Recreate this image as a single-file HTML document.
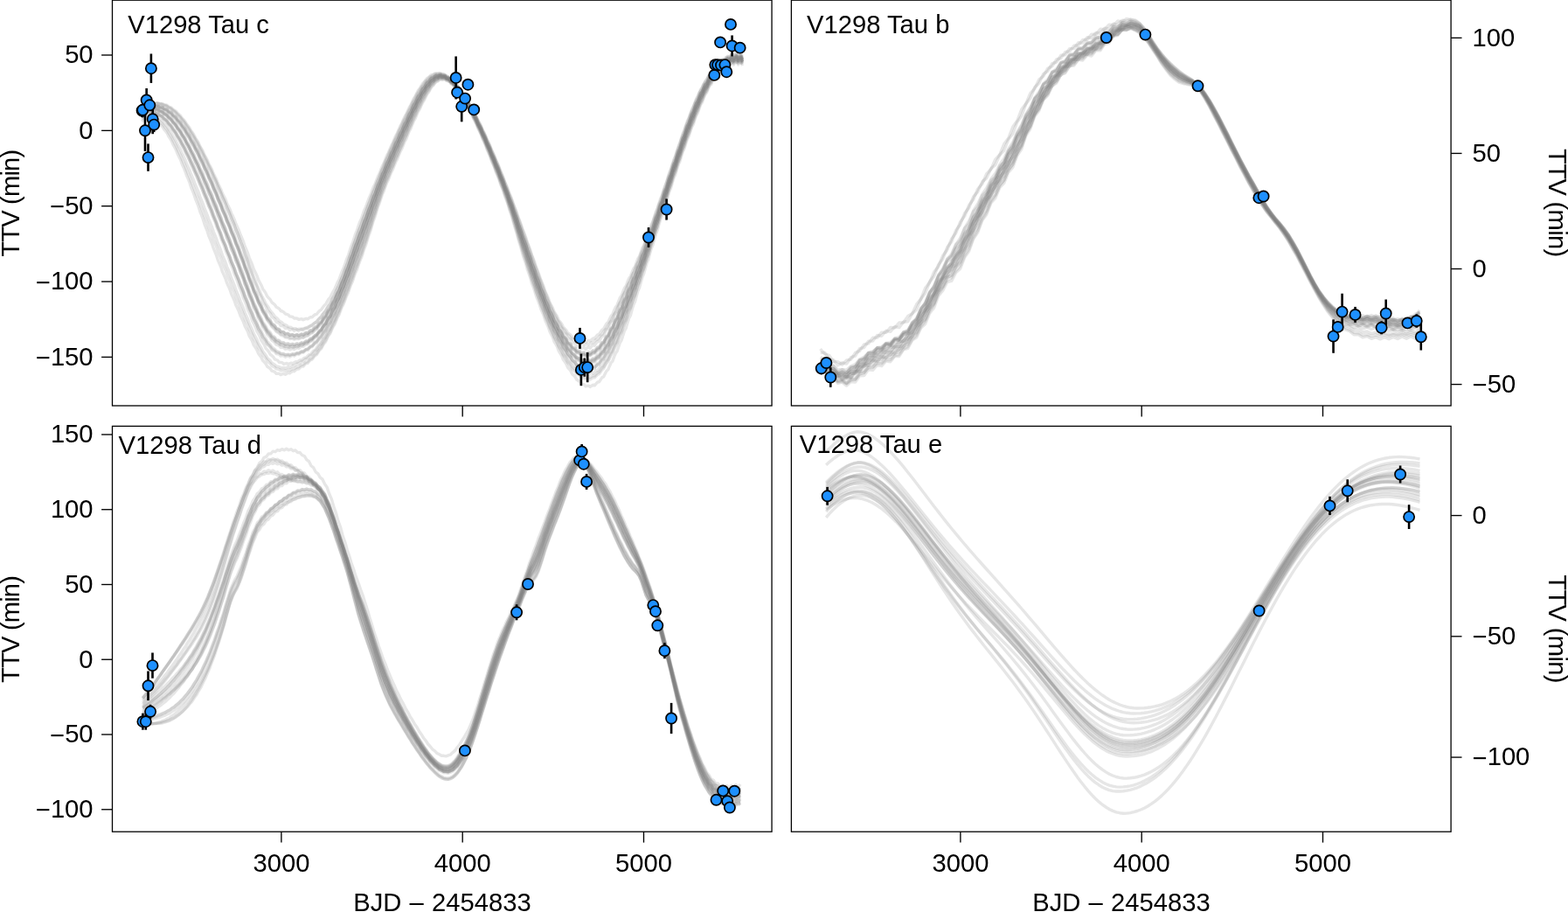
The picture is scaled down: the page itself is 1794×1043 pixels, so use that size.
<!DOCTYPE html>
<html lang="en"><head><meta charset="utf-8"><title>V1298 Tau transit timing variations</title>
<style>html,body{margin:0;padding:0;background:#fff;}body{width:1794px;height:1043px;overflow:hidden;}svg{display:block;}text{font-family:"Liberation Sans", sans-serif;font-size:29.2px;fill:#000;}.cv path{fill:none;stroke:#808080;stroke-opacity:0.2;stroke-width:3.4;stroke-linejoin:round;stroke-linecap:butt;}.eb line{stroke:#000;stroke-width:2.6;}.pt circle{fill:#1e90ff;stroke:#000;stroke-width:1.7;}</style></head><body>
<svg xmlns="http://www.w3.org/2000/svg" width="1794" height="1043" viewBox="0 0 1794 1043">
<rect x="0" y="0" width="1794" height="1043" fill="#fff"/>
<clipPath id="clip-c"><rect x="128.5" y="0.2" width="754.55" height="463.8"/></clipPath>
<g class="cv" clip-path="url(#clip-c)">
<path d="M162.2,139.0l1.7-1.8l1.7-1.1l1.7,0l1.7-.9l1.7-.3l1.8,.9l1.7-.1l1.7,.5l1.7,1.6l1.7,.7l1.7,1.2l1.7,2.3l1.7,1.3l1.7,1.8l1.7,3l1.8,2l1.7,2.3l1.7,3.6l1.7,2.4l1.7,2.9l1.7,4.1l1.7,2.9l1.7,3.3l1.7,4.4l1.7,3.4l1.8,3.6l1.7,4.9l1.7,3.6l1.7,4l1.7,5.1l1.7,3.8l1.7,4.2l1.7,5.4l1.7,4l1.7,4.4l1.8,5.5l1.7,4.1l1.7,4.5l1.7,5.5l1.7,4.2l1.7,4.5l1.7,5.6l1.7,4.2l1.7,4.4l1.7,5.5l1.8,4.1l1.7,4.3l1.7,5.4l1.7,4l1.7,4.2l1.7,5.3l1.7,3.8l1.7,4.1l1.7,5.3l1.7,3.7l1.8,4l1.7,5.2l1.7,3.6l1.7,3.9l1.7,5.2l1.7,3.5l1.7,3.8l1.7,5.1l1.7,3.4l1.7,3.8l1.8,5l1.7,3.4l1.7,3.6l1.7,4.9l1.7,3.1l1.7,3.5l1.7,4.7l1.7,2.9l1.7,3.1l1.7,4.5l1.8,2.6l1.7,2.8l1.7,4l1.7,2.2l1.7,2.4l1.7,3.6l1.7,1.8l1.7,1.8l1.7,3.2l1.7,1.1l1.8,1.3l1.7,2.6l1.7,.5l1.7,.6l1.7,2l1.7-.2l1.7,.1l1.7,1.4l1.7-.8l1.7-.4l1.8,.9l1.7-1.1l1.7-.9l1.7,.6l1.7-1.4l1.7-1.2l1.7,.4l1.7-1.6l1.7-1.3l1.7,.2l1.8-1.7l1.7-1.4l1.7,.1l1.7-1.9l1.7-1.5l1.7-.2l1.7-2.1l1.7-1.8l1.7-.4l1.7-2.4l1.8-2.2l1.7-.8l1.7-2.8l1.7-2.6l1.7-1.3l1.7-3.2l1.7-3.1l1.7-1.7l1.7-3.7l1.7-3.5l1.8-2.1l1.7-4.1l1.7-3.8l1.7-2.5l1.7-4.3l1.7-4.2l1.7-2.8l1.7-4.6l1.7-4.4l1.7-3.1l1.8-4.8l1.7-4.6l1.7-3.3l1.7-5l1.7-4.8l1.7-3.5l1.7-5.1l1.7-4.9l1.7-3.5l1.7-5.3l1.8-5l1.7-3.7l1.7-5.4l1.7-5.2l1.7-4l1.7-5.7l1.7-5.5l1.7-4.3l1.7-6l1.7-5.7l1.8-4.5l1.7-5.9l1.7-5.5l1.7-4.1l1.7-5.5l1.7-5l1.7-3.6l1.7-5l1.7-4.6l1.7-3.3l1.8-4.6l1.7-4.3l1.7-3.1l1.7-4.5l1.7-4.1l1.7-3l1.7-4.5l1.7-4.1l1.7-3.1l1.7-4.5l1.8-4.2l1.7-3l1.7-4.5l1.7-4.2l1.7-3l1.7-4.4l1.7-4.1l1.7-2.8l1.7-4.3l1.7-3.9l1.8-2.7l1.7-4l1.7-3.7l1.7-2.4l1.7-3.8l1.7-3.3l1.7-2.1l1.7-3.3l1.7-2.8l1.7-1.4l1.8-2.5l1.7-1.9l1.7-.5l1.7-1.5l1.7-.8l1.7,.6l1.7-.5l1.7,.1l1.7,1.5l1.7,.4l1.8,.8l1.7,2.3l1.7,1l1.7,1.5l1.7,2.8l1.7,1.6l1.7,2l1.7,3.3l1.7,2l1.7,2.4l1.8,3.7l1.7,2.5l1.7,2.8l1.7,4.1l1.7,2.7l1.7,3.2l1.7,4.3l1.7,3.1l1.7,3.4l1.7,4.7l1.7,3.2l1.8,3.7l1.7,4.8l1.7,3.5l1.7,3.8l1.7,5l1.7,3.7l1.7,3.9l1.7,5.2l1.7,3.8l1.7,4.1l1.8,5.3l1.7,3.9l1.7,4.3l1.7,5.4l1.7,4l1.7,4.3l1.7,5.6l1.7,4.3l1.7,4.8l1.7,6.1l1.8,5l1.7,5.3l1.7,6.6l1.7,5.3l1.7,5.6l1.7,6.7l1.7,5.3l1.7,5.5l1.7,6.6l1.7,5l1.8,5.2l1.7,6.4l1.7,4.7l1.7,5l1.7,6.1l1.7,4.5l1.7,4.7l1.7,5.8l1.7,4.2l1.7,4.4l1.8,5.6l1.7,3.9l1.7,4.1l1.7,5.4l1.7,3.6l1.7,3.8l1.7,5.1l1.7,3.3l1.7,3.4l1.7,5l1.8,2.9l1.7,3.1l1.7,4.7l1.7,2.6l1.7,2.8l1.7,4.4l1.7,2.2l1.7,2.5l1.7,4.1l1.7,1.9l1.8,2.2l1.7,3.7l1.7,1.4l1.7,1.7l1.7,3.3l1.7,.9l1.7,1.1l1.7,2.8l1.7,.2l1.7,.4l1.8,2.2l1.7-.5l1.7-.3l1.7,1.4l1.7-1.3l1.7-1l1.7,.6l1.7-2l1.7-1.8l1.7-.1l1.8-2.8l1.7-2.5l1.7-.7l1.7-3.5l1.7-3.2l1.7-1.4l1.7-4.1l1.7-3.8l1.7-1.8l1.7-4.7l1.8-4.3l1.7-2.4l1.7-5.1l1.7-4.8l1.7-2.7l1.7-5.6l1.7-5.2l1.7-3l1.7-6l1.7-5.4l1.8-3.3l1.7-6.2l1.7-5.8l1.7-3.5l1.7-6.4l1.7-5.9l1.7-3.7l1.7-6.5l1.7-5.9l1.7-3.8l1.8-6.6l1.7-6l1.7-3.8l1.7-6.6l1.7-6l1.7-3.9l1.7-6.5l1.7-6l1.7-3.9l1.7-6.5l1.8-5.9l1.7-3.9l1.7-6.4l1.7-5.9l1.7-3.8l1.7-6.3l1.7-5.8l1.7-3.7l1.7-6.2l1.7-5.7l1.8-3.6l1.7-6.1l1.7-5.5l1.7-3.5l1.7-5.9l1.7-5.3l1.7-3.4l1.7-5.8l1.7-5.1l1.7-3.3l1.8-5.5l1.7-5l1.7-3.1l1.7-5.4l1.7-4.8l1.7-2.9l1.7-5.1l1.7-4.6l1.7-2.5l1.7-4.9l1.8-4.2l1.7-2l1.7-4.5l1.7-3.8l1.7-1.2l1.7-4l1.7-3.2l1.7-.5l1.7-3.5l1.7-2.7l1.8,.2l1.7-3.1l1.7-2.2l1.7,.9l1.7-2.7l1.7-1.8l1.7,1.6l1.7-2.3l1.7-1.4l1.7,2.3l1.8-2.1l1.7-1l1.7,3l1.7-1.8l1.7-.8l1.7,3.7"/>
<path d="M162.2,136.4l1.7-1.5l1.7-1l1.7-.2l1.7-.7l1.7-.3l1.8,.6l1.7,0l1.7,.5l1.7,1.3l1.7,.7l1.7,1.1l1.7,1.9l1.7,1.4l1.7,1.7l1.7,2.6l1.8,2l1.7,2.2l1.7,3.2l1.7,2.4l1.7,2.8l1.7,3.6l1.7,3l1.7,3.2l1.7,4l1.7,3.4l1.8,3.5l1.7,4.4l1.7,3.6l1.7,3.9l1.7,4.6l1.7,3.9l1.7,4.1l1.7,4.8l1.7,4l1.7,4.2l1.8,5l1.7,4.1l1.7,4.3l1.7,5l1.7,4.1l1.7,4.4l1.7,5l1.7,4.1l1.7,4.4l1.7,5l1.8,4.1l1.7,4.3l1.7,5l1.7,4.1l1.7,4.2l1.7,5l1.7,4.1l1.7,4.2l1.7,4.9l1.7,4l1.8,4.2l1.7,5l1.7,3.9l1.7,4.2l1.7,4.9l1.7,3.9l1.7,4l1.7,4.9l1.7,3.9l1.7,4l1.8,4.8l1.7,3.7l1.7,4l1.7,4.7l1.7,3.5l1.7,3.8l1.7,4.4l1.7,3.4l1.7,3.4l1.7,4.2l1.8,2.9l1.7,3.1l1.7,3.8l1.7,2.6l1.7,2.6l1.7,3.4l1.7,2l1.7,2.2l1.7,2.8l1.7,1.6l1.8,1.5l1.7,2.4l1.7,.9l1.7,.9l1.7,1.8l1.7,.3l1.7,.3l1.7,1.2l1.7-.2l1.7-.1l1.8,.8l1.7-.6l1.7-.5l1.7,.4l1.7-1l1.7-.8l1.7,.2l1.7-1.2l1.7-1l1.7,0l1.8-1.4l1.7-1.1l1.7-.2l1.7-1.5l1.7-1.4l1.7-.5l1.7-1.8l1.7-1.6l1.7-.8l1.7-2.2l1.8-2l1.7-1.2l1.7-2.6l1.7-2.5l1.7-1.7l1.7-3.1l1.7-3l1.7-2.1l1.7-3.5l1.7-3.4l1.8-2.6l1.7-3.9l1.7-3.7l1.7-3l1.7-4.1l1.7-4.1l1.7-3.3l1.7-4.4l1.7-4.4l1.7-3.5l1.8-4.7l1.7-4.5l1.7-3.8l1.7-4.8l1.7-4.7l1.7-3.9l1.7-5l1.7-4.8l1.7-3.9l1.7-5.1l1.8-4.8l1.7-4.1l1.7-5.2l1.7-5.1l1.7-4.3l1.7-5.5l1.7-5.3l1.7-4.7l1.7-5.7l1.7-5.5l1.8-4.8l1.7-5.6l1.7-5.4l1.7-4.4l1.7-5.2l1.7-4.9l1.7-4l1.7-4.8l1.7-4.4l1.7-3.7l1.8-4.5l1.7-4.2l1.7-3.4l1.7-4.3l1.7-4.1l1.7-3.3l1.7-4.3l1.7-4l1.7-3.4l1.7-4.2l1.8-4.1l1.7-3.3l1.7-4.2l1.7-4l1.7-3.3l1.7-4.1l1.7-3.9l1.7-3.1l1.7-3.9l1.7-3.7l1.8-2.9l1.7-3.7l1.7-3.5l1.7-2.6l1.7-3.4l1.7-3.1l1.7-2.2l1.7-3l1.7-2.5l1.7-1.6l1.8-2.2l1.7-1.7l1.7-.7l1.7-1.2l1.7-.7l1.7,.4l1.7-.2l1.7,.2l1.7,1.2l1.7,.6l1.8,1l1.7,1.9l1.7,1.2l1.7,1.6l1.7,2.5l1.7,1.7l1.7,2.1l1.7,3l1.7,2.2l1.7,2.5l1.8,3.4l1.7,2.5l1.7,2.9l1.7,3.8l1.7,2.9l1.7,3.2l1.7,4l1.7,3.2l1.7,3.5l1.7,4.3l1.7,3.5l1.8,3.7l1.7,4.5l1.7,3.6l1.7,3.9l1.7,4.6l1.7,3.8l1.7,4.1l1.7,4.8l1.7,4l1.7,4.1l1.8,5l1.7,4.1l1.7,4.3l1.7,5l1.7,4.2l1.7,4.4l1.7,5.3l1.7,4.4l1.7,4.8l1.7,5.7l1.8,5l1.7,5.3l1.7,6.2l1.7,5.3l1.7,5.5l1.7,6.3l1.7,5.3l1.7,5.4l1.7,6.1l1.7,5.1l1.8,5.2l1.7,5.9l1.7,4.9l1.7,4.9l1.7,5.7l1.7,4.7l1.7,4.7l1.7,5.5l1.7,4.4l1.7,4.5l1.8,5.3l1.7,4.1l1.7,4.2l1.7,5.1l1.7,3.8l1.7,3.9l1.7,4.8l1.7,3.4l1.7,3.6l1.7,4.5l1.8,3.1l1.7,3.3l1.7,4.2l1.7,2.7l1.7,2.9l1.7,3.9l1.7,2.4l1.7,2.5l1.7,3.5l1.7,2l1.8,2.1l1.7,3.1l1.7,1.6l1.7,1.6l1.7,2.6l1.7,.9l1.7,1.1l1.7,2l1.7,.4l1.7,.4l1.8,1.4l1.7-.4l1.7-.3l1.7,.8l1.7-1.1l1.7-1.1l1.7,.1l1.7-1.9l1.7-1.7l1.7-.6l1.8-2.5l1.7-2.4l1.7-1.3l1.7-3.2l1.7-3l1.7-1.8l1.7-3.7l1.7-3.6l1.7-2.4l1.7-4.2l1.8-4.1l1.7-2.8l1.7-4.7l1.7-4.5l1.7-3.1l1.7-5.1l1.7-4.8l1.7-3.4l1.7-5.4l1.7-5.1l1.8-3.7l1.7-5.6l1.7-5.3l1.7-3.9l1.7-5.7l1.7-5.5l1.7-4.1l1.7-5.9l1.7-5.6l1.7-4.2l1.8-6l1.7-5.6l1.7-4.3l1.7-6.1l1.7-5.7l1.7-4.3l1.7-6l1.7-5.7l1.7-4.3l1.7-6l1.8-5.7l1.7-4.3l1.7-6l1.7-5.6l1.7-4.2l1.7-5.9l1.7-5.5l1.7-4.2l1.7-5.8l1.7-5.4l1.8-4.1l1.7-5.6l1.7-5.3l1.7-4l1.7-5.5l1.7-5.1l1.7-3.9l1.7-5.3l1.7-5l1.7-3.6l1.8-5.2l1.7-4.8l1.7-3.5l1.7-5l1.7-4.5l1.7-3.4l1.7-4.7l1.7-4.3l1.7-3l1.7-4.4l1.8-4l1.7-2.4l1.7-4l1.7-3.5l1.7-1.8l1.7-3.5l1.7-3l1.7-1.1l1.7-3l1.7-2.5l1.8-.5l1.7-2.5l1.7-1.9l1.7,.1l1.7-2.1l1.7-1.5l1.7,.7l1.7-1.7l1.7-1.1l1.7,1.4l1.8-1.4l1.7-.7l1.7,2l1.7-1.1l1.7-.4l1.7,2.6"/>
<path d="M162.2,134.7l1.7-1.4l1.7-1.1l1.7-.1l1.7-.7l1.7-.4l1.8,.7l1.7-.1l1.7,.3l1.7,1.3l1.7,.5l1.7,.9l1.7,1.9l1.7,1.1l1.7,1.5l1.7,2.4l1.8,1.6l1.7,2l1.7,3l1.7,2.1l1.7,2.5l1.7,3.4l1.7,2.6l1.7,2.9l1.7,3.8l1.7,2.9l1.8,3.3l1.7,4.2l1.7,3.3l1.7,3.6l1.7,4.5l1.7,3.5l1.7,3.8l1.7,4.8l1.7,3.7l1.7,4.1l1.8,4.9l1.7,3.9l1.7,4.1l1.7,5.1l1.7,4l1.7,4.2l1.7,5.1l1.7,4l1.7,4.2l1.7,5.1l1.8,4.1l1.7,4.2l1.7,5.1l1.7,4l1.7,4.3l1.7,5.1l1.7,4l1.7,4.2l1.7,5.1l1.7,4l1.8,4.2l1.7,5.1l1.7,3.9l1.7,4.2l1.7,5.1l1.7,3.9l1.7,4.1l1.7,5.2l1.7,3.9l1.7,4.1l1.8,5.1l1.7,3.9l1.7,4.1l1.7,5l1.7,3.8l1.7,3.9l1.7,4.9l1.7,3.5l1.7,3.6l1.7,4.6l1.8,3.2l1.7,3.2l1.7,4.3l1.7,2.7l1.7,2.8l1.7,3.7l1.7,2.2l1.7,2.2l1.7,3.2l1.7,1.6l1.8,1.6l1.7,2.6l1.7,.9l1.7,1l1.7,1.9l1.7,.2l1.7,.4l1.7,1.3l1.7-.3l1.7-.2l1.8,.8l1.7-.8l1.7-.6l1.7,.5l1.7-1.1l1.7-.9l1.7,.2l1.7-1.4l1.7-1.1l1.7,.1l1.8-1.5l1.7-1.3l1.7-.1l1.7-1.6l1.7-1.5l1.7-.3l1.7-1.9l1.7-1.7l1.7-.7l1.7-2.2l1.8-2.1l1.7-1l1.7-2.6l1.7-2.5l1.7-1.5l1.7-3.1l1.7-3l1.7-1.9l1.7-3.5l1.7-3.4l1.8-2.4l1.7-3.8l1.7-3.8l1.7-2.7l1.7-4.3l1.7-4l1.7-3.1l1.7-4.5l1.7-4.4l1.7-3.4l1.8-4.8l1.7-4.6l1.7-3.6l1.7-5l1.7-4.7l1.7-3.8l1.7-5.1l1.7-4.8l1.7-3.9l1.7-5.1l1.8-4.9l1.7-3.9l1.7-5.3l1.7-5.1l1.7-4.1l1.7-5.5l1.7-5.3l1.7-4.4l1.7-5.8l1.7-5.4l1.8-4.5l1.7-5.7l1.7-5.3l1.7-4.2l1.7-5.2l1.7-4.9l1.7-3.8l1.7-4.8l1.7-4.5l1.7-3.4l1.8-4.6l1.7-4.2l1.7-3.3l1.7-4.4l1.7-4.1l1.7-3.2l1.7-4.3l1.7-4.2l1.7-3.2l1.7-4.4l1.8-4.1l1.7-3.2l1.7-4.4l1.7-4l1.7-3.2l1.7-4.2l1.7-4l1.7-3l1.7-4.1l1.7-3.8l1.8-2.8l1.7-3.8l1.7-3.4l1.7-2.5l1.7-3.4l1.7-3.1l1.7-2l1.7-2.9l1.7-2.5l1.7-1.3l1.8-2.2l1.7-1.6l1.7-.4l1.7-1.2l1.7-.6l1.7,.5l1.7-.2l1.7,.2l1.7,1.4l1.7,.5l1.8,.9l1.7,2.1l1.7,1.2l1.7,1.5l1.7,2.6l1.7,1.7l1.7,2l1.7,3l1.7,2.1l1.7,2.5l1.8,3.5l1.7,2.4l1.7,2.8l1.7,3.9l1.7,2.8l1.7,3.1l1.7,4.2l1.7,3l1.7,3.5l1.7,4.3l1.7,3.4l1.8,3.6l1.7,4.6l1.7,3.5l1.7,3.8l1.7,4.7l1.7,3.7l1.7,4l1.7,4.9l1.7,3.9l1.7,4.1l1.8,5l1.7,4l1.7,4.2l1.7,5.2l1.7,4.1l1.7,4.3l1.7,5.4l1.7,4.3l1.7,4.8l1.7,5.8l1.8,4.8l1.7,5.2l1.7,6.3l1.7,5.2l1.7,5.4l1.7,6.4l1.7,5.2l1.7,5.4l1.7,6.2l1.7,5l1.8,5.2l1.7,6.1l1.7,4.8l1.7,4.9l1.7,5.9l1.7,4.6l1.7,4.7l1.7,5.7l1.7,4.3l1.7,4.4l1.8,5.5l1.7,4l1.7,4.2l1.7,5.2l1.7,3.7l1.7,3.8l1.7,4.9l1.7,3.4l1.7,3.5l1.7,4.6l1.8,3l1.7,3.1l1.7,4.3l1.7,2.6l1.7,2.8l1.7,4l1.7,2.3l1.7,2.4l1.7,3.6l1.7,1.9l1.8,2l1.7,3.3l1.7,1.3l1.7,1.6l1.7,2.8l1.7,.8l1.7,1l1.7,2.2l1.7,.2l1.7,.3l1.8,1.7l1.7-.5l1.7-.4l1.7,.9l1.7-1.2l1.7-1.1l1.7,.3l1.7-2l1.7-1.8l1.7-.4l1.8-2.6l1.7-2.5l1.7-1l1.7-3.3l1.7-3.1l1.7-1.6l1.7-3.9l1.7-3.6l1.7-2.2l1.7-4.4l1.8-4.1l1.7-2.6l1.7-4.8l1.7-4.6l1.7-2.9l1.7-5.1l1.7-4.9l1.7-3.1l1.7-5.4l1.7-5.1l1.8-3.4l1.7-5.6l1.7-5.3l1.7-3.6l1.7-5.8l1.7-5.5l1.7-3.7l1.7-6l1.7-5.6l1.7-3.9l1.8-6l1.7-5.7l1.7-4l1.7-6.1l1.7-5.7l1.7-4.1l1.7-6.1l1.7-5.8l1.7-4.1l1.7-6.1l1.8-5.8l1.7-4l1.7-6.2l1.7-5.7l1.7-4l1.7-6.1l1.7-5.6l1.7-4l1.7-5.9l1.7-5.6l1.8-3.9l1.7-5.8l1.7-5.4l1.7-3.8l1.7-5.7l1.7-5.3l1.7-3.6l1.7-5.6l1.7-5l1.7-3.6l1.8-5.3l1.7-4.9l1.7-3.3l1.7-5.1l1.7-4.7l1.7-3.1l1.7-4.8l1.7-4.4l1.7-2.7l1.7-4.6l1.8-4l1.7-2.2l1.7-4.1l1.7-3.5l1.7-1.6l1.7-3.6l1.7-3l1.7-.8l1.7-3.2l1.7-2.5l1.8-.2l1.7-2.7l1.7-2.1l1.7,.4l1.7-2.3l1.7-1.6l1.7,1.1l1.7-2l1.7-1.2l1.7,1.7l1.8-1.6l1.7-.9l1.7,2.4l1.7-1.4l1.7-.6l1.7,3"/>
<path d="M162.2,131.4l1.7-1.3l1.7,0l1.7-1l1.7-.7l1.7,.6l1.8-.5l1.7-.1l1.7,1.2l1.7,0l1.7,.5l1.7,1.7l1.7,.5l1.7,1l1.7,2.2l1.7,1l1.8,1.5l1.7,2.6l1.7,1.5l1.7,1.8l1.7,3.1l1.7,1.9l1.7,2.2l1.7,3.5l1.7,2.2l1.7,2.6l1.8,3.9l1.7,2.5l1.7,3l1.7,4.2l1.7,2.8l1.7,3.3l1.7,4.4l1.7,3.2l1.7,3.5l1.7,4.7l1.8,3.3l1.7,3.7l1.7,4.9l1.7,3.6l1.7,3.8l1.7,5.1l1.7,3.6l1.7,4l1.7,5.1l1.7,3.8l1.8,4.1l1.7,5.3l1.7,3.9l1.7,4.2l1.7,5.4l1.7,3.9l1.7,4.3l1.7,5.4l1.7,4l1.7,4.2l1.8,5.5l1.7,4l1.7,4.2l1.7,5.5l1.7,3.9l1.7,4.3l1.7,5.5l1.7,3.9l1.7,4.2l1.7,5.6l1.8,3.9l1.7,4.2l1.7,5.6l1.7,3.8l1.7,4.2l1.7,5.4l1.7,3.7l1.7,3.9l1.7,5.2l1.7,3.3l1.8,3.6l1.7,4.9l1.7,2.9l1.7,3.1l1.7,4.5l1.7,2.4l1.7,2.6l1.7,4l1.7,1.8l1.7,2l1.8,3.4l1.7,1.2l1.7,1.5l1.7,2.7l1.7,.6l1.7,.8l1.7,2.1l1.7,0l1.7,.2l1.7,1.7l1.8-.5l1.7-.3l1.7,1.2l1.7-.9l1.7-.7l1.7,.9l1.7-1.3l1.7-1l1.7,.6l1.7-1.5l1.8-1.1l1.7,.4l1.7-1.7l1.7-1.3l1.7,.1l1.7-2l1.7-1.6l1.7-.2l1.7-2.3l1.7-2.1l1.8-.6l1.7-2.7l1.7-2.5l1.7-1.1l1.7-3.1l1.7-3l1.7-1.6l1.7-3.6l1.7-3.4l1.7-2l1.8-4l1.7-3.8l1.7-2.4l1.7-4.4l1.7-4.1l1.7-2.8l1.7-4.8l1.7-4.4l1.7-3.1l1.7-5l1.8-4.8l1.7-3.3l1.7-5.2l1.7-4.9l1.7-3.6l1.7-5.3l1.7-5l1.7-3.6l1.7-5.3l1.7-5l1.8-3.7l1.7-5.3l1.7-5.1l1.7-3.8l1.7-5.5l1.7-5.2l1.7-4l1.7-5.8l1.7-5.4l1.7-4.2l1.8-5.7l1.7-5.4l1.7-4l1.7-5.5l1.7-5l1.7-3.7l1.7-5l1.7-4.7l1.7-3.3l1.7-4.8l1.8-4.4l1.7-3.1l1.7-4.6l1.7-4.2l1.7-3.1l1.7-4.5l1.7-4.2l1.7-3l1.7-4.5l1.7-4.2l1.8-3l1.7-4.4l1.7-4.2l1.7-2.9l1.7-4.4l1.7-4.1l1.7-2.8l1.7-4.2l1.7-3.8l1.7-2.6l1.8-4l1.7-3.5l1.7-2.2l1.7-3.6l1.7-3.1l1.7-1.8l1.7-3.1l1.7-2.6l1.7-1.2l1.7-2.4l1.8-1.9l1.7-.4l1.7-1.5l1.7-1l1.7,.6l1.7-.7l1.7,0l1.7,1.4l1.7,.1l1.7,.7l1.8,2.1l1.7,.8l1.7,1.3l1.7,2.7l1.7,1.3l1.7,1.8l1.7,3.1l1.7,1.8l1.7,2.3l1.7,3.5l1.8,2.2l1.7,2.6l1.7,3.9l1.7,2.6l1.7,2.9l1.7,4.2l1.7,2.9l1.7,3.2l1.7,4.5l1.7,3l1.7,3.5l1.8,4.7l1.7,3.2l1.7,3.7l1.7,4.8l1.7,3.5l1.7,3.7l1.7,5.1l1.7,3.5l1.7,4l1.7,5.1l1.8,3.8l1.7,4l1.7,5.3l1.7,3.9l1.7,4.2l1.7,5.4l1.7,4l1.7,4.4l1.7,5.8l1.7,4.5l1.8,4.9l1.7,6.2l1.7,4.8l1.7,5.2l1.7,6.5l1.7,5l1.7,5.2l1.7,6.4l1.7,4.9l1.7,5.1l1.8,6.3l1.7,4.6l1.7,4.9l1.7,6.1l1.7,4.5l1.7,4.7l1.7,5.9l1.7,4.2l1.7,4.4l1.7,5.8l1.8,3.9l1.7,4.2l1.7,5.5l1.7,3.6l1.7,3.9l1.7,5.2l1.7,3.2l1.7,3.5l1.7,4.9l1.7,2.9l1.8,3.1l1.7,4.6l1.7,2.5l1.7,2.8l1.7,4.3l1.7,2.1l1.7,2.3l1.7,4.1l1.7,1.7l1.7,2l1.8,3.6l1.7,1.3l1.7,1.5l1.7,3.3l1.7,.8l1.7,1l1.7,2.8l1.7,.2l1.7,.5l1.7,2.3l1.8-.5l1.7-.1l1.7,1.6l1.7-1.1l1.7-.9l1.7,1l1.7-1.8l1.7-1.6l1.7,.3l1.7-2.6l1.8-2.2l1.7-.4l1.7-3.3l1.7-2.9l1.7-1l1.7-3.9l1.7-3.6l1.7-1.5l1.7-4.5l1.7-4.1l1.8-2.1l1.7-5l1.7-4.6l1.7-2.4l1.7-5.4l1.7-4.9l1.7-2.7l1.7-5.7l1.7-5.2l1.7-2.9l1.8-5.9l1.7-5.4l1.7-3l1.7-6.1l1.7-5.5l1.7-3.3l1.7-6.2l1.7-5.6l1.7-3.4l1.7-6.3l1.8-5.7l1.7-3.5l1.7-6.4l1.7-5.8l1.7-3.5l1.7-6.4l1.7-5.8l1.7-3.6l1.7-6.4l1.7-5.8l1.8-3.7l1.7-6.3l1.7-5.8l1.7-3.6l1.7-6.3l1.7-5.7l1.7-3.6l1.7-6.2l1.7-5.7l1.7-3.5l1.8-6.1l1.7-5.6l1.7-3.4l1.7-6l1.7-5.4l1.7-3.3l1.7-5.8l1.7-5.3l1.7-3.2l1.7-5.6l1.8-5.1l1.7-3l1.7-5.4l1.7-4.8l1.7-2.8l1.7-5.1l1.7-4.6l1.7-2.5l1.7-4.8l1.7-4.2l1.8-1.9l1.7-4.5l1.7-3.8l1.7-1.3l1.7-4l1.7-3.3l1.7-.5l1.7-3.6l1.7-2.8l1.7,.1l1.8-3.2l1.7-2.3l1.7,.8l1.7-2.8l1.7-1.9l1.7,1.4l1.7-2.5l1.7-1.5l1.7,2.2l1.7-2.2l1.8-1.2l1.7,2.9l1.7-2l1.7-.8l1.7,3.6l1.7-1.8"/>
<path d="M162.2,131.3l1.7-1.5l1.7-1l1.7,.2l1.7-.9l1.7-.5l1.8,.8l1.7-.4l1.7,.1l1.7,1.3l1.7,.2l1.7,.6l1.7,1.9l1.7,.7l1.7,1.1l1.7,2.3l1.8,1.2l1.7,1.6l1.7,2.9l1.7,1.6l1.7,2l1.7,3.3l1.7,2.1l1.7,2.5l1.7,3.7l1.7,2.4l1.8,2.9l1.7,4.1l1.7,2.8l1.7,3.1l1.7,4.4l1.7,3.1l1.7,3.4l1.7,4.6l1.7,3.3l1.7,3.5l1.8,4.9l1.7,3.4l1.7,3.7l1.7,4.9l1.7,3.5l1.7,3.8l1.7,5l1.7,3.5l1.7,3.8l1.7,5.1l1.8,3.5l1.7,3.9l1.7,5.1l1.7,3.6l1.7,3.9l1.7,5.1l1.7,3.6l1.7,4l1.7,5.2l1.7,3.6l1.8,3.9l1.7,5.2l1.7,3.6l1.7,4l1.7,5.3l1.7,3.6l1.7,4l1.7,5.4l1.7,3.7l1.7,4l1.8,5.5l1.7,3.7l1.7,4.1l1.7,5.6l1.7,3.7l1.7,4l1.7,5.4l1.7,3.5l1.7,3.7l1.7,5.2l1.8,3.1l1.7,3.4l1.7,4.8l1.7,2.6l1.7,2.9l1.7,4.3l1.7,2.1l1.7,2.3l1.7,3.7l1.7,1.5l1.8,1.6l1.7,3.1l1.7,.8l1.7,1l1.7,2.5l1.7,.2l1.7,.4l1.7,1.9l1.7-.4l1.7,0l1.8,1.5l1.7-.8l1.7-.5l1.7,1.2l1.7-1.1l1.7-.8l1.7,.9l1.7-1.3l1.7-1l1.7,.7l1.8-1.5l1.7-1.1l1.7,.4l1.7-1.6l1.7-1.4l1.7,.2l1.7-1.9l1.7-1.7l1.7-.1l1.7-2.3l1.8-2l1.7-.5l1.7-2.7l1.7-2.4l1.7-1l1.7-3.2l1.7-2.8l1.7-1.5l1.7-3.6l1.7-3.3l1.8-1.9l1.7-4l1.7-3.7l1.7-2.4l1.7-4.4l1.7-4.1l1.7-2.7l1.7-4.7l1.7-4.5l1.7-3.1l1.8-5.1l1.7-4.7l1.7-3.4l1.7-5.3l1.7-4.9l1.7-3.6l1.7-5.4l1.7-5l1.7-3.6l1.7-5.4l1.8-5l1.7-3.7l1.7-5.5l1.7-5.1l1.7-3.9l1.7-5.6l1.7-5.3l1.7-4l1.7-5.8l1.7-5.4l1.8-4.1l1.7-5.7l1.7-5.2l1.7-3.8l1.7-5.3l1.7-4.9l1.7-3.4l1.7-5l1.7-4.5l1.7-3.2l1.8-4.7l1.7-4.3l1.7-3l1.7-4.6l1.7-4.1l1.7-3l1.7-4.4l1.7-4.2l1.7-2.9l1.7-4.4l1.8-4.2l1.7-2.8l1.7-4.4l1.7-4.1l1.7-2.8l1.7-4.3l1.7-3.9l1.7-2.6l1.7-4.1l1.7-3.8l1.8-2.3l1.7-3.8l1.7-3.4l1.7-2l1.7-3.4l1.7-2.9l1.7-1.5l1.7-2.8l1.7-2.3l1.7-.8l1.8-2.1l1.7-1.5l1.7,0l1.7-1.2l1.7-.6l1.7,1l1.7-.4l1.7,.2l1.7,1.7l1.7,.4l1.8,.9l1.7,2.3l1.7,.9l1.7,1.5l1.7,2.8l1.7,1.5l1.7,1.9l1.7,3.3l1.7,1.9l1.7,2.3l1.8,3.7l1.7,2.3l1.7,2.7l1.7,4l1.7,2.6l1.7,3l1.7,4.3l1.7,2.9l1.7,3.3l1.7,4.6l1.7,3.1l1.8,3.5l1.7,4.7l1.7,3.3l1.7,3.7l1.7,4.9l1.7,3.5l1.7,3.8l1.7,5.1l1.7,3.7l1.7,3.9l1.8,5.3l1.7,3.7l1.7,4.1l1.7,5.4l1.7,3.9l1.7,4.2l1.7,5.5l1.7,4.1l1.7,4.5l1.7,6l1.8,4.5l1.7,5l1.7,6.3l1.7,4.8l1.7,5.1l1.7,6.4l1.7,4.9l1.7,5.1l1.7,6.3l1.7,4.7l1.8,4.9l1.7,6.2l1.7,4.5l1.7,4.7l1.7,6l1.7,4.3l1.7,4.5l1.7,5.9l1.7,4l1.7,4.4l1.8,5.7l1.7,3.7l1.7,4.1l1.7,5.4l1.7,3.5l1.7,3.7l1.7,5.2l1.7,3l1.7,3.4l1.7,4.8l1.8,2.7l1.7,3l1.7,4.5l1.7,2.3l1.7,2.6l1.7,4.2l1.7,1.9l1.7,2.2l1.7,3.9l1.7,1.4l1.8,1.8l1.7,3.5l1.7,1l1.7,1.3l1.7,3l1.7,.5l1.7,.7l1.7,2.6l1.7-.2l1.7,.1l1.8,2l1.7-.8l1.7-.6l1.7,1.4l1.7-1.6l1.7-1.2l1.7,.6l1.7-2.2l1.7-1.9l1.7,0l1.8-2.9l1.7-2.6l1.7-.6l1.7-3.6l1.7-3.2l1.7-1.2l1.7-4.1l1.7-3.8l1.7-1.7l1.7-4.7l1.8-4.3l1.7-2l1.7-5.2l1.7-4.6l1.7-2.4l1.7-5.4l1.7-4.9l1.7-2.5l1.7-5.6l1.7-5.1l1.8-2.6l1.7-5.8l1.7-5.3l1.7-2.8l1.7-6l1.7-5.4l1.7-3l1.7-6.1l1.7-5.5l1.7-3.2l1.8-6.2l1.7-5.7l1.7-3.3l1.7-6.3l1.7-5.7l1.7-3.5l1.7-6.3l1.7-5.8l1.7-3.5l1.7-6.3l1.8-5.8l1.7-3.5l1.7-6.4l1.7-5.7l1.7-3.6l1.7-6.3l1.7-5.7l1.7-3.5l1.7-6.2l1.7-5.6l1.8-3.5l1.7-6.1l1.7-5.5l1.7-3.4l1.7-5.9l1.7-5.4l1.7-3.3l1.7-5.8l1.7-5.2l1.7-3.1l1.8-5.5l1.7-5l1.7-2.9l1.7-5.3l1.7-4.8l1.7-2.6l1.7-5l1.7-4.5l1.7-2.2l1.7-4.7l1.8-4.1l1.7-1.6l1.7-4.3l1.7-3.6l1.7-.9l1.7-3.9l1.7-3.1l1.7-.3l1.7-3.4l1.7-2.7l1.8,.4l1.7-3.1l1.7-2.2l1.7,1.1l1.7-2.7l1.7-1.9l1.7,1.8l1.7-2.4l1.7-1.5l1.7,2.5l1.8-2.2l1.7-1.1l1.7,3.3l1.7-2l1.7-.9l1.7,4"/>
<path d="M162.2,131.1l1.7-1.3l1.7-1l1.7,0l1.7-.8l1.7-.3l1.8,.5l1.7-.2l1.7,.1l1.7,1.1l1.7,.3l1.7,.7l1.7,1.5l1.7,.8l1.7,1.2l1.7,2l1.8,1.3l1.7,1.6l1.7,2.5l1.7,1.7l1.7,2l1.7,2.9l1.7,2.1l1.7,2.4l1.7,3.3l1.7,2.5l1.8,2.7l1.7,3.7l1.7,2.8l1.7,3.1l1.7,4l1.7,3l1.7,3.4l1.7,4.2l1.7,3.3l1.7,3.6l1.8,4.5l1.7,3.5l1.7,3.8l1.7,4.6l1.7,3.7l1.7,3.9l1.7,4.8l1.7,3.8l1.7,4l1.7,4.9l1.8,3.9l1.7,4.1l1.7,5l1.7,4l1.7,4.1l1.7,5.1l1.7,4l1.7,4.2l1.7,5.2l1.7,4l1.8,4.2l1.7,5.2l1.7,4l1.7,4.2l1.7,5.2l1.7,4l1.7,4.2l1.7,5.2l1.7,4l1.7,4.2l1.8,5.2l1.7,4l1.7,4.2l1.7,5.2l1.7,3.9l1.7,4.1l1.7,5l1.7,3.6l1.7,3.8l1.7,4.7l1.8,3.2l1.7,3.4l1.7,4.3l1.7,2.7l1.7,2.9l1.7,3.8l1.7,2.2l1.7,2.2l1.7,3.2l1.7,1.6l1.8,1.7l1.7,2.6l1.7,.9l1.7,1l1.7,2.1l1.7,.3l1.7,.5l1.7,1.5l1.7-.1l1.7,0l1.8,1.1l1.7-.5l1.7-.3l1.7,.8l1.7-.8l1.7-.6l1.7,.6l1.7-1l1.7-.8l1.7,.4l1.8-1.2l1.7-.9l1.7,.2l1.7-1.4l1.7-1.1l1.7-.1l1.7-1.7l1.7-1.5l1.7-.4l1.7-2l1.8-1.9l1.7-.8l1.7-2.4l1.7-2.3l1.7-1.3l1.7-2.9l1.7-2.8l1.7-1.8l1.7-3.4l1.7-3.2l1.8-2.3l1.7-3.8l1.7-3.6l1.7-2.7l1.7-4.2l1.7-4.1l1.7-3.1l1.7-4.6l1.7-4.4l1.7-3.5l1.8-4.9l1.7-4.8l1.7-3.7l1.7-5.1l1.7-5l1.7-3.9l1.7-5.2l1.7-5l1.7-3.9l1.7-5.3l1.8-4.9l1.7-4l1.7-5.3l1.7-5l1.7-4.1l1.7-5.4l1.7-5.2l1.7-4.2l1.7-5.5l1.7-5.3l1.8-4.3l1.7-5.4l1.7-5l1.7-4l1.7-5.1l1.7-4.7l1.7-3.6l1.7-4.7l1.7-4.4l1.7-3.4l1.8-4.4l1.7-4.2l1.7-3.2l1.7-4.3l1.7-4.1l1.7-3.1l1.7-4.2l1.7-4.1l1.7-3.1l1.7-4.2l1.8-4l1.7-3.1l1.7-4.3l1.7-3.9l1.7-3.1l1.7-4.1l1.7-3.8l1.7-2.9l1.7-4l1.7-3.6l1.8-2.6l1.7-3.7l1.7-3.3l1.7-2.2l1.7-3.3l1.7-2.8l1.7-1.8l1.7-2.6l1.7-2.2l1.7-1.1l1.8-1.9l1.7-1.5l1.7-.2l1.7-1l1.7-.5l1.7,.7l1.7-.2l1.7,.3l1.7,1.4l1.7,.6l1.8,.9l1.7,2.1l1.7,1.1l1.7,1.6l1.7,2.6l1.7,1.6l1.7,2l1.7,3l1.7,2.1l1.7,2.4l1.8,3.4l1.7,2.4l1.7,2.8l1.7,3.8l1.7,2.8l1.7,3l1.7,4.1l1.7,3.1l1.7,3.3l1.7,4.3l1.7,3.3l1.8,3.6l1.7,4.5l1.7,3.5l1.7,3.7l1.7,4.7l1.7,3.7l1.7,3.9l1.7,4.8l1.7,3.8l1.7,4.1l1.8,4.9l1.7,4l1.7,4.1l1.7,5.1l1.7,4.1l1.7,4.2l1.7,5.3l1.7,4.2l1.7,4.6l1.7,5.7l1.8,4.7l1.7,5l1.7,5.9l1.7,5l1.7,5.2l1.7,6.1l1.7,4.9l1.7,5.1l1.7,6l1.7,4.8l1.8,5l1.7,5.9l1.7,4.6l1.7,4.8l1.7,5.7l1.7,4.4l1.7,4.7l1.7,5.5l1.7,4.3l1.7,4.4l1.8,5.4l1.7,4l1.7,4.1l1.7,5.2l1.7,3.7l1.7,3.8l1.7,4.9l1.7,3.3l1.7,3.5l1.7,4.5l1.8,3l1.7,3.1l1.7,4.2l1.7,2.5l1.7,2.8l1.7,3.9l1.7,2.1l1.7,2.4l1.7,3.5l1.7,1.7l1.8,2l1.7,3.1l1.7,1.3l1.7,1.4l1.7,2.7l1.7,.7l1.7,.9l1.7,2.2l1.7,.1l1.7,.3l1.8,1.5l1.7-.6l1.7-.4l1.7,.9l1.7-1.3l1.7-1.1l1.7,.2l1.7-2l1.7-1.8l1.7-.4l1.8-2.7l1.7-2.5l1.7-1.1l1.7-3.3l1.7-3.1l1.7-1.6l1.7-3.9l1.7-3.7l1.7-2.1l1.7-4.5l1.8-4.1l1.7-2.6l1.7-4.8l1.7-4.5l1.7-2.8l1.7-5.1l1.7-4.7l1.7-3l1.7-5.3l1.7-4.8l1.8-3.2l1.7-5.4l1.7-5l1.7-3.3l1.7-5.6l1.7-5.2l1.7-3.4l1.7-5.8l1.7-5.3l1.7-3.7l1.8-5.8l1.7-5.5l1.7-3.7l1.7-6l1.7-5.5l1.7-3.9l1.7-6l1.7-5.6l1.7-4l1.7-6l1.8-5.6l1.7-4l1.7-6l1.7-5.7l1.7-3.9l1.7-6l1.7-5.6l1.7-4l1.7-5.9l1.7-5.5l1.8-3.9l1.7-5.8l1.7-5.4l1.7-3.8l1.7-5.7l1.7-5.3l1.7-3.7l1.7-5.5l1.7-5.1l1.7-3.5l1.8-5.3l1.7-4.9l1.7-3.3l1.7-5.1l1.7-4.6l1.7-3l1.7-4.8l1.7-4.3l1.7-2.6l1.7-4.4l1.8-3.9l1.7-2l1.7-4l1.7-3.4l1.7-1.5l1.7-3.5l1.7-2.9l1.7-.8l1.7-3.1l1.7-2.4l1.8-.2l1.7-2.6l1.7-2l1.7,.4l1.7-2.3l1.7-1.5l1.7,1l1.7-1.9l1.7-1.2l1.7,1.7l1.8-1.6l1.7-.9l1.7,2.4l1.7-1.4l1.7-.5l1.7,3.1"/>
<path d="M162.2,130.8l1.7-1.3l1.7-.9l1.7-.1l1.7-.7l1.7-.4l1.8,.5l1.7-.2l1.7,.2l1.7,1l1.7,.3l1.7,.7l1.7,1.5l1.7,.8l1.7,1.1l1.7,2l1.8,1.2l1.7,1.6l1.7,2.4l1.7,1.7l1.7,2l1.7,2.8l1.7,2l1.7,2.4l1.7,3.2l1.7,2.4l1.8,2.7l1.7,3.6l1.7,2.8l1.7,3l1.7,3.9l1.7,3l1.7,3.4l1.7,4.1l1.7,3.3l1.7,3.6l1.8,4.5l1.7,3.5l1.7,3.8l1.7,4.6l1.7,3.8l1.7,3.9l1.7,4.8l1.7,3.9l1.7,4.1l1.7,4.9l1.8,4l1.7,4.2l1.7,5.1l1.7,4l1.7,4.3l1.7,5l1.7,4.1l1.7,4.3l1.7,5.1l1.7,4l1.8,4.2l1.7,5.1l1.7,3.9l1.7,4.2l1.7,5l1.7,3.9l1.7,4.1l1.7,5.1l1.7,3.8l1.7,4.1l1.8,5.1l1.7,3.8l1.7,4.1l1.7,5l1.7,3.8l1.7,4l1.7,4.8l1.7,3.6l1.7,3.7l1.7,4.6l1.8,3.3l1.7,3.3l1.7,4.2l1.7,2.9l1.7,2.9l1.7,3.8l1.7,2.3l1.7,2.4l1.7,3.3l1.7,1.7l1.8,1.9l1.7,2.7l1.7,1.1l1.7,1.3l1.7,2.1l1.7,.6l1.7,.7l1.7,1.6l1.7,.1l1.7,.3l1.8,1.2l1.7-.3l1.7-.2l1.7,.9l1.7-.7l1.7-.5l1.7,.5l1.7-.9l1.7-.8l1.7,.3l1.8-1.2l1.7-.9l1.7,0l1.7-1.4l1.7-1.3l1.7-.2l1.7-1.8l1.7-1.5l1.7-.7l1.7-2.1l1.8-2l1.7-1l1.7-2.5l1.7-2.4l1.7-1.5l1.7-3l1.7-2.9l1.7-1.9l1.7-3.4l1.7-3.3l1.8-2.4l1.7-3.8l1.7-3.6l1.7-2.8l1.7-4.2l1.7-4l1.7-3.2l1.7-4.5l1.7-4.4l1.7-3.5l1.8-4.8l1.7-4.6l1.7-3.8l1.7-5l1.7-4.8l1.7-3.8l1.7-5.1l1.7-4.8l1.7-3.9l1.7-5.1l1.8-4.8l1.7-3.9l1.7-5.1l1.7-4.9l1.7-4.1l1.7-5.3l1.7-5.1l1.7-4.2l1.7-5.5l1.7-5.2l1.8-4.3l1.7-5.3l1.7-5.1l1.7-4.1l1.7-5l1.7-4.8l1.7-3.7l1.7-4.7l1.7-4.5l1.7-3.5l1.8-4.5l1.7-4.2l1.7-3.3l1.7-4.4l1.7-4l1.7-3.3l1.7-4.3l1.7-4l1.7-3.2l1.7-4.3l1.8-4l1.7-3.2l1.7-4.2l1.7-3.9l1.7-3.1l1.7-4l1.7-3.8l1.7-2.9l1.7-3.9l1.7-3.6l1.8-2.6l1.7-3.5l1.7-3.2l1.7-2.3l1.7-3.1l1.7-2.7l1.7-1.8l1.7-2.6l1.7-2.1l1.7-1.1l1.8-1.8l1.7-1.4l1.7-.2l1.7-1l1.7-.5l1.7,.7l1.7-.2l1.7,.3l1.7,1.4l1.7,.6l1.8,1l1.7,2l1.7,1.2l1.7,1.5l1.7,2.5l1.7,1.7l1.7,2l1.7,2.9l1.7,2.1l1.7,2.4l1.8,3.4l1.7,2.4l1.7,2.8l1.7,3.7l1.7,2.8l1.7,3.1l1.7,4l1.7,3l1.7,3.4l1.7,4.2l1.7,3.3l1.8,3.6l1.7,4.4l1.7,3.5l1.7,3.8l1.7,4.6l1.7,3.6l1.7,3.9l1.7,4.8l1.7,3.8l1.7,4.1l1.8,4.9l1.7,4l1.7,4.1l1.7,5.1l1.7,4l1.7,4.4l1.7,5.2l1.7,4.2l1.7,4.7l1.7,5.5l1.8,4.7l1.7,5l1.7,5.9l1.7,5l1.7,5.2l1.7,6l1.7,5l1.7,5.1l1.7,5.9l1.7,4.9l1.8,5l1.7,5.7l1.7,4.7l1.7,4.8l1.7,5.6l1.7,4.5l1.7,4.7l1.7,5.5l1.7,4.3l1.7,4.4l1.8,5.4l1.7,4l1.7,4.2l1.7,5.1l1.7,3.8l1.7,3.9l1.7,4.8l1.7,3.4l1.7,3.5l1.7,4.5l1.8,3l1.7,3.2l1.7,4.2l1.7,2.6l1.7,2.8l1.7,3.8l1.7,2.3l1.7,2.4l1.7,3.4l1.7,1.8l1.8,2l1.7,3.1l1.7,1.3l1.7,1.5l1.7,2.5l1.7,.8l1.7,.9l1.7,2l1.7,.1l1.7,.3l1.8,1.3l1.7-.5l1.7-.5l1.7,.7l1.7-1.3l1.7-1.2l1.7,0l1.7-1.9l1.7-1.9l1.7-.7l1.8-2.6l1.7-2.6l1.7-1.2l1.7-3.3l1.7-3.1l1.7-1.8l1.7-3.8l1.7-3.6l1.7-2.3l1.7-4.3l1.8-4.1l1.7-2.6l1.7-4.7l1.7-4.4l1.7-2.9l1.7-4.9l1.7-4.6l1.7-3l1.7-5.1l1.7-4.7l1.8-3.2l1.7-5.3l1.7-4.9l1.7-3.3l1.7-5.5l1.7-5.1l1.7-3.5l1.7-5.6l1.7-5.3l1.7-3.8l1.8-5.7l1.7-5.5l1.7-3.9l1.7-5.9l1.7-5.5l1.7-4l1.7-6l1.7-5.6l1.7-4.1l1.7-6l1.8-5.6l1.7-4.1l1.7-6l1.7-5.7l1.7-4.1l1.7-6l1.7-5.5l1.7-4.1l1.7-5.9l1.7-5.5l1.8-4l1.7-5.8l1.7-5.4l1.7-3.9l1.7-5.6l1.7-5.2l1.7-3.8l1.7-5.5l1.7-5l1.7-3.5l1.8-5.2l1.7-4.8l1.7-3.4l1.7-4.9l1.7-4.5l1.7-3l1.7-4.7l1.7-4.1l1.7-2.7l1.7-4.2l1.8-3.8l1.7-2.1l1.7-3.9l1.7-3.3l1.7-1.5l1.7-3.5l1.7-2.8l1.7-.9l1.7-3l1.7-2.4l1.8-.3l1.7-2.5l1.7-2l1.7,.3l1.7-2.2l1.7-1.5l1.7,.9l1.7-1.9l1.7-1.2l1.7,1.6l1.8-1.6l1.7-.8l1.7,2.2l1.7-1.3l1.7-.5l1.7,2.8"/>
<path d="M162.2,128.6l1.7-1.4l1.7-1l1.7,.1l1.7-.9l1.7-.5l1.8,.6l1.7-.5l1.7,0l1.7,1l1.7,0l1.7,.3l1.7,1.4l1.7,.5l1.7,.7l1.7,1.9l1.8,.8l1.7,1.2l1.7,2.3l1.7,1.2l1.7,1.6l1.7,2.7l1.7,1.7l1.7,2l1.7,3.1l1.7,2l1.8,2.4l1.7,3.6l1.7,2.4l1.7,2.7l1.7,3.9l1.7,2.8l1.7,3.1l1.7,4.2l1.7,3l1.7,3.3l1.8,4.5l1.7,3.2l1.7,3.5l1.7,4.7l1.7,3.4l1.7,3.7l1.7,4.8l1.7,3.5l1.7,3.8l1.7,4.9l1.8,3.6l1.7,3.9l1.7,5l1.7,3.7l1.7,4l1.7,5l1.7,3.8l1.7,4l1.7,5.1l1.7,3.8l1.8,4l1.7,5.1l1.7,3.8l1.7,4l1.7,5.2l1.7,3.8l1.7,4l1.7,5.4l1.7,3.8l1.7,4.1l1.8,5.5l1.7,3.9l1.7,4.3l1.7,5.5l1.7,3.9l1.7,4.3l1.7,5.4l1.7,3.7l1.7,4l1.7,5.2l1.8,3.4l1.7,3.6l1.7,4.8l1.7,3l1.7,3.1l1.7,4.3l1.7,2.4l1.7,2.6l1.7,3.7l1.7,1.8l1.8,1.9l1.7,3.1l1.7,1.1l1.7,1.3l1.7,2.5l1.7,.5l1.7,.7l1.7,2l1.7,0l1.7,.2l1.8,1.6l1.7-.4l1.7-.2l1.7,1.3l1.7-.8l1.7-.6l1.7,1l1.7-1.1l1.7-.8l1.7,.7l1.8-1.3l1.7-1l1.7,.4l1.7-1.5l1.7-1.3l1.7,.1l1.7-1.9l1.7-1.6l1.7-.3l1.7-2.2l1.8-2l1.7-.7l1.7-2.7l1.7-2.4l1.7-1.2l1.7-3.1l1.7-2.8l1.7-1.7l1.7-3.5l1.7-3.3l1.8-2.1l1.7-4l1.7-3.7l1.7-2.5l1.7-4.4l1.7-4.1l1.7-3l1.7-4.7l1.7-4.5l1.7-3.4l1.8-5.1l1.7-4.8l1.7-3.6l1.7-5.3l1.7-5l1.7-3.7l1.7-5.4l1.7-5l1.7-3.7l1.7-5.2l1.8-4.9l1.7-3.7l1.7-5.3l1.7-4.9l1.7-3.7l1.7-5.3l1.7-5.1l1.7-3.8l1.7-5.4l1.7-5.1l1.8-3.9l1.7-5.3l1.7-4.9l1.7-3.7l1.7-5l1.7-4.6l1.7-3.4l1.7-4.8l1.7-4.4l1.7-3.1l1.8-4.6l1.7-4.2l1.7-3l1.7-4.4l1.7-4.1l1.7-3l1.7-4.4l1.7-4l1.7-3l1.7-4.3l1.8-4l1.7-3l1.7-4.2l1.7-4l1.7-2.8l1.7-4.2l1.7-3.9l1.7-2.6l1.7-4l1.7-3.6l1.8-2.4l1.7-3.6l1.7-3.2l1.7-1.9l1.7-3.2l1.7-2.7l1.7-1.4l1.7-2.6l1.7-2.1l1.7-.7l1.8-1.8l1.7-1.3l1.7,0l1.7-1l1.7-.4l1.7,.9l1.7-.2l1.7,.3l1.7,1.6l1.7,.4l1.8,1l1.7,2.2l1.7,1l1.7,1.5l1.7,2.8l1.7,1.5l1.7,1.9l1.7,3.2l1.7,1.9l1.7,2.3l1.8,3.6l1.7,2.3l1.7,2.7l1.7,3.9l1.7,2.6l1.7,3l1.7,4.1l1.7,2.9l1.7,3.3l1.7,4.4l1.7,3.1l1.8,3.4l1.7,4.6l1.7,3.3l1.7,3.6l1.7,4.8l1.7,3.4l1.7,3.8l1.7,4.9l1.7,3.6l1.7,3.9l1.8,5.1l1.7,3.7l1.7,4l1.7,5.2l1.7,3.8l1.7,4.2l1.7,5.3l1.7,4.1l1.7,4.4l1.7,5.7l1.8,4.4l1.7,4.8l1.7,6l1.7,4.7l1.7,4.9l1.7,6.2l1.7,4.7l1.7,5l1.7,6.1l1.7,4.6l1.8,4.9l1.7,6l1.7,4.6l1.7,4.7l1.7,6l1.7,4.3l1.7,4.7l1.7,5.8l1.7,4.2l1.7,4.4l1.8,5.7l1.7,3.9l1.7,4.2l1.7,5.4l1.7,3.6l1.7,3.8l1.7,5.1l1.7,3.2l1.7,3.4l1.7,4.7l1.8,2.8l1.7,3l1.7,4.4l1.7,2.3l1.7,2.6l1.7,4l1.7,1.9l1.7,2.1l1.7,3.7l1.7,1.4l1.8,1.7l1.7,3.2l1.7,.9l1.7,1.2l1.7,2.8l1.7,.3l1.7,.7l1.7,2.2l1.7-.2l1.7,0l1.8,1.7l1.7-.9l1.7-.6l1.7,1.1l1.7-1.5l1.7-1.3l1.7,.4l1.7-2.2l1.7-1.9l1.7-.1l1.8-2.9l1.7-2.5l1.7-.8l1.7-3.4l1.7-3.1l1.7-1.3l1.7-4l1.7-3.6l1.7-1.8l1.7-4.5l1.8-4.2l1.7-2.2l1.7-4.9l1.7-4.5l1.7-2.4l1.7-5.2l1.7-4.7l1.7-2.5l1.7-5.4l1.7-4.8l1.8-2.7l1.7-5.5l1.7-5.1l1.7-2.9l1.7-5.6l1.7-5.2l1.7-3.1l1.7-5.9l1.7-5.3l1.7-3.3l1.8-6l1.7-5.5l1.7-3.5l1.7-6.1l1.7-5.6l1.7-3.5l1.7-6.2l1.7-5.7l1.7-3.6l1.7-6.2l1.8-5.7l1.7-3.7l1.7-6.2l1.7-5.7l1.7-3.7l1.7-6.2l1.7-5.6l1.7-3.7l1.7-6.1l1.7-5.5l1.8-3.6l1.7-6l1.7-5.5l1.7-3.5l1.7-5.9l1.7-5.3l1.7-3.3l1.7-5.7l1.7-5.1l1.7-3.2l1.8-5.4l1.7-4.9l1.7-2.9l1.7-5.2l1.7-4.5l1.7-2.7l1.7-4.8l1.7-4.2l1.7-2.3l1.7-4.4l1.8-3.9l1.7-1.6l1.7-4.1l1.7-3.4l1.7-1l1.7-3.7l1.7-2.9l1.7-.4l1.7-3.3l1.7-2.5l1.8,.2l1.7-2.9l1.7-2.1l1.7,.9l1.7-2.6l1.7-1.7l1.7,1.5l1.7-2.2l1.7-1.4l1.7,2.2l1.8-2l1.7-1l1.7,2.9l1.7-1.8l1.7-.7l1.7,3.6"/>
<path d="M162.2,128.1l1.7-1.6l1.7-1l1.7,.4l1.7-1.1l1.7-.6l1.8,.9l1.7-.7l1.7-.1l1.7,1.3l1.7-.2l1.7,.2l1.7,1.8l1.7,.2l1.7,.7l1.7,2.2l1.8,.6l1.7,1.1l1.7,2.7l1.7,1l1.7,1.5l1.7,3.1l1.7,1.4l1.7,1.9l1.7,3.6l1.7,1.8l1.8,2.3l1.7,3.9l1.7,2.2l1.7,2.7l1.7,4.3l1.7,2.5l1.7,3l1.7,4.6l1.7,2.8l1.7,3.2l1.8,4.9l1.7,2.9l1.7,3.5l1.7,5l1.7,3.1l1.7,3.6l1.7,5.2l1.7,3.2l1.7,3.7l1.7,5.3l1.8,3.3l1.7,3.8l1.7,5.4l1.7,3.4l1.7,3.9l1.7,5.5l1.7,3.4l1.7,3.9l1.7,5.6l1.7,3.4l1.8,3.9l1.7,5.6l1.7,3.4l1.7,3.8l1.7,5.7l1.7,3.4l1.7,3.9l1.7,5.8l1.7,3.4l1.7,4l1.8,5.8l1.7,3.6l1.7,4l1.7,6l1.7,3.5l1.7,4l1.7,5.8l1.7,3.3l1.7,3.7l1.7,5.6l1.8,3l1.7,3.3l1.7,5.2l1.7,2.5l1.7,2.8l1.7,4.7l1.7,1.9l1.7,2.2l1.7,4.2l1.7,1.2l1.8,1.6l1.7,3.6l1.7,.6l1.7,1l1.7,3l1.7,0l1.7,.5l1.7,2.5l1.7-.4l1.7-.1l1.8,2.2l1.7-.8l1.7-.4l1.7,1.9l1.7-1.1l1.7-.7l1.7,1.6l1.7-1.4l1.7-.8l1.7,1.3l1.8-1.6l1.7-1.1l1.7,1.1l1.7-1.8l1.7-1.3l1.7,.7l1.7-2.1l1.7-1.7l1.7,.4l1.7-2.4l1.8-2.1l1.7,0l1.7-2.9l1.7-2.5l1.7-.5l1.7-3.3l1.7-3l1.7-1l1.7-3.7l1.7-3.4l1.8-1.5l1.7-4.2l1.7-3.8l1.7-1.9l1.7-4.7l1.7-4.2l1.7-2.4l1.7-5l1.7-4.7l1.7-2.7l1.8-5.4l1.7-5l1.7-3.1l1.7-5.6l1.7-5.1l1.7-3.2l1.7-5.7l1.7-5.2l1.7-3.2l1.7-5.6l1.8-5.1l1.7-3.2l1.7-5.6l1.7-5.2l1.7-3.3l1.7-5.6l1.7-5.3l1.7-3.4l1.7-5.8l1.7-5.3l1.8-3.4l1.7-5.7l1.7-5.1l1.7-3.3l1.7-5.3l1.7-4.9l1.7-2.9l1.7-5.1l1.7-4.6l1.7-2.8l1.8-4.8l1.7-4.4l1.7-2.7l1.7-4.7l1.7-4.2l1.7-2.6l1.7-4.7l1.7-4.2l1.7-2.6l1.7-4.6l1.8-4.2l1.7-2.5l1.7-4.6l1.7-4.1l1.7-2.4l1.7-4.5l1.7-4l1.7-2.2l1.7-4.3l1.7-3.7l1.8-2l1.7-3.9l1.7-3.3l1.7-1.6l1.7-3.4l1.7-2.8l1.7-1l1.7-2.8l1.7-2.2l1.7-.2l1.8-2.1l1.7-1.4l1.7,.5l1.7-1.2l1.7-.6l1.7,1.4l1.7-.5l1.7,.1l1.7,2.1l1.7,.2l1.8,.8l1.7,2.6l1.7,.8l1.7,1.3l1.7,3.2l1.7,1.2l1.7,1.8l1.7,3.6l1.7,1.6l1.7,2.2l1.8,4l1.7,2l1.7,2.6l1.7,4.3l1.7,2.3l1.7,2.9l1.7,4.6l1.7,2.6l1.7,3.1l1.7,4.9l1.7,2.8l1.8,3.3l1.7,5.1l1.7,3l1.7,3.5l1.7,5.2l1.7,3.2l1.7,3.6l1.7,5.4l1.7,3.3l1.7,3.8l1.8,5.5l1.7,3.5l1.7,3.9l1.7,5.6l1.7,3.6l1.7,4.1l1.7,5.8l1.7,3.7l1.7,4.4l1.7,6.1l1.8,4.1l1.7,4.7l1.7,6.4l1.7,4.4l1.7,4.9l1.7,6.5l1.7,4.4l1.7,4.9l1.7,6.4l1.7,4.4l1.8,4.7l1.7,6.4l1.7,4.2l1.7,4.5l1.7,6.3l1.7,4l1.7,4.4l1.7,6.3l1.7,3.8l1.7,4.2l1.8,6.1l1.7,3.5l1.7,4l1.7,5.8l1.7,3.2l1.7,3.6l1.7,5.6l1.7,2.7l1.7,3.2l1.7,5.3l1.8,2.3l1.7,2.7l1.7,4.9l1.7,1.9l1.7,2.4l1.7,4.5l1.7,1.5l1.7,1.9l1.7,4.2l1.7,1l1.8,1.4l1.7,3.8l1.7,.5l1.7,.9l1.7,3.4l1.7-.1l1.7,.4l1.7,2.9l1.7-.7l1.7-.2l1.8,2.4l1.7-1.4l1.7-.8l1.7,1.8l1.7-2l1.7-1.6l1.7,1.2l1.7-2.6l1.7-2.2l1.7,.6l1.8-3.3l1.7-2.8l1.7,0l1.7-3.9l1.7-3.4l1.7-.4l1.7-4.5l1.7-3.9l1.7-1l1.7-5l1.8-4.4l1.7-1.3l1.7-5.4l1.7-4.8l1.7-1.5l1.7-5.7l1.7-4.9l1.7-1.7l1.7-5.8l1.7-5.1l1.8-1.7l1.7-6.1l1.7-5.2l1.7-2l1.7-6.1l1.7-5.4l1.7-2.2l1.7-6.3l1.7-5.6l1.7-2.4l1.8-6.5l1.7-5.8l1.7-2.6l1.7-6.5l1.7-5.9l1.7-2.7l1.7-6.7l1.7-5.9l1.7-2.8l1.7-6.7l1.8-6l1.7-2.9l1.7-6.7l1.7-5.9l1.7-2.9l1.7-6.7l1.7-5.9l1.7-2.9l1.7-6.6l1.7-5.8l1.8-2.9l1.7-6.5l1.7-5.7l1.7-2.8l1.7-6.4l1.7-5.6l1.7-2.7l1.7-6.1l1.7-5.4l1.7-2.5l1.8-5.9l1.7-5.2l1.7-2.3l1.7-5.6l1.7-4.8l1.7-2l1.7-5.3l1.7-4.5l1.7-1.5l1.7-5l1.8-4.1l1.7-.9l1.7-4.6l1.7-3.7l1.7-.2l1.7-4.2l1.7-3.3l1.7,.6l1.7-3.9l1.7-2.9l1.8,1.3l1.7-3.6l1.7-2.5l1.7,1.9l1.7-3.2l1.7-2.2l1.7,2.8l1.7-3.1l1.7-1.8l1.7,3.6l1.8-3l1.7-1.5l1.7,4.4l1.7-2.8l1.7-1.2l1.7,5.2"/>
<path d="M162.2,127.2l1.7-1.1l1.7,0l1.7-1l1.7-.7l1.7,.5l1.8-.6l1.7-.2l1.7,.9l1.7-.2l1.7,.2l1.7,1.4l1.7,.2l1.7,.7l1.7,1.8l1.7,.6l1.8,1.1l1.7,2.2l1.7,1.1l1.7,1.5l1.7,2.7l1.7,1.4l1.7,1.9l1.7,3.1l1.7,1.9l1.7,2.3l1.8,3.5l1.7,2.2l1.7,2.6l1.7,3.9l1.7,2.5l1.7,3l1.7,4.1l1.7,2.8l1.7,3.2l1.7,4.4l1.8,3l1.7,3.4l1.7,4.5l1.7,3.2l1.7,3.5l1.7,4.7l1.7,3.3l1.7,3.6l1.7,4.8l1.7,3.4l1.8,3.7l1.7,4.9l1.7,3.5l1.7,3.8l1.7,5l1.7,3.5l1.7,3.9l1.7,5.1l1.7,3.5l1.7,3.9l1.8,5.2l1.7,3.6l1.7,3.9l1.7,5.2l1.7,3.6l1.7,4l1.7,5.3l1.7,3.7l1.7,4.1l1.7,5.4l1.8,3.9l1.7,4.1l1.7,5.7l1.7,3.9l1.7,4.2l1.7,5.7l1.7,3.8l1.7,4l1.7,5.5l1.7,3.5l1.8,3.7l1.7,5.1l1.7,3.1l1.7,3.3l1.7,4.6l1.7,2.5l1.7,2.8l1.7,4l1.7,1.9l1.7,2.1l1.8,3.5l1.7,1.3l1.7,1.4l1.7,2.9l1.7,.6l1.7,.9l1.7,2.4l1.7,.1l1.7,.3l1.7,1.9l1.8-.3l1.7,0l1.7,1.5l1.7-.7l1.7-.3l1.7,1.2l1.7-1l1.7-.7l1.7,1l1.7-1.2l1.8-.9l1.7,.7l1.7-1.5l1.7-1.1l1.7,.4l1.7-1.8l1.7-1.5l1.7,.1l1.7-2.2l1.7-1.8l1.8-.4l1.7-2.5l1.7-2.2l1.7-.9l1.7-2.9l1.7-2.8l1.7-1.3l1.7-3.4l1.7-3.2l1.7-1.8l1.8-3.8l1.7-3.6l1.7-2.3l1.7-4.2l1.7-4.1l1.7-2.6l1.7-4.7l1.7-4.5l1.7-3.1l1.7-5.1l1.8-4.8l1.7-3.4l1.7-5.4l1.7-5l1.7-3.6l1.7-5.4l1.7-5.1l1.7-3.7l1.7-5.3l1.7-5l1.8-3.6l1.7-5.4l1.7-5l1.7-3.6l1.7-5.3l1.7-5.1l1.7-3.7l1.7-5.4l1.7-5.1l1.7-3.8l1.8-5.4l1.7-5l1.7-3.6l1.7-5.2l1.7-4.8l1.7-3.3l1.7-4.9l1.7-4.5l1.7-3.1l1.7-4.7l1.8-4.3l1.7-3l1.7-4.5l1.7-4.1l1.7-2.9l1.7-4.4l1.7-4.1l1.7-2.9l1.7-4.4l1.7-4l1.8-2.9l1.7-4.3l1.7-4.1l1.7-2.7l1.7-4.3l1.7-3.9l1.7-2.7l1.7-4.1l1.7-3.7l1.7-2.4l1.8-3.8l1.7-3.4l1.7-2l1.7-3.4l1.7-2.9l1.7-1.5l1.7-2.8l1.7-2.3l1.7-.8l1.7-2.1l1.8-1.6l1.7,0l1.7-1.3l1.7-.8l1.7,.8l1.7-.5l1.7,0l1.7,1.6l1.7,.1l1.7,.8l1.8,2.1l1.7,.8l1.7,1.3l1.7,2.6l1.7,1.3l1.7,1.8l1.7,3.1l1.7,1.7l1.7,2.2l1.7,3.5l1.8,2.1l1.7,2.6l1.7,3.8l1.7,2.5l1.7,2.9l1.7,4.1l1.7,2.8l1.7,3.1l1.7,4.5l1.7,3l1.7,3.3l1.8,4.7l1.7,3.2l1.7,3.5l1.7,4.8l1.7,3.4l1.7,3.7l1.7,5l1.7,3.5l1.7,3.8l1.7,5.2l1.8,3.6l1.7,4l1.7,5.2l1.7,3.8l1.7,4.1l1.7,5.4l1.7,3.9l1.7,4.3l1.7,5.6l1.7,4.3l1.8,4.6l1.7,6l1.7,4.5l1.7,4.9l1.7,6.2l1.7,4.6l1.7,4.9l1.7,6.2l1.7,4.5l1.7,4.9l1.8,6l1.7,4.4l1.7,4.7l1.7,6l1.7,4.2l1.7,4.6l1.7,5.8l1.7,4.1l1.7,4.4l1.7,5.7l1.8,3.9l1.7,4.1l1.7,5.6l1.7,3.5l1.7,3.9l1.7,5.2l1.7,3.2l1.7,3.4l1.7,4.9l1.7,2.8l1.8,3l1.7,4.6l1.7,2.3l1.7,2.6l1.7,4.2l1.7,1.9l1.7,2.2l1.7,3.9l1.7,1.4l1.7,1.8l1.8,3.5l1.7,1l1.7,1.3l1.7,3.1l1.7,.4l1.7,.8l1.7,2.6l1.7-.1l1.7,.2l1.7,2.1l1.8-.7l1.7-.3l1.7,1.4l1.7-1.3l1.7-1l1.7,.9l1.7-2l1.7-1.7l1.7,.3l1.7-2.6l1.8-2.3l1.7-.3l1.7-3.3l1.7-2.9l1.7-.9l1.7-3.8l1.7-3.5l1.7-1.4l1.7-4.4l1.7-4l1.8-1.8l1.7-4.9l1.7-4.4l1.7-2.2l1.7-5.2l1.7-4.7l1.7-2.3l1.7-5.4l1.7-4.8l1.7-2.4l1.8-5.6l1.7-5l1.7-2.6l1.7-5.8l1.7-5.1l1.7-2.9l1.7-5.9l1.7-5.3l1.7-3.1l1.7-6.1l1.8-5.5l1.7-3.2l1.7-6.2l1.7-5.6l1.7-3.4l1.7-6.2l1.7-5.7l1.7-3.5l1.7-6.3l1.7-5.8l1.8-3.5l1.7-6.3l1.7-5.8l1.7-3.5l1.7-6.3l1.7-5.8l1.7-3.5l1.7-6.2l1.7-5.7l1.7-3.5l1.8-6.2l1.7-5.5l1.7-3.4l1.7-6.1l1.7-5.4l1.7-3.3l1.7-5.9l1.7-5.2l1.7-3.1l1.7-5.6l1.8-5.1l1.7-2.9l1.7-5.3l1.7-4.7l1.7-2.6l1.7-5l1.7-4.4l1.7-2.3l1.7-4.6l1.7-4l1.8-1.7l1.7-4.2l1.7-3.6l1.7-1l1.7-3.9l1.7-3.2l1.7-.3l1.7-3.6l1.7-2.7l1.7,.3l1.8-3.1l1.7-2.4l1.7,.9l1.7-2.8l1.7-1.9l1.7,1.6l1.7-2.5l1.7-1.6l1.7,2.3l1.7-2.3l1.8-1.2l1.7,3l1.7-2.1l1.7-.9l1.7,3.7l1.7-1.8"/>
<path d="M162.2,128.0l1.7-1.4l1.7-1l1.7,.3l1.7-1l1.7-.5l1.8,.8l1.7-.6l1.7-.2l1.7,1.3l1.7-.2l1.7,.3l1.7,1.7l1.7,.2l1.7,.6l1.7,2.1l1.8,.6l1.7,1.1l1.7,2.5l1.7,.9l1.7,1.5l1.7,2.8l1.7,1.4l1.7,1.8l1.7,3.2l1.7,1.7l1.8,2.2l1.7,3.6l1.7,2l1.7,2.5l1.7,4l1.7,2.3l1.7,2.8l1.7,4.2l1.7,2.6l1.7,3.1l1.8,4.5l1.7,2.9l1.7,3.2l1.7,4.8l1.7,3l1.7,3.5l1.7,5l1.7,3.2l1.7,3.6l1.7,5.1l1.8,3.4l1.7,3.8l1.7,5.4l1.7,3.5l1.7,3.9l1.7,5.5l1.7,3.6l1.7,4l1.7,5.6l1.7,3.6l1.8,4.1l1.7,5.6l1.7,3.7l1.7,4.1l1.7,5.7l1.7,3.6l1.7,4.1l1.7,5.8l1.7,3.8l1.7,4.1l1.8,5.9l1.7,3.8l1.7,4.2l1.7,5.9l1.7,3.8l1.7,4.1l1.7,5.8l1.7,3.5l1.7,3.8l1.7,5.5l1.8,3l1.7,3.4l1.7,5.1l1.7,2.6l1.7,2.8l1.7,4.6l1.7,2l1.7,2.2l1.7,3.9l1.7,1.3l1.8,1.6l1.7,3.4l1.7,.7l1.7,1l1.7,2.8l1.7,.1l1.7,.5l1.7,2.3l1.7-.3l1.7,0l1.8,2.1l1.7-.7l1.7-.3l1.7,1.7l1.7-.9l1.7-.6l1.7,1.5l1.7-1.2l1.7-.8l1.7,1.3l1.8-1.4l1.7-1l1.7,1l1.7-1.6l1.7-1.2l1.7,.7l1.7-2l1.7-1.5l1.7,.3l1.7-2.3l1.8-1.9l1.7-.2l1.7-2.7l1.7-2.4l1.7-.6l1.7-3.1l1.7-2.9l1.7-1.1l1.7-3.7l1.7-3.3l1.8-1.6l1.7-4.1l1.7-3.8l1.7-2.1l1.7-4.5l1.7-4.2l1.7-2.6l1.7-5l1.7-4.6l1.7-3l1.8-5.4l1.7-5l1.7-3.3l1.7-5.6l1.7-5.2l1.7-3.5l1.7-5.7l1.7-5.2l1.7-3.5l1.7-5.6l1.8-5.2l1.7-3.5l1.7-5.6l1.7-5.1l1.7-3.6l1.7-5.6l1.7-5.2l1.7-3.6l1.7-5.7l1.7-5.2l1.8-3.6l1.7-5.6l1.7-5l1.7-3.4l1.7-5.2l1.7-4.8l1.7-3l1.7-5l1.7-4.5l1.7-2.8l1.8-4.8l1.7-4.3l1.7-2.7l1.7-4.6l1.7-4.1l1.7-2.6l1.7-4.5l1.7-4.1l1.7-2.6l1.7-4.5l1.8-4l1.7-2.6l1.7-4.3l1.7-4l1.7-2.5l1.7-4.3l1.7-3.8l1.7-2.3l1.7-4.1l1.7-3.6l1.8-2l1.7-3.8l1.7-3.2l1.7-1.6l1.7-3.3l1.7-2.8l1.7-1l1.7-2.7l1.7-2.1l1.7-.4l1.8-2l1.7-1.4l1.7,.4l1.7-1.2l1.7-.5l1.7,1.2l1.7-.4l1.7,.2l1.7,1.9l1.7,.3l1.8,.8l1.7,2.6l1.7,.8l1.7,1.3l1.7,3.1l1.7,1.3l1.7,1.8l1.7,3.4l1.7,1.7l1.7,2.2l1.8,3.9l1.7,2l1.7,2.6l1.7,4.2l1.7,2.4l1.7,2.8l1.7,4.5l1.7,2.7l1.7,3.1l1.7,4.7l1.7,2.9l1.8,3.3l1.7,4.9l1.7,3.1l1.7,3.5l1.7,5l1.7,3.3l1.7,3.7l1.7,5.2l1.7,3.4l1.7,3.8l1.8,5.4l1.7,3.5l1.7,4l1.7,5.5l1.7,3.6l1.7,4.1l1.7,5.7l1.7,3.8l1.7,4.4l1.7,6l1.8,4.2l1.7,4.7l1.7,6.3l1.7,4.5l1.7,4.8l1.7,6.5l1.7,4.5l1.7,4.8l1.7,6.4l1.7,4.4l1.8,4.8l1.7,6.2l1.7,4.3l1.7,4.6l1.7,6.2l1.7,4.1l1.7,4.4l1.7,6.1l1.7,3.9l1.7,4.2l1.8,5.9l1.7,3.6l1.7,4l1.7,5.7l1.7,3.3l1.7,3.5l1.7,5.4l1.7,2.9l1.7,3.1l1.7,5.1l1.8,2.4l1.7,2.7l1.7,4.7l1.7,2l1.7,2.3l1.7,4.3l1.7,1.5l1.7,1.9l1.7,4l1.7,1.1l1.8,1.4l1.7,3.7l1.7,.5l1.7,1l1.7,3.2l1.7,0l1.7,.5l1.7,2.7l1.7-.5l1.7-.2l1.8,2.2l1.7-1.1l1.7-.7l1.7,1.6l1.7-1.7l1.7-1.4l1.7,1l1.7-2.4l1.7-2l1.7,.5l1.8-3.1l1.7-2.6l1.7-.1l1.7-3.7l1.7-3.2l1.7-.6l1.7-4.3l1.7-3.8l1.7-1.1l1.7-4.8l1.8-4.3l1.7-1.6l1.7-5.2l1.7-4.7l1.7-1.8l1.7-5.5l1.7-4.9l1.7-1.9l1.7-5.8l1.7-5l1.8-2.1l1.7-5.9l1.7-5.2l1.7-2.3l1.7-6l1.7-5.4l1.7-2.5l1.7-6.2l1.7-5.6l1.7-2.7l1.8-6.4l1.7-5.6l1.7-2.9l1.7-6.5l1.7-5.8l1.7-3l1.7-6.5l1.7-5.8l1.7-3.1l1.7-6.6l1.8-5.8l1.7-3.2l1.7-6.5l1.7-5.9l1.7-3.1l1.7-6.6l1.7-5.8l1.7-3.1l1.7-6.4l1.7-5.8l1.8-3l1.7-6.4l1.7-5.6l1.7-3l1.7-6.2l1.7-5.4l1.7-2.9l1.7-6l1.7-5.2l1.7-2.7l1.8-5.7l1.7-5l1.7-2.5l1.7-5.4l1.7-4.7l1.7-2.2l1.7-5.1l1.7-4.3l1.7-1.7l1.7-4.8l1.8-4l1.7-1.1l1.7-4.4l1.7-3.6l1.7-.4l1.7-4l1.7-3.2l1.7,.3l1.7-3.7l1.7-2.8l1.8,1l1.7-3.4l1.7-2.4l1.7,1.6l1.7-3l1.7-2l1.7,2.3l1.7-2.8l1.7-1.7l1.7,3.1l1.8-2.6l1.7-1.4l1.7,3.9l1.7-2.4l1.7-1.2l1.7,4.8"/>
<path d="M162.2,127.3l1.7-1.4l1.7-.9l1.7,.1l1.7-.9l1.7-.6l1.8,.6l1.7-.5l1.7-.1l1.7,1l1.7-.1l1.7,.2l1.7,1.5l1.7,.3l1.7,.6l1.7,1.9l1.8,.7l1.7,1.1l1.7,2.4l1.7,1.1l1.7,1.5l1.7,2.7l1.7,1.6l1.7,1.9l1.7,3.2l1.7,1.9l1.8,2.4l1.7,3.6l1.7,2.3l1.7,2.7l1.7,3.9l1.7,2.6l1.7,3l1.7,4.3l1.7,2.8l1.7,3.3l1.8,4.4l1.7,3.1l1.7,3.4l1.7,4.6l1.7,3.2l1.7,3.6l1.7,4.7l1.7,3.3l1.7,3.6l1.7,4.9l1.8,3.4l1.7,3.7l1.7,5l1.7,3.5l1.7,3.8l1.7,5.1l1.7,3.5l1.7,3.9l1.7,5.1l1.7,3.6l1.8,3.9l1.7,5.2l1.7,3.6l1.7,4l1.7,5.2l1.7,3.7l1.7,4l1.7,5.4l1.7,3.7l1.7,4.2l1.8,5.5l1.7,3.9l1.7,4.2l1.7,5.7l1.7,3.9l1.7,4.2l1.7,5.6l1.7,3.7l1.7,4l1.7,5.3l1.8,3.3l1.7,3.6l1.7,4.9l1.7,2.8l1.7,3.1l1.7,4.4l1.7,2.3l1.7,2.4l1.7,3.8l1.7,1.6l1.8,1.8l1.7,3.2l1.7,.9l1.7,1.2l1.7,2.7l1.7,.3l1.7,.7l1.7,2.1l1.7,0l1.7,.2l1.8,1.8l1.7-.5l1.7-.1l1.7,1.5l1.7-.7l1.7-.5l1.7,1.3l1.7-1l1.7-.7l1.7,1l1.8-1.2l1.7-.8l1.7,.7l1.7-1.4l1.7-1.2l1.7,.5l1.7-1.8l1.7-1.5l1.7,.1l1.7-2.2l1.8-1.8l1.7-.4l1.7-2.5l1.7-2.3l1.7-.9l1.7-3l1.7-2.8l1.7-1.4l1.7-3.5l1.7-3.3l1.8-1.8l1.7-4l1.7-3.7l1.7-2.4l1.7-4.4l1.7-4.1l1.7-2.8l1.7-4.9l1.7-4.6l1.7-3.3l1.8-5.2l1.7-5l1.7-3.6l1.7-5.4l1.7-5.2l1.7-3.7l1.7-5.6l1.7-5.2l1.7-3.7l1.7-5.5l1.8-5.1l1.7-3.7l1.7-5.4l1.7-5.1l1.7-3.8l1.7-5.4l1.7-5.1l1.7-3.8l1.7-5.5l1.7-5.1l1.8-3.8l1.7-5.3l1.7-4.9l1.7-3.6l1.7-5l1.7-4.7l1.7-3.2l1.7-4.8l1.7-4.4l1.7-3l1.8-4.6l1.7-4.2l1.7-2.9l1.7-4.4l1.7-4.1l1.7-2.8l1.7-4.3l1.7-4.1l1.7-2.7l1.7-4.4l1.8-4l1.7-2.7l1.7-4.3l1.7-3.9l1.7-2.6l1.7-4.2l1.7-3.8l1.7-2.5l1.7-4l1.7-3.6l1.8-2.2l1.7-3.6l1.7-3.2l1.7-1.8l1.7-3.2l1.7-2.6l1.7-1.3l1.7-2.5l1.7-2.1l1.7-.5l1.8-1.9l1.7-1.2l1.7,.2l1.7-1l1.7-.5l1.7,1.1l1.7-.3l1.7,.3l1.7,1.7l1.7,.4l1.8,.9l1.7,2.3l1.7,1l1.7,1.4l1.7,2.9l1.7,1.4l1.7,1.9l1.7,3.3l1.7,1.8l1.7,2.3l1.8,3.6l1.7,2.2l1.7,2.7l1.7,4l1.7,2.5l1.7,2.9l1.7,4.3l1.7,2.8l1.7,3.2l1.7,4.5l1.7,3l1.8,3.4l1.7,4.7l1.7,3.2l1.7,3.6l1.7,4.8l1.7,3.4l1.7,3.7l1.7,5l1.7,3.5l1.7,3.9l1.8,5.1l1.7,3.6l1.7,4l1.7,5.3l1.7,3.7l1.7,4.1l1.7,5.5l1.7,3.9l1.7,4.4l1.7,5.7l1.8,4.3l1.7,4.7l1.7,6l1.7,4.5l1.7,4.9l1.7,6.1l1.7,4.6l1.7,4.9l1.7,6.1l1.7,4.5l1.8,4.8l1.7,6.1l1.7,4.4l1.7,4.7l1.7,6l1.7,4.3l1.7,4.6l1.7,5.9l1.7,4.1l1.7,4.4l1.8,5.8l1.7,3.9l1.7,4.1l1.7,5.6l1.7,3.5l1.7,3.8l1.7,5.2l1.7,3.1l1.7,3.3l1.7,4.9l1.8,2.7l1.7,2.9l1.7,4.5l1.7,2.2l1.7,2.5l1.7,4.1l1.7,1.7l1.7,2l1.7,3.7l1.7,1.3l1.8,1.5l1.7,3.3l1.7,.7l1.7,1l1.7,2.9l1.7,.1l1.7,.4l1.7,2.3l1.7-.4l1.7-.2l1.8,1.7l1.7-1l1.7-.8l1.7,1.1l1.7-1.7l1.7-1.4l1.7,.5l1.7-2.4l1.7-2l1.7,0l1.8-3l1.7-2.6l1.7-.6l1.7-3.5l1.7-3.2l1.7-1l1.7-4.1l1.7-3.7l1.7-1.5l1.7-4.5l1.8-4.2l1.7-1.8l1.7-5l1.7-4.4l1.7-2.1l1.7-5.2l1.7-4.6l1.7-2.2l1.7-5.3l1.7-4.7l1.8-2.4l1.7-5.5l1.7-4.9l1.7-2.5l1.7-5.7l1.7-5.1l1.7-2.8l1.7-5.8l1.7-5.3l1.7-3l1.8-6.1l1.7-5.5l1.7-3.2l1.7-6.1l1.7-5.7l1.7-3.3l1.7-6.2l1.7-5.7l1.7-3.5l1.7-6.3l1.8-5.7l1.7-3.5l1.7-6.3l1.7-5.8l1.7-3.5l1.7-6.3l1.7-5.7l1.7-3.5l1.7-6.2l1.7-5.7l1.8-3.4l1.7-6.2l1.7-5.5l1.7-3.4l1.7-6l1.7-5.4l1.7-3.2l1.7-5.8l1.7-5.2l1.7-3l1.8-5.6l1.7-4.9l1.7-2.8l1.7-5.3l1.7-4.6l1.7-2.5l1.7-4.9l1.7-4.3l1.7-2l1.7-4.6l1.8-3.9l1.7-1.4l1.7-4.2l1.7-3.4l1.7-.8l1.7-3.8l1.7-3l1.7-.1l1.7-3.4l1.7-2.6l1.8,.5l1.7-3.1l1.7-2.2l1.7,1.2l1.7-2.7l1.7-1.9l1.7,1.9l1.7-2.5l1.7-1.5l1.7,2.6l1.8-2.2l1.7-1.2l1.7,3.3l1.7-2l1.7-.8l1.7,4"/>
<path d="M162.2,125.1l1.7-1l1.7-.8l1.7-.1l1.7-.7l1.7-.4l1.8,.2l1.7-.3l1.7-.1l1.7,.6l1.7,0l1.7,.3l1.7,1l1.7,.4l1.7,.6l1.7,1.3l1.8,.7l1.7,1l1.7,1.7l1.7,1.1l1.7,1.3l1.7,2.1l1.7,1.4l1.7,1.7l1.7,2.4l1.7,1.8l1.8,2.1l1.7,2.7l1.7,2.2l1.7,2.4l1.7,3l1.7,2.5l1.7,2.7l1.7,3.4l1.7,2.8l1.7,2.9l1.8,3.7l1.7,3l1.7,3.3l1.7,3.9l1.7,3.2l1.7,3.4l1.7,4.2l1.7,3.4l1.7,3.6l1.7,4.3l1.8,3.7l1.7,3.8l1.7,4.5l1.7,3.7l1.7,4l1.7,4.6l1.7,3.9l1.7,4l1.7,4.7l1.7,3.9l1.8,4.1l1.7,4.7l1.7,3.9l1.7,4.1l1.7,4.7l1.7,4l1.7,4.1l1.7,4.9l1.7,4l1.7,4.3l1.8,5l1.7,4.2l1.7,4.5l1.7,5.2l1.7,4.3l1.7,4.4l1.7,5.2l1.7,4.1l1.7,4.3l1.7,4.9l1.8,3.9l1.7,3.9l1.7,4.5l1.7,3.4l1.7,3.5l1.7,4l1.7,2.9l1.7,2.9l1.7,3.4l1.7,2.3l1.8,2.3l1.7,2.8l1.7,1.7l1.7,1.6l1.7,2.4l1.7,1.1l1.7,1.1l1.7,1.8l1.7,.6l1.7,.7l1.8,1.4l1.7,.3l1.7,.3l1.7,1l1.7-.1l1.7,0l1.7,.7l1.7-.5l1.7-.3l1.7,.4l1.8-.7l1.7-.7l1.7,.1l1.7-1l1.7-.9l1.7-.3l1.7-1.4l1.7-1.3l1.7-.6l1.7-1.7l1.8-1.7l1.7-1.1l1.7-2.2l1.7-2.1l1.7-1.5l1.7-2.6l1.7-2.6l1.7-1.9l1.7-3.1l1.7-3l1.8-2.5l1.7-3.5l1.7-3.5l1.7-2.8l1.7-4l1.7-4l1.7-3.3l1.7-4.5l1.7-4.4l1.7-3.8l1.8-4.8l1.7-4.8l1.7-4.1l1.7-5.2l1.7-4.9l1.7-4.3l1.7-5.2l1.7-4.9l1.7-4.3l1.7-5l1.8-4.9l1.7-4.2l1.7-5l1.7-4.9l1.7-4.1l1.7-5l1.7-4.9l1.7-4.2l1.7-5l1.7-4.8l1.8-4.1l1.7-4.9l1.7-4.6l1.7-4l1.7-4.6l1.7-4.4l1.7-3.7l1.7-4.4l1.7-4.2l1.7-3.6l1.8-4.2l1.7-4l1.7-3.4l1.7-4.1l1.7-3.9l1.7-3.3l1.7-4l1.7-3.8l1.7-3.2l1.7-4l1.8-3.8l1.7-3.1l1.7-3.9l1.7-3.7l1.7-3.1l1.7-3.8l1.7-3.6l1.7-2.9l1.7-3.6l1.7-3.3l1.8-2.6l1.7-3.2l1.7-2.9l1.7-2.2l1.7-2.7l1.7-2.4l1.7-1.5l1.7-2.1l1.7-1.7l1.7-.8l1.8-1.4l1.7-1l1.7,0l1.7-.6l1.7-.2l1.7,.6l1.7,.1l1.7,.5l1.7,1.3l1.7,.7l1.8,1.1l1.7,1.9l1.7,1.3l1.7,1.6l1.7,2.3l1.7,1.7l1.7,2.1l1.7,2.7l1.7,2.2l1.7,2.4l1.8,3.2l1.7,2.5l1.7,2.7l1.7,3.5l1.7,2.8l1.7,3.1l1.7,3.8l1.7,3l1.7,3.4l1.7,4l1.7,3.3l1.8,3.5l1.7,4.2l1.7,3.4l1.7,3.7l1.7,4.4l1.7,3.6l1.7,3.8l1.7,4.5l1.7,3.7l1.7,4l1.8,4.6l1.7,3.9l1.7,4.1l1.7,4.7l1.7,4l1.7,4.2l1.7,4.9l1.7,4.2l1.7,4.4l1.7,5.1l1.8,4.5l1.7,4.7l1.7,5.3l1.7,4.7l1.7,4.8l1.7,5.5l1.7,4.8l1.7,4.9l1.7,5.5l1.7,4.7l1.8,4.8l1.7,5.5l1.7,4.7l1.7,4.8l1.7,5.4l1.7,4.6l1.7,4.7l1.7,5.3l1.7,4.5l1.7,4.5l1.8,5.3l1.7,4.2l1.7,4.3l1.7,5l1.7,3.9l1.7,3.9l1.7,4.6l1.7,3.4l1.7,3.5l1.7,4.2l1.8,3l1.7,3.1l1.7,3.7l1.7,2.6l1.7,2.6l1.7,3.3l1.7,2.1l1.7,2.2l1.7,2.9l1.7,1.7l1.8,1.7l1.7,2.5l1.7,1.1l1.7,1.2l1.7,2.1l1.7,.6l1.7,.7l1.7,1.5l1.7,.1l1.7,.2l1.8,1l1.7-.5l1.7-.4l1.7,.4l1.7-1.1l1.7-1l1.7-.2l1.7-1.7l1.7-1.6l1.7-.8l1.8-2.3l1.7-2.3l1.7-1.3l1.7-2.9l1.7-2.9l1.7-1.9l1.7-3.5l1.7-3.4l1.7-2.4l1.7-4l1.8-3.9l1.7-2.8l1.7-4.5l1.7-4.2l1.7-3.1l1.7-4.6l1.7-4.4l1.7-3.1l1.7-4.7l1.7-4.5l1.8-3.2l1.7-4.9l1.7-4.5l1.7-3.4l1.7-5l1.7-4.7l1.7-3.6l1.7-5.2l1.7-4.9l1.7-3.8l1.8-5.3l1.7-5.1l1.7-3.9l1.7-5.5l1.7-5.2l1.7-4.1l1.7-5.5l1.7-5.3l1.7-4.2l1.7-5.7l1.8-5.3l1.7-4.3l1.7-5.6l1.7-5.4l1.7-4.3l1.7-5.7l1.7-5.4l1.7-4.3l1.7-5.6l1.7-5.4l1.8-4.2l1.7-5.6l1.7-5.3l1.7-4.1l1.7-5.5l1.7-5.1l1.7-4.1l1.7-5.2l1.7-5l1.7-3.8l1.8-5l1.7-4.7l1.7-3.6l1.7-4.7l1.7-4.3l1.7-3.2l1.7-4.4l1.7-3.9l1.7-2.8l1.7-3.9l1.8-3.5l1.7-2.2l1.7-3.4l1.7-3.1l1.7-1.6l1.7-3.1l1.7-2.5l1.7-1.1l1.7-2.7l1.7-2.1l1.8-.6l1.7-2.3l1.7-1.7l1.7,0l1.7-1.9l1.7-1.4l1.7,.6l1.7-1.6l1.7-1l1.7,1.2l1.8-1.3l1.7-.6l1.7,1.7l1.7-.9l1.7-.2l1.7,2.2"/>
<path d="M162.2,124.8l1.7-1.2l1.7-.8l1.7,0l1.7-.8l1.7-.6l1.8,.4l1.7-.5l1.7-.2l1.7,.7l1.7-.2l1.7,.2l1.7,1l1.7,.2l1.7,.5l1.7,1.4l1.8,.5l1.7,.9l1.7,1.8l1.7,.9l1.7,1.3l1.7,2.2l1.7,1.3l1.7,1.7l1.7,2.6l1.7,1.8l1.8,2l1.7,3.1l1.7,2.1l1.7,2.4l1.7,3.5l1.7,2.4l1.7,2.8l1.7,3.7l1.7,2.8l1.7,3l1.8,4l1.7,3l1.7,3.3l1.7,4.2l1.7,3.2l1.7,3.4l1.7,4.4l1.7,3.2l1.7,3.6l1.7,4.5l1.8,3.4l1.7,3.7l1.7,4.7l1.7,3.5l1.7,3.8l1.7,4.8l1.7,3.6l1.7,3.8l1.7,4.9l1.7,3.6l1.8,3.9l1.7,4.9l1.7,3.6l1.7,4l1.7,4.9l1.7,3.7l1.7,4l1.7,5.1l1.7,3.9l1.7,4.2l1.8,5.3l1.7,4l1.7,4.4l1.7,5.4l1.7,4.2l1.7,4.4l1.7,5.4l1.7,4l1.7,4.2l1.7,5.2l1.8,3.7l1.7,3.8l1.7,4.9l1.7,3.2l1.7,3.3l1.7,4.4l1.7,2.6l1.7,2.8l1.7,3.7l1.7,2l1.8,2.1l1.7,3.1l1.7,1.4l1.7,1.5l1.7,2.6l1.7,.9l1.7,.9l1.7,2.1l1.7,.4l1.7,.6l1.8,1.7l1.7,0l1.7,.2l1.7,1.4l1.7-.3l1.7-.2l1.7,1.1l1.7-.6l1.7-.5l1.7,.8l1.8-.9l1.7-.7l1.7,.5l1.7-1.2l1.7-1.1l1.7,.1l1.7-1.5l1.7-1.4l1.7-.3l1.7-2l1.8-1.8l1.7-.7l1.7-2.4l1.7-2.2l1.7-1.2l1.7-2.9l1.7-2.7l1.7-1.6l1.7-3.3l1.7-3.2l1.8-2.1l1.7-3.8l1.7-3.6l1.7-2.6l1.7-4.2l1.7-4.1l1.7-3.1l1.7-4.6l1.7-4.6l1.7-3.5l1.8-5.1l1.7-4.9l1.7-3.8l1.7-5.3l1.7-5l1.7-4l1.7-5.3l1.7-5l1.7-3.9l1.7-5.1l1.8-4.9l1.7-3.8l1.7-5l1.7-4.8l1.7-3.8l1.7-5l1.7-4.8l1.7-3.8l1.7-5.1l1.7-4.8l1.8-3.7l1.7-5l1.7-4.7l1.7-3.6l1.7-4.7l1.7-4.5l1.7-3.4l1.7-4.6l1.7-4.2l1.7-3.3l1.8-4.4l1.7-4.1l1.7-3.2l1.7-4.3l1.7-4l1.7-3.1l1.7-4.3l1.7-3.9l1.7-3.1l1.7-4.2l1.8-3.9l1.7-3l1.7-4.2l1.7-3.9l1.7-2.9l1.7-4l1.7-3.8l1.7-2.7l1.7-3.8l1.7-3.4l1.8-2.4l1.7-3.4l1.7-3.1l1.7-1.9l1.7-2.8l1.7-2.5l1.7-1.2l1.7-2.2l1.7-1.8l1.7-.5l1.8-1.5l1.7-1l1.7,.2l1.7-.8l1.7-.2l1.7,.9l1.7,0l1.7,.4l1.7,1.6l1.7,.5l1.8,1l1.7,2.2l1.7,1.1l1.7,1.5l1.7,2.6l1.7,1.6l1.7,1.9l1.7,3l1.7,2l1.7,2.3l1.8,3.4l1.7,2.4l1.7,2.6l1.7,3.8l1.7,2.6l1.7,3l1.7,4l1.7,2.9l1.7,3.2l1.7,4.3l1.7,3.1l1.8,3.4l1.7,4.5l1.7,3.3l1.7,3.6l1.7,4.6l1.7,3.4l1.7,3.8l1.7,4.7l1.7,3.6l1.7,3.9l1.8,4.9l1.7,3.7l1.7,4l1.7,5l1.7,3.9l1.7,4.1l1.7,5.1l1.7,4.1l1.7,4.3l1.7,5.4l1.8,4.3l1.7,4.6l1.7,5.6l1.7,4.5l1.7,4.8l1.7,5.7l1.7,4.6l1.7,4.8l1.7,5.7l1.7,4.5l1.8,4.8l1.7,5.7l1.7,4.5l1.7,4.6l1.7,5.7l1.7,4.4l1.7,4.6l1.7,5.6l1.7,4.2l1.7,4.5l1.8,5.5l1.7,4l1.7,4.2l1.7,5.3l1.7,3.7l1.7,3.9l1.7,4.9l1.7,3.2l1.7,3.5l1.7,4.5l1.8,2.8l1.7,3l1.7,4.1l1.7,2.4l1.7,2.5l1.7,3.7l1.7,1.9l1.7,2.1l1.7,3.3l1.7,1.4l1.8,1.6l1.7,2.9l1.7,.9l1.7,1l1.7,2.4l1.7,.3l1.7,.5l1.7,1.9l1.7-.3l1.7-.1l1.8,1.3l1.7-.9l1.7-.7l1.7,.7l1.7-1.5l1.7-1.4l1.7,.1l1.7-2.2l1.7-1.9l1.7-.5l1.8-2.8l1.7-2.5l1.7-1.1l1.7-3.3l1.7-3.1l1.7-1.5l1.7-3.9l1.7-3.5l1.7-2l1.7-4.3l1.8-4.1l1.7-2.3l1.7-4.7l1.7-4.3l1.7-2.5l1.7-4.8l1.7-4.4l1.7-2.5l1.7-4.9l1.7-4.4l1.8-2.6l1.7-5l1.7-4.6l1.7-2.7l1.7-5.1l1.7-4.8l1.7-3l1.7-5.3l1.7-5l1.7-3.2l1.8-5.5l1.7-5.2l1.7-3.4l1.7-5.7l1.7-5.4l1.7-3.5l1.7-5.9l1.7-5.4l1.7-3.7l1.7-5.9l1.8-5.6l1.7-3.8l1.7-5.9l1.7-5.6l1.7-3.8l1.7-6l1.7-5.5l1.7-3.9l1.7-5.9l1.7-5.5l1.8-3.9l1.7-5.8l1.7-5.4l1.7-3.8l1.7-5.7l1.7-5.3l1.7-3.7l1.7-5.5l1.7-5.1l1.7-3.4l1.8-5.4l1.7-4.8l1.7-3.2l1.7-4.9l1.7-4.5l1.7-2.9l1.7-4.6l1.7-4.1l1.7-2.3l1.7-4.2l1.8-3.7l1.7-1.7l1.7-3.8l1.7-3.3l1.7-1.1l1.7-3.4l1.7-2.8l1.7-.5l1.7-3.1l1.7-2.3l1.8,0l1.7-2.7l1.7-1.9l1.7,.5l1.7-2.3l1.7-1.6l1.7,1.2l1.7-2l1.7-1.2l1.7,1.9l1.8-1.8l1.7-.8l1.7,2.5l1.7-1.5l1.7-.5l1.7,3.2"/>
<path d="M162.2,124.4l1.7-1.1l1.7-.8l1.7,.1l1.7-.8l1.7-.5l1.8,.4l1.7-.5l1.7-.1l1.7,.7l1.7-.2l1.7,.2l1.7,1.1l1.7,.2l1.7,.5l1.7,1.4l1.8,.6l1.7,.9l1.7,1.8l1.7,.9l1.7,1.2l1.7,2.2l1.7,1.2l1.7,1.6l1.7,2.6l1.7,1.6l1.8,2l1.7,2.9l1.7,2l1.7,2.3l1.7,3.3l1.7,2.3l1.7,2.6l1.7,3.6l1.7,2.6l1.7,2.9l1.8,3.9l1.7,2.8l1.7,3.2l1.7,4.1l1.7,3.1l1.7,3.3l1.7,4.3l1.7,3.3l1.7,3.5l1.7,4.6l1.8,3.4l1.7,3.8l1.7,4.7l1.7,3.6l1.7,3.9l1.7,4.9l1.7,3.7l1.7,4l1.7,5l1.7,3.9l1.8,4l1.7,5.1l1.7,3.8l1.7,4.2l1.7,5.1l1.7,3.9l1.7,4.2l1.7,5.2l1.7,4l1.7,4.3l1.8,5.4l1.7,4.2l1.7,4.4l1.7,5.5l1.7,4.2l1.7,4.4l1.7,5.4l1.7,3.9l1.7,4.2l1.7,5.1l1.8,3.6l1.7,3.7l1.7,4.7l1.7,3l1.7,3.2l1.7,4.2l1.7,2.4l1.7,2.5l1.7,3.6l1.7,1.8l1.8,1.9l1.7,2.9l1.7,1.2l1.7,1.3l1.7,2.4l1.7,.7l1.7,.9l1.7,1.9l1.7,.3l1.7,.5l1.8,1.6l1.7,0l1.7,.2l1.7,1.4l1.7-.4l1.7,0l1.7,1.1l1.7-.6l1.7-.3l1.7,.8l1.8-.8l1.7-.5l1.7,.5l1.7-1l1.7-.9l1.7,.2l1.7-1.4l1.7-1.3l1.7-.1l1.7-1.8l1.8-1.7l1.7-.5l1.7-2.3l1.7-2.1l1.7-1.1l1.7-2.7l1.7-2.6l1.7-1.5l1.7-3.2l1.7-3.1l1.8-2.1l1.7-3.6l1.7-3.6l1.7-2.6l1.7-4.1l1.7-4.1l1.7-3l1.7-4.7l1.7-4.5l1.7-3.6l1.8-5l1.7-5l1.7-3.8l1.7-5.4l1.7-5.1l1.7-4l1.7-5.4l1.7-5.1l1.7-3.9l1.7-5.3l1.8-5l1.7-3.9l1.7-5.2l1.7-4.9l1.7-3.8l1.7-5.2l1.7-4.9l1.7-3.8l1.7-5.1l1.7-4.9l1.8-3.8l1.7-5l1.7-4.6l1.7-3.7l1.7-4.7l1.7-4.5l1.7-3.4l1.7-4.6l1.7-4.2l1.7-3.3l1.8-4.3l1.7-4.1l1.7-3.2l1.7-4.2l1.7-4l1.7-3l1.7-4.2l1.7-3.9l1.7-3l1.7-4.2l1.8-3.8l1.7-2.9l1.7-4.1l1.7-3.8l1.7-2.9l1.7-3.9l1.7-3.7l1.7-2.7l1.7-3.7l1.7-3.4l1.8-2.4l1.7-3.4l1.7-3l1.7-1.8l1.7-2.9l1.7-2.4l1.7-1.3l1.7-2.2l1.7-1.8l1.7-.5l1.8-1.5l1.7-1.1l1.7,.2l1.7-.7l1.7-.3l1.7,.9l1.7,0l1.7,.4l1.7,1.5l1.7,.6l1.8,1l1.7,2.1l1.7,1.1l1.7,1.5l1.7,2.6l1.7,1.5l1.7,2l1.7,3l1.7,1.9l1.7,2.4l1.8,3.3l1.7,2.3l1.7,2.7l1.7,3.7l1.7,2.6l1.7,3l1.7,4l1.7,2.9l1.7,3.2l1.7,4.2l1.7,3.1l1.8,3.5l1.7,4.4l1.7,3.3l1.7,3.6l1.7,4.6l1.7,3.5l1.7,3.7l1.7,4.8l1.7,3.6l1.7,3.9l1.8,4.9l1.7,3.7l1.7,4l1.7,5.1l1.7,3.8l1.7,4.2l1.7,5.2l1.7,4l1.7,4.4l1.7,5.4l1.8,4.3l1.7,4.7l1.7,5.6l1.7,4.5l1.7,4.8l1.7,5.7l1.7,4.6l1.7,4.8l1.7,5.7l1.7,4.6l1.8,4.7l1.7,5.7l1.7,4.4l1.7,4.7l1.7,5.6l1.7,4.3l1.7,4.5l1.7,5.6l1.7,4.2l1.7,4.4l1.8,5.5l1.7,3.9l1.7,4.2l1.7,5.2l1.7,3.7l1.7,3.7l1.7,4.9l1.7,3.2l1.7,3.4l1.7,4.5l1.8,2.8l1.7,2.9l1.7,4.1l1.7,2.3l1.7,2.5l1.7,3.7l1.7,1.9l1.7,2.1l1.7,3.3l1.7,1.4l1.8,1.6l1.7,2.9l1.7,.9l1.7,1.1l1.7,2.4l1.7,.4l1.7,.6l1.7,1.9l1.7-.2l1.7,0l1.8,1.4l1.7-.8l1.7-.6l1.7,.8l1.7-1.5l1.7-1.2l1.7,.2l1.7-2.1l1.7-1.9l1.7-.4l1.8-2.7l1.7-2.5l1.7-1l1.7-3.3l1.7-3.1l1.7-1.5l1.7-3.9l1.7-3.6l1.7-2l1.7-4.4l1.8-4.1l1.7-2.4l1.7-4.8l1.7-4.4l1.7-2.6l1.7-4.9l1.7-4.5l1.7-2.6l1.7-5l1.7-4.5l1.8-2.7l1.7-5.1l1.7-4.6l1.7-2.8l1.7-5.2l1.7-4.8l1.7-3.1l1.7-5.3l1.7-5l1.7-3.3l1.8-5.5l1.7-5.2l1.7-3.4l1.7-5.7l1.7-5.3l1.7-3.6l1.7-5.8l1.7-5.4l1.7-3.7l1.7-5.9l1.8-5.5l1.7-3.8l1.7-5.9l1.7-5.5l1.7-3.8l1.7-5.9l1.7-5.5l1.7-3.8l1.7-5.9l1.7-5.5l1.8-3.7l1.7-5.9l1.7-5.3l1.7-3.7l1.7-5.7l1.7-5.3l1.7-3.5l1.7-5.6l1.7-5l1.7-3.4l1.8-5.3l1.7-4.7l1.7-3.2l1.7-4.9l1.7-4.5l1.7-2.8l1.7-4.6l1.7-4.1l1.7-2.3l1.7-4.2l1.8-3.7l1.7-1.7l1.7-3.8l1.7-3.3l1.7-1.1l1.7-3.4l1.7-2.8l1.7-.6l1.7-3l1.7-2.4l1.8,0l1.7-2.7l1.7-2l1.7,.6l1.7-2.3l1.7-1.6l1.7,1.2l1.7-2.1l1.7-1.2l1.7,1.8l1.8-1.7l1.7-.9l1.7,2.5l1.7-1.4l1.7-.6l1.7,3.2"/>
<path d="M162.2,124.4l1.7-1.4l1.7-.9l1.7,.4l1.7-1l1.7-.7l1.8,.7l1.7-.7l1.7-.3l1.7,1l1.7-.4l1.7,0l1.7,1.4l1.7-.1l1.7,.3l1.7,1.7l1.8,.2l1.7,.7l1.7,2.1l1.7,.6l1.7,1l1.7,2.5l1.7,.9l1.7,1.5l1.7,2.9l1.7,1.3l1.8,1.8l1.7,3.3l1.7,1.8l1.7,2.2l1.7,3.7l1.7,2.1l1.7,2.6l1.7,4l1.7,2.4l1.7,2.9l1.8,4.4l1.7,2.7l1.7,3.1l1.7,4.7l1.7,2.9l1.7,3.3l1.7,4.9l1.7,3.1l1.7,3.5l1.7,5l1.8,3.2l1.7,3.7l1.7,5.1l1.7,3.4l1.7,3.7l1.7,5.3l1.7,3.4l1.7,3.7l1.7,5.4l1.7,3.4l1.8,3.7l1.7,5.4l1.7,3.3l1.7,3.8l1.7,5.4l1.7,3.4l1.7,3.8l1.7,5.6l1.7,3.5l1.7,3.9l1.8,5.7l1.7,3.7l1.7,4.2l1.7,5.9l1.7,3.8l1.7,4.1l1.7,6l1.7,3.6l1.7,4l1.7,5.6l1.8,3.4l1.7,3.6l1.7,5.3l1.7,2.9l1.7,3.1l1.7,4.8l1.7,2.3l1.7,2.5l1.7,4.2l1.7,1.7l1.8,1.8l1.7,3.7l1.7,1l1.7,1.2l1.7,3.1l1.7,.5l1.7,.7l1.7,2.7l1.7-.1l1.7,.3l1.8,2.3l1.7-.4l1.7-.1l1.7,2l1.7-.7l1.7-.4l1.7,1.7l1.7-1.1l1.7-.6l1.7,1.4l1.8-1.3l1.7-.8l1.7,1l1.7-1.5l1.7-1.2l1.7,.8l1.7-1.9l1.7-1.5l1.7,.3l1.7-2.2l1.8-1.9l1.7,0l1.7-2.7l1.7-2.3l1.7-.5l1.7-3.1l1.7-2.7l1.7-1l1.7-3.5l1.7-3.2l1.8-1.5l1.7-4l1.7-3.7l1.7-1.9l1.7-4.5l1.7-4.1l1.7-2.5l1.7-4.9l1.7-4.7l1.7-3l1.8-5.3l1.7-5l1.7-3.4l1.7-5.6l1.7-5.2l1.7-3.5l1.7-5.6l1.7-5.2l1.7-3.5l1.7-5.5l1.8-5.2l1.7-3.3l1.7-5.5l1.7-5.1l1.7-3.4l1.7-5.4l1.7-5.1l1.7-3.4l1.7-5.4l1.7-5l1.8-3.4l1.7-5.3l1.7-4.9l1.7-3.1l1.7-5.1l1.7-4.7l1.7-2.9l1.7-4.9l1.7-4.4l1.7-2.9l1.8-4.7l1.7-4.2l1.7-2.7l1.7-4.6l1.7-4.2l1.7-2.6l1.7-4.5l1.7-4.1l1.7-2.5l1.7-4.5l1.8-4l1.7-2.5l1.7-4.4l1.7-4l1.7-2.4l1.7-4.3l1.7-3.9l1.7-2.2l1.7-4.1l1.7-3.5l1.8-2l1.7-3.6l1.7-3.2l1.7-1.4l1.7-3.1l1.7-2.6l1.7-.8l1.7-2.4l1.7-1.9l1.7-.1l1.8-1.7l1.7-1.1l1.7,.6l1.7-1l1.7-.3l1.7,1.3l1.7-.3l1.7,.3l1.7,2l1.7,.3l1.8,.9l1.7,2.5l1.7,.8l1.7,1.4l1.7,3l1.7,1.3l1.7,1.8l1.7,3.5l1.7,1.6l1.7,2.2l1.8,3.8l1.7,2.1l1.7,2.5l1.7,4.2l1.7,2.3l1.7,2.8l1.7,4.5l1.7,2.6l1.7,3.1l1.7,4.6l1.7,2.9l1.8,3.3l1.7,4.8l1.7,3l1.7,3.5l1.7,5l1.7,3.2l1.7,3.6l1.7,5.1l1.7,3.3l1.7,3.7l1.8,5.3l1.7,3.5l1.7,3.8l1.7,5.4l1.7,3.6l1.7,4l1.7,5.5l1.7,3.8l1.7,4.2l1.7,5.8l1.8,4l1.7,4.4l1.7,6.1l1.7,4.2l1.7,4.6l1.7,6.1l1.7,4.3l1.7,4.7l1.7,6.1l1.7,4.3l1.8,4.6l1.7,6.1l1.7,4.2l1.7,4.6l1.7,6.1l1.7,4l1.7,4.5l1.7,6l1.7,3.9l1.7,4.3l1.8,6l1.7,3.6l1.7,4l1.7,5.8l1.7,3.3l1.7,3.6l1.7,5.4l1.7,2.8l1.7,3.1l1.7,5l1.8,2.4l1.7,2.6l1.7,4.7l1.7,1.8l1.7,2.2l1.7,4.3l1.7,1.3l1.7,1.8l1.7,3.8l1.7,.9l1.8,1.2l1.7,3.5l1.7,.3l1.7,.8l1.7,3l1.7-.2l1.7,.3l1.7,2.5l1.7-.7l1.7-.3l1.8,2l1.7-1.3l1.7-.8l1.7,1.5l1.7-1.9l1.7-1.4l1.7,.9l1.7-2.5l1.7-2l1.7,.4l1.8-3.1l1.7-2.7l1.7-.1l1.7-3.7l1.7-3.2l1.7-.7l1.7-4.2l1.7-3.8l1.7-1.1l1.7-4.8l1.8-4.3l1.7-1.5l1.7-5.2l1.7-4.6l1.7-1.7l1.7-5.4l1.7-4.6l1.7-1.8l1.7-5.4l1.7-4.8l1.8-1.8l1.7-5.6l1.7-4.9l1.7-2l1.7-5.7l1.7-5.1l1.7-2.1l1.7-6l1.7-5.2l1.7-2.4l1.8-6.1l1.7-5.5l1.7-2.6l1.7-6.2l1.7-5.6l1.7-2.8l1.7-6.4l1.7-5.6l1.7-3l1.7-6.4l1.8-5.7l1.7-3.1l1.7-6.4l1.7-5.8l1.7-3.1l1.7-6.4l1.7-5.8l1.7-3.1l1.7-6.4l1.7-5.8l1.8-3.1l1.7-6.3l1.7-5.7l1.7-3l1.7-6.2l1.7-5.6l1.7-2.9l1.7-6l1.7-5.3l1.7-2.8l1.8-5.7l1.7-5.1l1.7-2.5l1.7-5.4l1.7-4.7l1.7-2.2l1.7-5l1.7-4.3l1.7-1.6l1.7-4.7l1.8-3.9l1.7-.9l1.7-4.3l1.7-3.5l1.7-.3l1.7-3.9l1.7-3.1l1.7,.4l1.7-3.6l1.7-2.7l1.8,1l1.7-3.3l1.7-2.3l1.7,1.6l1.7-3l1.7-2l1.7,2.4l1.7-2.8l1.7-1.7l1.7,3.3l1.8-2.7l1.7-1.4l1.7,4l1.7-2.4l1.7-1.1l1.7,4.8"/>
<path d="M162.2,124.5l1.7-1.4l1.7-1l1.7,.5l1.7-1.1l1.7-.7l1.8,.8l1.7-.8l1.7-.3l1.7,1.1l1.7-.5l1.7,0l1.7,1.4l1.7-.1l1.7,.3l1.7,1.8l1.8,.2l1.7,.6l1.7,2.2l1.7,.5l1.7,1l1.7,2.5l1.7,.9l1.7,1.4l1.7,2.9l1.7,1.3l1.8,1.7l1.7,3.3l1.7,1.7l1.7,2.1l1.7,3.6l1.7,2l1.7,2.4l1.7,4l1.7,2.2l1.7,2.7l1.8,4.3l1.7,2.4l1.7,3l1.7,4.5l1.7,2.6l1.7,3.2l1.7,4.7l1.7,2.8l1.7,3.3l1.7,4.9l1.8,3.1l1.7,3.5l1.7,5.1l1.7,3.2l1.7,3.6l1.7,5.3l1.7,3.3l1.7,3.7l1.7,5.4l1.7,3.4l1.8,3.8l1.7,5.5l1.7,3.4l1.7,3.9l1.7,5.6l1.7,3.5l1.7,4l1.7,5.7l1.7,3.7l1.7,4.1l1.8,6l1.7,3.8l1.7,4.3l1.7,6.2l1.7,3.8l1.7,4.3l1.7,6.2l1.7,3.7l1.7,4l1.7,5.9l1.8,3.3l1.7,3.7l1.7,5.5l1.7,2.8l1.7,3.1l1.7,5l1.7,2.2l1.7,2.5l1.7,4.3l1.7,1.6l1.8,1.8l1.7,3.7l1.7,1l1.7,1.2l1.7,3.2l1.7,.4l1.7,.7l1.7,2.7l1.7,0l1.7,.3l1.8,2.4l1.7-.5l1.7,0l1.7,2.2l1.7-.8l1.7-.3l1.7,1.8l1.7-1.1l1.7-.6l1.7,1.6l1.8-1.3l1.7-.9l1.7,1.2l1.7-1.6l1.7-1.2l1.7,.9l1.7-1.9l1.7-1.6l1.7,.5l1.7-2.4l1.8-1.9l1.7,0l1.7-2.7l1.7-2.4l1.7-.5l1.7-3.2l1.7-2.8l1.7-1l1.7-3.7l1.7-3.3l1.8-1.4l1.7-4.2l1.7-3.7l1.7-2l1.7-4.6l1.7-4.2l1.7-2.5l1.7-5.1l1.7-4.7l1.7-3l1.8-5.5l1.7-5.1l1.7-3.3l1.7-5.7l1.7-5.3l1.7-3.4l1.7-5.8l1.7-5.2l1.7-3.4l1.7-5.6l1.8-5.1l1.7-3.3l1.7-5.5l1.7-5l1.7-3.3l1.7-5.4l1.7-5l1.7-3.3l1.7-5.4l1.7-5l1.8-3.2l1.7-5.3l1.7-4.8l1.7-3.1l1.7-5.1l1.7-4.6l1.7-2.9l1.7-4.9l1.7-4.4l1.7-2.8l1.8-4.7l1.7-4.3l1.7-2.6l1.7-4.6l1.7-4.2l1.7-2.6l1.7-4.5l1.7-4.1l1.7-2.5l1.7-4.5l1.8-4l1.7-2.5l1.7-4.4l1.7-3.9l1.7-2.4l1.7-4.3l1.7-3.8l1.7-2.2l1.7-4l1.7-3.6l1.8-1.8l1.7-3.7l1.7-3.1l1.7-1.3l1.7-3.1l1.7-2.6l1.7-.7l1.7-2.4l1.7-1.9l1.7,0l1.8-1.8l1.7-1.1l1.7,.7l1.7-1l1.7-.4l1.7,1.4l1.7-.3l1.7,.2l1.7,2.1l1.7,.3l1.8,.8l1.7,2.6l1.7,.8l1.7,1.3l1.7,3.1l1.7,1.2l1.7,1.8l1.7,3.5l1.7,1.6l1.7,2.2l1.8,3.9l1.7,1.9l1.7,2.5l1.7,4.2l1.7,2.3l1.7,2.8l1.7,4.5l1.7,2.5l1.7,3.1l1.7,4.7l1.7,2.8l1.8,3.2l1.7,4.9l1.7,2.9l1.7,3.4l1.7,5.1l1.7,3.1l1.7,3.6l1.7,5.2l1.7,3.2l1.7,3.7l1.8,5.3l1.7,3.4l1.7,3.8l1.7,5.5l1.7,3.5l1.7,4l1.7,5.6l1.7,3.6l1.7,4.2l1.7,5.9l1.8,3.9l1.7,4.4l1.7,6l1.7,4.1l1.7,4.6l1.7,6.2l1.7,4.2l1.7,4.5l1.7,6.2l1.7,4.2l1.8,4.6l1.7,6.2l1.7,4.1l1.7,4.5l1.7,6.2l1.7,4l1.7,4.4l1.7,6.1l1.7,3.9l1.7,4.3l1.8,6.1l1.7,3.6l1.7,4l1.7,5.9l1.7,3.3l1.7,3.6l1.7,5.6l1.7,2.8l1.7,3.2l1.7,5.2l1.8,2.3l1.7,2.7l1.7,4.9l1.7,1.8l1.7,2.3l1.7,4.4l1.7,1.4l1.7,1.8l1.7,4.1l1.7,.9l1.8,1.3l1.7,3.6l1.7,.4l1.7,.8l1.7,3.1l1.7-.2l1.7,.2l1.7,2.7l1.7-.8l1.7-.3l1.8,2.1l1.7-1.4l1.7-1l1.7,1.6l1.7-2.1l1.7-1.6l1.7,1l1.7-2.7l1.7-2.2l1.7,.4l1.8-3.3l1.7-2.8l1.7-.2l1.7-3.9l1.7-3.4l1.7-.6l1.7-4.5l1.7-3.9l1.7-1l1.7-5l1.8-4.4l1.7-1.5l1.7-5.3l1.7-4.7l1.7-1.6l1.7-5.5l1.7-4.7l1.7-1.6l1.7-5.6l1.7-4.8l1.8-1.7l1.7-5.6l1.7-4.9l1.7-1.8l1.7-5.8l1.7-5.1l1.7-2l1.7-6l1.7-5.3l1.7-2.2l1.8-6.2l1.7-5.5l1.7-2.4l1.7-6.3l1.7-5.6l1.7-2.7l1.7-6.4l1.7-5.7l1.7-2.8l1.7-6.5l1.8-5.8l1.7-2.8l1.7-6.6l1.7-5.8l1.7-2.9l1.7-6.5l1.7-5.8l1.7-2.9l1.7-6.5l1.7-5.7l1.8-3l1.7-6.4l1.7-5.6l1.7-2.9l1.7-6.2l1.7-5.5l1.7-2.8l1.7-6l1.7-5.3l1.7-2.6l1.8-5.8l1.7-5l1.7-2.3l1.7-5.5l1.7-4.7l1.7-1.9l1.7-5.1l1.7-4.3l1.7-1.5l1.7-4.7l1.8-3.9l1.7-.8l1.7-4.4l1.7-3.6l1.7-.1l1.7-4.1l1.7-3.1l1.7,.5l1.7-3.7l1.7-2.8l1.8,1.2l1.7-3.4l1.7-2.4l1.7,1.8l1.7-3.2l1.7-2.1l1.7,2.6l1.7-2.9l1.7-1.8l1.7,3.4l1.8-2.8l1.7-1.5l1.7,4.2l1.7-2.6l1.7-1.2l1.7,5"/>
<path d="M162.2,122.3l1.7-1.3l1.7-.9l1.7,.4l1.7-1.1l1.7-.6l1.8,.6l1.7-.8l1.7-.5l1.7,1l1.7-.6l1.7-.2l1.7,1.3l1.7-.3l1.7,.1l1.7,1.6l1.8,0l1.7,.5l1.7,2l1.7,.4l1.7,.8l1.7,2.4l1.7,.7l1.7,1.3l1.7,2.7l1.7,1.2l1.8,1.7l1.7,3.1l1.7,1.6l1.7,2l1.7,3.6l1.7,1.9l1.7,2.3l1.7,3.9l1.7,2.1l1.7,2.6l1.8,4.1l1.7,2.4l1.7,2.8l1.7,4.3l1.7,2.6l1.7,2.9l1.7,4.5l1.7,2.7l1.7,3.1l1.7,4.7l1.8,2.8l1.7,3.2l1.7,4.9l1.7,2.9l1.7,3.4l1.7,5l1.7,3.1l1.7,3.5l1.7,5.1l1.7,3.2l1.8,3.5l1.7,5.3l1.7,3.2l1.7,3.7l1.7,5.4l1.7,3.4l1.7,3.8l1.7,5.7l1.7,3.6l1.7,4.1l1.8,5.9l1.7,3.9l1.7,4.4l1.7,6.2l1.7,4.1l1.7,4.5l1.7,6.3l1.7,3.9l1.7,4.3l1.7,6.1l1.8,3.6l1.7,3.9l1.7,5.7l1.7,3.1l1.7,3.4l1.7,5.1l1.7,2.5l1.7,2.7l1.7,4.5l1.7,1.8l1.8,2l1.7,3.9l1.7,1.1l1.7,1.4l1.7,3.3l1.7,.5l1.7,.9l1.7,2.8l1.7,0l1.7,.5l1.8,2.5l1.7-.4l1.7,.1l1.7,2.2l1.7-.7l1.7-.2l1.7,1.9l1.7-1l1.7-.5l1.7,1.5l1.8-1.2l1.7-.8l1.7,1.2l1.7-1.6l1.7-1.1l1.7,.8l1.7-1.9l1.7-1.5l1.7,.4l1.7-2.2l1.8-1.9l1.7,0l1.7-2.7l1.7-2.3l1.7-.4l1.7-3.2l1.7-2.7l1.7-1l1.7-3.5l1.7-3.3l1.8-1.4l1.7-4l1.7-3.7l1.7-2l1.7-4.5l1.7-4.2l1.7-2.5l1.7-5l1.7-4.8l1.7-3l1.8-5.5l1.7-5.1l1.7-3.4l1.7-5.8l1.7-5.3l1.7-3.5l1.7-5.8l1.7-5.3l1.7-3.4l1.7-5.6l1.8-5.2l1.7-3.3l1.7-5.5l1.7-5l1.7-3.3l1.7-5.4l1.7-5l1.7-3.2l1.7-5.3l1.7-4.8l1.8-3.2l1.7-5.2l1.7-4.7l1.7-3l1.7-5l1.7-4.5l1.7-2.9l1.7-4.9l1.7-4.3l1.7-2.8l1.8-4.7l1.7-4.2l1.7-2.7l1.7-4.5l1.7-4.2l1.7-2.5l1.7-4.5l1.7-4l1.7-2.5l1.7-4.3l1.8-4l1.7-2.4l1.7-4.3l1.7-3.8l1.7-2.3l1.7-4.2l1.7-3.8l1.7-2l1.7-4l1.7-3.4l1.8-1.8l1.7-3.5l1.7-3l1.7-1.2l1.7-3l1.7-2.4l1.7-.6l1.7-2.3l1.7-1.7l1.7,.1l1.8-1.6l1.7-1l1.7,.8l1.7-.9l1.7-.3l1.7,1.5l1.7-.3l1.7,.3l1.7,2l1.7,.3l1.8,.9l1.7,2.6l1.7,.7l1.7,1.4l1.7,3l1.7,1.2l1.7,1.8l1.7,3.4l1.7,1.6l1.7,2.1l1.8,3.8l1.7,2l1.7,2.5l1.7,4.1l1.7,2.3l1.7,2.7l1.7,4.4l1.7,2.6l1.7,3l1.7,4.6l1.7,2.8l1.8,3.2l1.7,4.8l1.7,2.9l1.7,3.4l1.7,5l1.7,3.1l1.7,3.6l1.7,5.1l1.7,3.3l1.7,3.6l1.8,5.3l1.7,3.4l1.7,3.8l1.7,5.5l1.7,3.5l1.7,3.9l1.7,5.6l1.7,3.7l1.7,4.1l1.7,5.7l1.8,3.9l1.7,4.3l1.7,5.9l1.7,4l1.7,4.4l1.7,6l1.7,4.1l1.7,4.5l1.7,6l1.7,4.1l1.8,4.4l1.7,6.1l1.7,4l1.7,4.4l1.7,6l1.7,4l1.7,4.3l1.7,6.1l1.7,3.8l1.7,4.2l1.8,6l1.7,3.7l1.7,4l1.7,5.8l1.7,3.3l1.7,3.6l1.7,5.4l1.7,2.8l1.7,3.2l1.7,5.1l1.8,2.3l1.7,2.7l1.7,4.7l1.7,1.9l1.7,2.2l1.7,4.3l1.7,1.4l1.7,1.7l1.7,3.9l1.7,.8l1.8,1.2l1.7,3.5l1.7,.3l1.7,.7l1.7,3l1.7-.3l1.7,.1l1.7,2.5l1.7-.8l1.7-.5l1.8,2l1.7-1.5l1.7-1.1l1.7,1.4l1.7-2.1l1.7-1.7l1.7,.9l1.7-2.8l1.7-2.2l1.7,.3l1.8-3.4l1.7-2.9l1.7-.2l1.7-3.9l1.7-3.4l1.7-.6l1.7-4.5l1.7-3.8l1.7-1.1l1.7-4.9l1.8-4.3l1.7-1.4l1.7-5.3l1.7-4.5l1.7-1.5l1.7-5.3l1.7-4.6l1.7-1.4l1.7-5.3l1.7-4.5l1.8-1.5l1.7-5.3l1.7-4.7l1.7-1.5l1.7-5.6l1.7-4.8l1.7-1.8l1.7-5.7l1.7-5.1l1.7-2.1l1.8-5.9l1.7-5.3l1.7-2.4l1.7-6.2l1.7-5.4l1.7-2.6l1.7-6.3l1.7-5.6l1.7-2.8l1.7-6.4l1.8-5.7l1.7-2.9l1.7-6.5l1.7-5.8l1.7-2.9l1.7-6.5l1.7-5.8l1.7-3l1.7-6.5l1.7-5.8l1.8-3l1.7-6.4l1.7-5.7l1.7-3l1.7-6.2l1.7-5.6l1.7-2.8l1.7-6.1l1.7-5.4l1.7-2.6l1.8-5.8l1.7-5l1.7-2.4l1.7-5.4l1.7-4.7l1.7-2l1.7-5l1.7-4.2l1.7-1.4l1.7-4.6l1.8-3.8l1.7-.8l1.7-4.3l1.7-3.4l1.7,0l1.7-4l1.7-3l1.7,.5l1.7-3.6l1.7-2.7l1.8,1.2l1.7-3.4l1.7-2.3l1.7,1.8l1.7-3.1l1.7-2l1.7,2.5l1.7-2.9l1.7-1.7l1.7,3.3l1.8-2.7l1.7-1.5l1.7,4.2l1.7-2.6l1.7-1.1l1.7,4.9"/>
<path d="M162.2,121.0l1.7-.7l1.7-.1l1.7-.8l1.7-.5l1.7,.1l1.8-.6l1.7-.3l1.7,.4l1.7-.3l1.7-.1l1.7,.7l1.7-.1l1.7,.3l1.7,1l1.7,.2l1.8,.6l1.7,1.3l1.7,.6l1.7,.9l1.7,1.6l1.7,1l1.7,1.2l1.7,2l1.7,1.3l1.7,1.7l1.8,2.4l1.7,1.6l1.7,2l1.7,2.8l1.7,2l1.7,2.3l1.7,3.1l1.7,2.3l1.7,2.6l1.7,3.3l1.8,2.6l1.7,2.9l1.7,3.6l1.7,2.9l1.7,3.1l1.7,3.9l1.7,3l1.7,3.3l1.7,4.1l1.7,3.3l1.8,3.5l1.7,4.4l1.7,3.5l1.7,3.7l1.7,4.5l1.7,3.6l1.7,3.9l1.7,4.6l1.7,3.8l1.7,3.9l1.8,4.7l1.7,3.7l1.7,4l1.7,4.7l1.7,3.8l1.7,4l1.7,4.8l1.7,3.9l1.7,4.2l1.7,5l1.8,4l1.7,4.4l1.7,5.2l1.7,4.3l1.7,4.5l1.7,5.3l1.7,4.2l1.7,4.4l1.7,5.1l1.7,4l1.8,4l1.7,4.9l1.7,3.5l1.7,3.6l1.7,4.4l1.7,3l1.7,3.1l1.7,3.8l1.7,2.4l1.7,2.5l1.8,3.2l1.7,1.8l1.7,2l1.7,2.7l1.7,1.3l1.7,1.5l1.7,2.3l1.7,.9l1.7,1l1.7,2l1.8,.5l1.7,.8l1.7,1.6l1.7,.2l1.7,.4l1.7,1.4l1.7-.2l1.7,.1l1.7,1l1.7-.5l1.8-.2l1.7,.6l1.7-.8l1.7-.7l1.7,.2l1.7-1.1l1.7-1.1l1.7-.2l1.7-1.6l1.7-1.4l1.8-.7l1.7-2l1.7-1.9l1.7-1.1l1.7-2.5l1.7-2.4l1.7-1.6l1.7-2.9l1.7-2.9l1.7-2l1.8-3.5l1.7-3.3l1.7-2.6l1.7-3.9l1.7-3.8l1.7-3.1l1.7-4.4l1.7-4.4l1.7-3.6l1.7-4.9l1.8-4.8l1.7-4.1l1.7-5.2l1.7-5.1l1.7-4.2l1.7-5.4l1.7-5.1l1.7-4.2l1.7-5.3l1.7-4.9l1.8-4.1l1.7-5.1l1.7-4.9l1.7-4l1.7-5l1.7-4.7l1.7-3.9l1.7-5l1.7-4.6l1.7-3.9l1.8-4.8l1.7-4.5l1.7-3.7l1.7-4.7l1.7-4.4l1.7-3.6l1.7-4.5l1.7-4.3l1.7-3.4l1.7-4.4l1.8-4.1l1.7-3.4l1.7-4.2l1.7-4l1.7-3.3l1.7-4.1l1.7-3.9l1.7-3.1l1.7-4.1l1.7-3.8l1.8-3l1.7-3.9l1.7-3.7l1.7-2.9l1.7-3.9l1.7-3.6l1.7-2.7l1.7-3.6l1.7-3.4l1.7-2.4l1.8-3.2l1.7-2.9l1.7-2l1.7-2.7l1.7-2.3l1.7-1.3l1.7-2l1.7-1.6l1.7-.6l1.7-1.3l1.8-.9l1.7,.1l1.7-.6l1.7-.3l1.7,.7l1.7,0l1.7,.4l1.7,1.3l1.7,.5l1.7,.9l1.8,1.9l1.7,1l1.7,1.4l1.7,2.3l1.7,1.5l1.7,1.8l1.7,2.7l1.7,1.9l1.7,2.2l1.7,3.1l1.8,2.2l1.7,2.6l1.7,3.4l1.7,2.6l1.7,2.8l1.7,3.7l1.7,2.9l1.7,3.1l1.7,3.9l1.7,3.1l1.7,3.4l1.8,4.1l1.7,3.3l1.7,3.5l1.7,4.3l1.7,3.4l1.7,3.7l1.7,4.4l1.7,3.6l1.7,3.8l1.7,4.6l1.8,3.7l1.7,3.9l1.7,4.7l1.7,3.8l1.7,4l1.7,4.9l1.7,3.9l1.7,4.2l1.7,5l1.7,4.1l1.8,4.3l1.7,5.1l1.7,4.2l1.7,4.5l1.7,5.2l1.7,4.4l1.7,4.5l1.7,5.3l1.7,4.4l1.7,4.6l1.8,5.4l1.7,4.4l1.7,4.6l1.7,5.4l1.7,4.4l1.7,4.6l1.7,5.4l1.7,4.3l1.7,4.6l1.7,5.4l1.8,4.2l1.7,4.4l1.7,5.2l1.7,3.9l1.7,4.1l1.7,4.8l1.7,3.5l1.7,3.6l1.7,4.4l1.7,3l1.8,3.1l1.7,4l1.7,2.5l1.7,2.6l1.7,3.5l1.7,2l1.7,2.1l1.7,3l1.7,1.5l1.7,1.6l1.8,2.5l1.7,1l1.7,1.1l1.7,2l1.7,.5l1.7,.5l1.7,1.6l1.7-.1l1.7,0l1.7,1.1l1.8-.6l1.7-.5l1.7,.6l1.7-1.2l1.7-1.1l1.7,.1l1.7-1.7l1.7-1.6l1.7-.4l1.7-2.3l1.8-2.2l1.7-.9l1.7-2.9l1.7-2.6l1.7-1.5l1.7-3.3l1.7-3.2l1.7-1.9l1.7-3.9l1.7-3.7l1.8-2.3l1.7-4.3l1.7-4.1l1.7-2.6l1.7-4.5l1.7-4.2l1.7-2.6l1.7-4.5l1.7-4.2l1.7-2.7l1.8-4.6l1.7-4.2l1.7-2.8l1.7-4.7l1.7-4.4l1.7-3l1.7-4.9l1.7-4.6l1.7-3.3l1.7-5.1l1.8-4.9l1.7-3.5l1.7-5.3l1.7-5.1l1.7-3.7l1.7-5.5l1.7-5.1l1.7-3.9l1.7-5.6l1.7-5.3l1.8-3.9l1.7-5.7l1.7-5.4l1.7-4l1.7-5.7l1.7-5.4l1.7-4l1.7-5.8l1.7-5.3l1.7-4.1l1.8-5.6l1.7-5.4l1.7-4l1.7-5.5l1.7-5.3l1.7-3.9l1.7-5.4l1.7-5l1.7-3.7l1.7-5.2l1.8-4.8l1.7-3.4l1.7-4.9l1.7-4.4l1.7-3.1l1.7-4.4l1.7-4l1.7-2.6l1.7-4l1.7-3.6l1.8-2l1.7-3.6l1.7-3.1l1.7-1.4l1.7-3.2l1.7-2.7l1.7-1l1.7-2.8l1.7-2.3l1.7-.4l1.8-2.5l1.7-2l1.7,.1l1.7-2.1l1.7-1.6l1.7,.6l1.7-1.8l1.7-1.2l1.7,1.3l1.7-1.6l1.8-.8l1.7,1.8l1.7-1.2l1.7-.4l1.7,2.4l1.7-.9"/>
<path d="M162.2,121.3l1.7-1l1.7-.7l1.7,.1l1.7-.9l1.7-.5l1.8,.3l1.7-.6l1.7-.4l1.7,.6l1.7-.4l1.7-.1l1.7,.9l1.7-.1l1.7,.2l1.7,1.1l1.8,.2l1.7,.5l1.7,1.5l1.7,.6l1.7,.8l1.7,1.9l1.7,.9l1.7,1.2l1.7,2.2l1.7,1.3l1.8,1.7l1.7,2.6l1.7,1.7l1.7,2l1.7,3l1.7,2l1.7,2.3l1.7,3.3l1.7,2.3l1.7,2.6l1.8,3.7l1.7,2.5l1.7,2.9l1.7,3.9l1.7,2.8l1.7,3l1.7,4.1l1.7,3l1.7,3.2l1.7,4.3l1.8,3.1l1.7,3.4l1.7,4.4l1.7,3.2l1.7,3.5l1.7,4.5l1.7,3.3l1.7,3.5l1.7,4.6l1.7,3.3l1.8,3.5l1.7,4.6l1.7,3.3l1.7,3.6l1.7,4.6l1.7,3.4l1.7,3.7l1.7,4.8l1.7,3.5l1.7,3.9l1.8,5l1.7,3.8l1.7,4.1l1.7,5.3l1.7,3.9l1.7,4.2l1.7,5.3l1.7,3.8l1.7,4.1l1.7,5.1l1.8,3.5l1.7,3.6l1.7,4.7l1.7,3.1l1.7,3.2l1.7,4.2l1.7,2.4l1.7,2.6l1.7,3.5l1.7,1.9l1.8,1.9l1.7,3.1l1.7,1.3l1.7,1.4l1.7,2.7l1.7,.8l1.7,1.1l1.7,2.4l1.7,.5l1.7,.9l1.8,2.1l1.7,.4l1.7,.6l1.7,1.9l1.7,.2l1.7,.4l1.7,1.6l1.7-.1l1.7,.1l1.7,1.3l1.8-.4l1.7-.3l1.7,1l1.7-.8l1.7-.6l1.7,.5l1.7-1.2l1.7-1l1.7,.1l1.7-1.6l1.8-1.5l1.7-.3l1.7-2.1l1.7-1.9l1.7-.9l1.7-2.5l1.7-2.4l1.7-1.3l1.7-3.1l1.7-2.9l1.8-1.8l1.7-3.6l1.7-3.4l1.7-2.5l1.7-4.1l1.7-3.9l1.7-3l1.7-4.7l1.7-4.6l1.7-3.6l1.8-5.1l1.7-5.1l1.7-3.9l1.7-5.5l1.7-5.2l1.7-4l1.7-5.5l1.7-5.1l1.7-4l1.7-5.2l1.8-5l1.7-3.7l1.7-5.1l1.7-4.7l1.7-3.6l1.7-4.9l1.7-4.6l1.7-3.5l1.7-4.7l1.7-4.5l1.8-3.3l1.7-4.7l1.7-4.3l1.7-3.3l1.7-4.6l1.7-4.2l1.7-3.2l1.7-4.5l1.7-4.1l1.7-3.2l1.8-4.3l1.7-4.1l1.7-3.1l1.7-4.2l1.7-4l1.7-3l1.7-4.1l1.7-3.9l1.7-2.9l1.7-4.1l1.8-3.8l1.7-2.8l1.7-4l1.7-3.7l1.7-2.6l1.7-3.9l1.7-3.6l1.7-2.5l1.7-3.6l1.7-3.2l1.8-2.1l1.7-3.1l1.7-2.8l1.7-1.5l1.7-2.5l1.7-2l1.7-.8l1.7-1.8l1.7-1.3l1.7-.1l1.8-1.1l1.7-.6l1.7,.5l1.7-.5l1.7,0l1.7,1.1l1.7,.1l1.7,.6l1.7,1.6l1.7,.6l1.8,1.1l1.7,2.1l1.7,1.1l1.7,1.5l1.7,2.6l1.7,1.5l1.7,1.8l1.7,3l1.7,1.9l1.7,2.3l1.8,3.3l1.7,2.2l1.7,2.6l1.7,3.7l1.7,2.5l1.7,2.9l1.7,3.9l1.7,2.8l1.7,3.1l1.7,4.1l1.7,3l1.8,3.3l1.7,4.4l1.7,3.1l1.7,3.5l1.7,4.5l1.7,3.3l1.7,3.6l1.7,4.6l1.7,3.5l1.7,3.7l1.8,4.8l1.7,3.6l1.7,3.9l1.7,4.9l1.7,3.8l1.7,4l1.7,5l1.7,3.9l1.7,4.1l1.7,5.2l1.8,4l1.7,4.3l1.7,5.3l1.7,4.1l1.7,4.4l1.7,5.4l1.7,4.2l1.7,4.5l1.7,5.5l1.7,4.2l1.8,4.5l1.7,5.6l1.7,4.2l1.7,4.6l1.7,5.5l1.7,4.3l1.7,4.5l1.7,5.5l1.7,4.2l1.7,4.4l1.8,5.5l1.7,4.1l1.7,4.1l1.7,5.3l1.7,3.7l1.7,3.7l1.7,4.9l1.7,3.2l1.7,3.3l1.7,4.4l1.8,2.7l1.7,2.8l1.7,4l1.7,2.1l1.7,2.3l1.7,3.6l1.7,1.6l1.7,1.8l1.7,3.1l1.7,1.1l1.8,1.3l1.7,2.6l1.7,.5l1.7,.8l1.7,2.1l1.7,0l1.7,.3l1.7,1.6l1.7-.5l1.7-.3l1.8,1.1l1.7-1.1l1.7-.8l1.7,.6l1.7-1.6l1.7-1.4l1.7,.1l1.7-2.2l1.7-2l1.7-.4l1.8-2.8l1.7-2.5l1.7-.9l1.7-3.2l1.7-3.1l1.7-1.3l1.7-3.8l1.7-3.5l1.7-1.8l1.7-4.3l1.8-3.9l1.7-2.2l1.7-4.6l1.7-4.2l1.7-2.3l1.7-4.6l1.7-4.2l1.7-2.2l1.7-4.6l1.7-4.1l1.8-2.2l1.7-4.7l1.7-4.2l1.7-2.3l1.7-4.9l1.7-4.4l1.7-2.5l1.7-5.1l1.7-4.7l1.7-2.8l1.8-5.3l1.7-5l1.7-3.1l1.7-5.5l1.7-5.1l1.7-3.4l1.7-5.6l1.7-5.3l1.7-3.5l1.7-5.8l1.8-5.4l1.7-3.6l1.7-5.9l1.7-5.5l1.7-3.7l1.7-5.9l1.7-5.5l1.7-3.7l1.7-5.9l1.7-5.5l1.8-3.7l1.7-5.9l1.7-5.4l1.7-3.7l1.7-5.7l1.7-5.3l1.7-3.5l1.7-5.6l1.7-5l1.7-3.4l1.8-5.2l1.7-4.8l1.7-3l1.7-4.9l1.7-4.3l1.7-2.6l1.7-4.5l1.7-3.9l1.7-2l1.7-4l1.8-3.5l1.7-1.5l1.7-3.6l1.7-3l1.7-.9l1.7-3.3l1.7-2.7l1.7-.3l1.7-3l1.7-2.3l1.8,.2l1.7-2.7l1.7-1.9l1.7,.7l1.7-2.4l1.7-1.6l1.7,1.3l1.7-2.1l1.7-1.2l1.7,1.9l1.8-1.8l1.7-.9l1.7,2.6l1.7-1.5l1.7-.6l1.7,3.3"/>
</g>
<clipPath id="clip-b"><rect x="905.4" y="0.2" width="754.7" height="463.8"/></clipPath>
<g class="cv" clip-path="url(#clip-b)">
<path d="M938.6,425.9l5-.7l5,6.8l5,0l5,6.4l5-1.3l5,4l5-4.6l5,.6l5-7.2l5-.4l5-6.8l5,.6l5.1-5.9l5,1.2l5-5.8l5,1l5-6.3l5,.1l5-7.7l5-1.5l5-9.3l5-3.2l5-10.8l5-4.7l5-12.3l5-6.2l5-13.6l5-5.8l5-9.9l5-1.2l5-9.6l5-4.6l5-12.9l5-7l5-14.1l5-7.3l5.1-14l5-6.7l5-13.1l5-5.5l5-12.1l5-5.1l5-12.2l5-5.8l5-13.4l5-7.5l5-15.1l5-8l5-14.3l5-6.4l5-12.6l5-4.8l5-11l5-3.3l5-9.5l5-1.8l5-8.1l5-.5l5-6.7l5,.6l5.1-5.9l5,.9l5-6.2l5,.1l5-7.5l5-1.1l5-8l5-.8l5-6.3l5,.5l5-2.2l5,2.4l5,2.8l5,5.5l5,6l5,7.8l5,7.4l5,8.3l5,6.8l5,6.5l5,4.5l5,3.7l5,1.4l5,1.1l5.1,.6l5,2.9l5,5.1l5,8.3l5,8.9l5,9.9l5,9.4l5,10.2l5,9.6l5,10.2l5,9.5l5,10.1l5,9.2l5,9.5l5,8.5l5,8.7l5,7.4l5,7.4l5,6.2l5,6.4l5,6l5,7.4l5,7.6l5,8.9l5.1,8.8l5,9.8l5,9.4l5,9.9l5,9.1l5,9.2l5,8l5,7.7l5,6.2l5,5.7l5,4.1l5,4.5l5,1.7l5,4l5-.2l5,3.3l5-1.2l5,2.7l5-1.7l5,2.3l5-2.2l5,2.1l5-2.4l5,2.1l5.1-2.6l5,2.3l5-2.5l5,2.6l5-2.3"/>
<path d="M938.6,424.4l5,.5l5,5.6l5,1.1l5,5.1l5-.4l5,2.5l5-3.9l5-.8l5-6.1l5-1.7l5-5.6l5-.4l5.1-4.5l5,.1l5-4.3l5,0l5-4.9l5-1.2l5-6.4l5-2.9l5-8.2l5-4.7l5-9.9l5-6.2l5-11.4l5-7.4l5-12.4l5-7l5-8.7l5-2.6l5-8.2l5-5.6l5-11.5l5-7.9l5-12.8l5-8.4l5.1-12.8l5-8l5-11.9l5-7l5-11.1l5-6.6l5-11.2l5-7l5-12.2l5-8.5l5-13.5l5-8.9l5-12.6l5-7.4l5-11l5-5.9l5-9.6l5-4.5l5-8.3l5-3.1l5-6.9l5-1.8l5-5.7l5-.7l5.1-4.8l5-.4l5-5l5-.9l5-6.2l5-2.1l5-6.6l5-1.7l5-5.2l5-.3l5-1.7l5,1.9l5,2.8l5,5.2l5,6.2l5,7.6l5,7.5l5,7.9l5,6.8l5,6.3l5,4.6l5,3.7l5,1.8l5,1.3l5.1,1l5,3l5,5.2l5,8.1l5,8.8l5,9.7l5,9.4l5,10l5,9.6l5,10.1l5,9.6l5,9.9l5,9.3l5,9.4l5,8.7l5,8.6l5,7.8l5,7.5l5,6.3l5,6.4l5,6.1l5,7.2l5,7.6l5,8.7l5.1,8.9l5,9.6l5,9.4l5,9.8l5,9.1l5,9l5,8l5,7.4l5,6.1l5,5.5l5,4.3l5,4.1l5,2.1l5,3.3l5,.4l5,2.4l5-.6l5,1.7l5-1.3l5,1.4l5-1.5l5,1.4l5-1.6l5,1.3l5.1-1.6l5,1.5l5-1.6l5,1.7l5-1.3"/>
<path d="M938.6,423.0l5,0l5,6.5l5,.7l5,6l5-1l5,3.3l5-4.4l5-.1l5-6.8l5-1.2l5-6.4l5-.2l5.1-5.6l5,.5l5-5.4l5,.3l5-5.8l5-.6l5-7l5-2.1l5-8.7l5-4l5-10.5l5-5.5l5-11.9l5-6.7l5-13l5-6.4l5-9.7l5-2.5l5-9.4l5-5.3l5-12.4l5-7.1l5-13.3l5-7.3l5.1-13l5-6.7l5-12.1l5-5.7l5-11.3l5-5.4l5-11.6l5-6.2l5-12.7l5-8l5-14.4l5-8.6l5-13.7l5-7l5-12.1l5-5.4l5-10.4l5-3.9l5-8.9l5-2.5l5-7.5l5-1.1l5-6.2l5,0l5.1-5.4l5,.4l5-5.6l5-.1l5-6.6l5-1.2l5-7l5-.9l5-5.6l5,.2l5-2l5,2l5,2.7l5,5.2l5,6.2l5,7.7l5,7.4l5,7.9l5,6.5l5,6.1l5,4.2l5,3.7l5,1.7l5,1.5l5.1,1.1l5,3.2l5,5.1l5,7.9l5,8.5l5,9.6l5,9.4l5,10.2l5,9.8l5,10.3l5,9.8l5,10.1l5,9.4l5,9.6l5,8.7l5,8.7l5,7.7l5,7.5l5,6.3l5,6.4l5,6l5,7l5,7.4l5,8.6l5.1,8.8l5,9.6l5,9.4l5,9.8l5,9.1l5,8.8l5,7.7l5,7.2l5,5.8l5,5.2l5,3.8l5,4.1l5,1.6l5,3.4l5-.1l5,2.8l5-.9l5,2.4l5-1.2l5,2.3l5-1.6l5,2.1l5-1.9l5,1.9l5.1-2.3l5,1.7l5-2.4l5,1.8l5-2.5"/>
<path d="M938.6,421.7l5-.7l5,7.5l5,0l5,6.9l5-1.8l5,4.1l5-5.4l5,.4l5-7.9l5-.5l5-7.7l5,.4l5.1-6.8l5,1l5-6.4l5,1l5-6.6l5,.6l5-7.5l5-.7l5-9.1l5-2.6l5-10.9l5-4.1l5-12.3l5-5.5l5-13.6l5-5.6l5-10.7l5-2l5-10.9l5-5.3l5-14.1l5-7.3l5-14.9l5-7.1l5.1-14.2l5-6.2l5-12.8l5-4.8l5-11.8l5-4.3l5-11.9l5-4.7l5-12.9l5-6.2l5-14.5l5-7.2l5-14l5-6l5-12.8l5-4.6l5-11.4l5-3.2l5-10l5-1.7l5-8.6l5-.4l5-7.2l5,.8l5.1-6.4l5,1.3l5-6.3l5,.8l5-7.2l5-.2l5-7.7l5,.1l5-6.4l5,.8l5-2.5l5,2l5,2.2l5,5.3l5,5.9l5,7.8l5,7.2l5,7.6l5,6.2l5,6l5,4.2l5,4.1l5,2l5,2.1l5.1,1.4l5,3.5l5,5l5,8.1l5,8.5l5,9.9l5,9.3l5,10.3l5,9.6l5,10.3l5,9.5l5,9.9l5,9.1l5,9.3l5,8.3l5,8.7l5,7.6l5,7.7l5,6.4l5,6.5l5,5.9l5,7l5,7.3l5,8.8l5.1,8.9l5,10l5,9.6l5,10l5,9.2l5,9l5,7.7l5,7.2l5,5.6l5,5l5,3.3l5,3.7l5,.7l5,3.1l5-1.4l5,2.5l5-1.9l5,2.5l5-1.9l5,3l5-1.7l5,3.1l5-2l5,2.9l5.1-2.4l5,2.6l5-2.6l5,2.6l5-2.7"/>
<path d="M938.6,417.9l5,4.8l5,2.1l5,5.4l5,1.3l5,3.1l5-1.9l5-.6l5-5.3l5-2.6l5-5.7l5-1.7l5-4.1l5.1-.3l5-3.3l5,0l5-3.5l5-.9l5-5.1l5-2.7l5-7.1l5-4.9l5-9.3l5-6.9l5-10.6l5-7.6l5-11.1l5-7.9l5-10.5l5-4.9l5-6.9l5-4.8l5-9.9l5-8.2l5-12.3l5-9.5l5-12.6l5.1-9l5-11.6l5-7.4l5-9.9l5-6.2l5-9.4l5-6.2l5-10l5-7.5l5-12l5-9.7l5-13.2l5-9.3l5-11.8l5-7.7l5-10l5-5.7l5-8.1l5-4l5-6.4l5-2.6l5-5.2l5-1.4l5-4.4l5.1-1l5-4.4l5-1.5l5-5.2l5-2.4l5-6l5-2.5l5-5.3l5-1.3l5-2.9l5,.3l5,.7l5,3.4l5,4.8l5,6.9l5,7.4l5,7.8l5,7.1l5,6.7l5,5.3l5,4.7l5,3.4l5,2.6l5,1.5l5.1,2l5,3l5,5.6l5,7.4l5,8.9l5,9l5,9.7l5,9.5l5,9.9l5,9.7l5,9.9l5,9.6l5,9.7l5,9.1l5,9.2l5,8.6l5,8.4l5,7.5l5,6.9l5,6.1l5,6.3l5,6.5l5,7.5l5,8.1l5.1,8.9l5,9.3l5,9.8l5,9.5l5,9.5l5,8.5l5,7.9l5,6.7l5,5.9l5,4.6l5,4l5,2.3l5,2.4l5,.3l5,1.3l5-.8l5,1.1l5-.7l5,1.7l5-.1l5,2.1l5-.1l5,1.9l5-.8l5.1,1.1l5-1.4l5,.7l5-1.6l5,.6"/>
<path d="M938.6,414.6l5,6.9l5-.7l5,8l5-1.3l5,6l5-4.3l5,2.6l5-7.2l5,.7l5-7.9l5,1.2l5-6.9l5.1,1.9l5-6.5l5,2l5-6.8l5,1.4l5-7.8l5,.1l5-9.3l5-1.8l5-11.4l5-3.6l5-13l5-4.7l5-13.8l5-5.7l5-13.6l5-2.8l5-10.4l5-2.8l5-13l5-5.5l5-14.7l5-6.3l5-14.9l5.1-6l5-14.2l5-5l5-13l5-4.2l5-12.9l5-4.3l5-13.2l5-5l5-14.2l5-6.1l5-14.6l5-5.3l5-13.3l5-4l5-12.1l5-2.8l5-10.8l5-1.6l5-9.6l5-.4l5-8.4l5,.7l5-7.5l5.1,1.4l5-7.2l5,1.2l5-7.6l5,.5l5-8.3l5,.3l5-7.9l5,1.2l5-5l5,1.4l5-.4l5,3.4l5,4.5l5,7.2l5,7.1l5,8.3l5,6.8l5,7.1l5,5.2l5,5.3l5,3.2l5,3.1l5,1.3l5.1,2.4l5,2.6l5,5.9l5,7l5,9.2l5,8.8l5,10l5,9.3l5,10.3l5,9.5l5,10.2l5,9.3l5,9.7l5,8.7l5,9.1l5,8l5,8.5l5,7.3l5,7.2l5,5.8l5,6.5l5,6.2l5,7.8l5,8l5.1,9.5l5,9.3l5,10.2l5,9.5l5,9.7l5,8.3l5,8l5,6.4l5,5.9l5,4.3l5,4.2l5,1.8l5,3.5l5-.8l5,3.2l5-2.1l5,2.7l5-2.3l5,3l5-2.2l5,3.3l5-2.4l5,3.2l5-2.9l5.1,2.7l5-3.5l5,2.5l5-3.8l5,2.3"/>
<path d="M938.6,419.6l5-.3l5,6.4l5,.5l5,5.8l5-1.7l5,2.6l5-5.3l5-.6l5-7.3l5-1.2l5-6.8l5,0l5.1-5.8l5,.6l5-5.3l5,.6l5-5.6l5,.1l5-6.7l5-1.5l5-8.6l5-3.7l5-10.8l5-5.3l5-11.9l5-6.4l5-13l5-6.3l5-10.4l5-3.2l5-10.4l5-5.7l5-12.9l5-7.3l5-13.5l5-7.3l5.1-13.1l5-6.6l5-12.1l5-5.6l5-11.5l5-5.4l5-11.8l5-6.1l5-12.6l5-7.3l5-13.8l5-7.5l5-13l5-6.1l5-11.4l5-4.7l5-10l5-3.3l5-8.8l5-2l5-7.6l5-.9l5-6.4l5,0l5.1-5.9l5,.3l5-6l5-.2l5-6.8l5-.9l5-7l5-.5l5-5.6l5,.3l5-2.3l5,1.6l5,2.4l5,5.3l5,6.5l5,8l5,7.4l5,7.7l5,6.3l5,6.1l5,4.4l5,4l5,2.2l5,2l5.1,1.6l5,3.4l5,5l5,7.6l5,8.1l5,9.3l5,9l5,10l5,9.6l5,10.3l5,9.7l5,10l5,9.3l5,9.5l5,8.6l5,9l5,8l5,8l5,6.7l5,6.5l5,5.9l5,6.9l5,7.3l5,8.6l5.1,8.8l5,9.8l5,9.5l5,9.9l5,9l5,8.7l5,7.3l5,6.7l5,5.2l5,4.6l5,3.1l5,3.2l5,.6l5,2.4l5-1.3l5,1.9l5-1.8l5,2l5-1.5l5,2.6l5-1.2l5,2.8l5-1.3l5,2.5l5.1-1.9l5,2l5-2.3l5,2.1l5-2.5"/>
<path d="M938.6,415.9l5,6l5,.8l5,6.7l5,0l5,4.6l5-3.3l5,.8l5-6.6l5-1.4l5-7.4l5-1l5-6.5l5.1-.1l5-5.8l5,.3l5-5.7l5,0l5-6.2l5-.8l5-7.6l5-2.7l5-9.8l5-4.8l5-11.3l5-5.8l5-12.2l5-6.6l5-12.1l5-4.2l5-9.1l5-4.2l5-11.4l5-6.6l5-13.1l5-7.2l5-13.2l5.1-7l5-12.5l5-6.1l5-11.7l5-5.5l5-11.6l5-6l5-12.3l5-6.9l5-13.5l5-8l5-13.8l5-7.1l5-12.2l5-5.5l5-10.7l5-4l5-9.3l5-2.6l5-8l5-1.4l5-6.8l5-.3l5-5.9l5.1,.3l5-5.5l5,.3l5-6l5-.5l5-6.8l5-.9l5-6.4l5-.1l5-4.1l5,.7l5-.2l5,3.1l5,4.5l5,7l5,7.2l5,8l5,6.7l5,6.7l5,5.1l5,4.9l5,3.3l5,3l5,1.7l5.1,2.5l5,3l5,5.6l5,6.9l5,8.6l5,8.8l5,9.8l5,9.6l5,10.4l5,9.9l5,10.4l5,9.6l5,9.9l5,9l5,9.2l5,8.3l5,8.5l5,7.3l5,7.1l5,5.9l5,6.3l5,6.1l5,7.5l5,8l5.1,9.1l5,9.2l5,10l5,9.4l5,9.5l5,8.2l5,7.6l5,6.2l5,5.6l5,4.3l5,4l5,2.2l5,3.1l5-.1l5,2.5l5-1.2l5,2.1l5-1.4l5,2.4l5-1.3l5,2.5l5-1.4l5,2.3l5-1.9l5.1,1.8l5-2.6l5,1.5l5-3l5,1.1"/>
<path d="M938.6,415.7l5,.1l5,6.9l5,1.1l5,6.2l5-1.2l5,2.9l5-4.7l5-.2l5-6.6l5-.9l5-6.2l5,0l5.1-5.5l5,.4l5-5.4l5,.2l5-5.9l5-.7l5-7.1l5-2.3l5-9.1l5-4.6l5-11.4l5-6.2l5-12.4l5-6.9l5-12.9l5-6.7l5-10.7l5-4l5-10.5l5-5.7l5-12.2l5-6.7l5-12.6l5-6.6l5.1-12.1l5-6l5-11.3l5-5.2l5-10.9l5-5.2l5-11.4l5-6.1l5-12.5l5-7.4l5-13.9l5-7.9l5-13.1l5-6.5l5-11.6l5-5l5-10.1l5-3.6l5-8.7l5-2.3l5-7.5l5-1.1l5-6.4l5-.2l5.1-5.8l5,.1l5-5.8l5-.2l5-6.4l5-.8l5-6.6l5-.3l5-5.3l5,.3l5-2.3l5,1.6l5,2.3l5,5.4l5,6.5l5,8.1l5,7.4l5,7.6l5,6.2l5,6l5,4.3l5,4l5,2.4l5,2.2l5.1,1.7l5,3.5l5,5l5,7.4l5,8l5,9.2l5,9l5,10l5,9.6l5,10.3l5,9.6l5,10.1l5,9.2l5,9.5l5,8.6l5,9l5,8.1l5,8.1l5,6.8l5,6.5l5,5.9l5,6.7l5,7.2l5,8.5l5.1,8.9l5,9.8l5,9.6l5,10l5,9l5,8.7l5,7.3l5,6.6l5,5.2l5,4.6l5,3.1l5,3.2l5,.7l5,2.3l5-1.3l5,1.7l5-1.8l5,1.7l5-1.5l5,2.4l5-1.2l5,2.5l5-1.3l5,2.3l5.1-2.1l5,1.7l5-2.5l5,1.3l5-3.1"/>
<path d="M938.6,415.7l5,1.1l5,6.1l5,1.9l5,5.3l5-.5l5,1.9l5-4.2l5-1.6l5-6.4l5-2.3l5-6.1l5-1.4l5.1-5.2l5-.9l5-4.9l5-.7l5-5l5-1.1l5-5.7l5-2.4l5-7.6l5-4.7l5-9.8l5-6.2l5-10.8l5-7.1l5-11.6l5-7.2l5-9.5l5-4.6l5-9.7l5-6.9l5-12.1l5-8.4l5-12.6l5-8.3l5.1-12.1l5-7.5l5-11l5-6.5l5-10.4l5-6.4l5-10.8l5-6.9l5-11.5l5-8l5-12.6l5-8.3l5-11.8l5-7l5-10.3l5-5.5l5-9.1l5-4.1l5-7.8l5-2.9l5-6.5l5-1.8l5-5.5l5-.9l5.1-4.9l5-.6l5-4.8l5-1l5-5.6l5-1.7l5-5.8l5-1.3l5-4.6l5-.4l5-2l5,1.1l5,2.2l5,5.2l5,6.5l5,7.9l5,7.4l5,7.2l5,6.1l5,5.8l5,4.4l5,4.1l5,2.7l5,2.5l5.1,2.1l5,3.6l5,5.1l5,7.4l5,8.1l5,9.3l5,9.2l5,9.9l5,9.8l5,10.1l5,9.8l5,9.9l5,9.2l5,9.3l5,8.6l5,8.8l5,8.2l5,8l5,6.9l5,6.4l5,5.9l5,6.5l5,7.2l5,8.5l5.1,8.9l5,9.7l5,9.8l5,9.9l5,9.1l5,8.6l5,7.2l5,6.5l5,5.1l5,4.4l5,3.1l5,2.9l5,.9l5,1.8l5-.7l5,1.3l5-1.1l5,1.5l5-.7l5,2.2l5-.4l5,2.2l5-.7l5,1.8l5.1-1.4l5,1l5-2.1l5,.5l5-2.9"/>
<path d="M938.6,413.9l5,5.8l5,.1l5,6.7l5-.6l5,4.2l5-4.2l5,.5l5-7.3l5-1.3l5-7.5l5-.4l5-6.2l5.1,.7l5-5.4l5,1.3l5-5.3l5,1.1l5-5.9l5-.1l5-7.5l5-2.3l5-10.1l5-4.7l5-12l5-6l5-13.1l5-6.9l5-13.1l5-4.9l5-10.7l5-5l5-12.7l5-6.7l5-13.6l5-6.9l5-13.1l5.1-6.3l5-12.3l5-5.2l5-11.4l5-4.8l5-11.5l5-5.3l5-12.3l5-6.2l5-13.4l5-7.3l5-13.7l5-6.5l5-12.3l5-5l5-10.8l5-3.6l5-9.5l5-2.3l5-8.2l5-1.1l5-7.1l5-.1l5-6.3l5.1,.4l5-6l5,.3l5-6.4l5-.3l5-7.1l5-.5l5-6.6l5,.3l5-4.3l5,.7l5-.4l5,3.1l5,4.5l5,7.4l5,7.4l5,8.1l5,6.7l5,6.8l5,5.3l5,5.2l5,3.5l5,3.3l5,1.8l5.1,2.6l5,3l5,5.6l5,6.7l5,8.6l5,8.5l5,9.6l5,9.3l5,10.1l5,9.6l5,10.3l5,9.4l5,9.8l5,8.9l5,9.2l5,8.5l5,8.8l5,7.7l5,7.4l5,6.1l5,6.3l5,6.2l5,7.6l5,8.1l5.1,9.3l5,9.3l5,10l5,9.5l5,9.4l5,8.1l5,7.5l5,5.9l5,5.3l5,3.9l5,3.5l5,1.6l5,2.6l5-.8l5,2.2l5-1.8l5,2l5-1.6l5,2.7l5-1l5,3.2l5-1.1l5,3l5-1.7l5.1,2.3l5-2.7l5,1.8l5-3.4l5,1"/>
<path d="M938.6,416.6l5-.6l5,7.5l5,.1l5,6.6l5-2.4l5,3l5-6.2l5-.4l5-8.3l5-1l5-7.8l5,0l5.1-6.9l5,.6l5-6.5l5,.9l5-6.5l5,.7l5-7.2l5-.6l5-9.2l5-3l5-11.4l5-4.6l5-12.1l5-5.2l5-12.9l5-5.3l5-11l5-2.7l5-11.1l5-5.1l5-13.5l5-6.7l5-14.3l5-6.8l5.1-14l5-6.3l5-13.1l5-5.3l5-12.6l5-5.4l5-13l5-6l5-13.5l5-6.6l5-14l5-6.3l5-12.9l5-4.8l5-11.3l5-3.3l5-10l5-2.1l5-8.9l5-1l5-7.9l5,0l5-7l5,.6l5.1-6.5l5,.8l5-6.6l5,.3l5-7.4l5-.2l5-7.5l5,.3l5-6l5,.7l5-2.9l5,1.6l5,2l5,5.4l5,6.5l5,8.3l5,7.2l5,7.5l5,5.9l5,5.9l5,4.4l5,4.3l5,2.6l5,2.7l5.1,2l5,3.8l5,4.9l5,7.4l5,7.7l5,9.2l5,9l5,10l5,9.6l5,10.4l5,9.6l5,10.2l5,9.2l5,9.5l5,8.6l5,9.1l5,8.2l5,8.2l5,6.8l5,6.6l5,5.7l5,6.7l5,6.9l5,8.5l5.1,8.7l5,9.8l5,9.6l5,9.9l5,9l5,8.5l5,7l5,6.4l5,4.8l5,4.3l5,2.8l5,3.2l5,.2l5,2.6l5-1.7l5,2.2l5-2.1l5,2.6l5-1.6l5,3.3l5-1.3l5,3.4l5-1.6l5,3l5.1-2.5l5,2.2l5-3.3l5,1.6l5-4.2"/>
<path d="M938.6,413.1l5,.5l5,6.5l5,1.7l5,5.8l5-.9l5,2.3l5-4.6l5-.8l5-6.5l5-1.5l5-6.3l5-.9l5.1-5.7l5-.6l5-5.7l5-.8l5-5.9l5-1.2l5-6.6l5-2.4l5-8.4l5-4.7l5-10.5l5-5.9l5-11l5-6.2l5-11.4l5-6.2l5-9.7l5-3.8l5-9.8l5-6.1l5-12.2l5-7.8l5-13.1l5-8.1l5.1-12.9l5-7.4l5-11.9l5-6.4l5-11.4l5-6.4l5-11.7l5-6.8l5-12.2l5-7.5l5-12.6l5-7.4l5-11.8l5-5.9l5-10.3l5-4.6l5-9.1l5-3.3l5-7.9l5-2.3l5-6.8l5-1.3l5-5.8l5-.5l5.1-5.3l5-.3l5-5.4l5-.6l5-6.1l5-1.3l5-6.2l5-.8l5-5l5-.1l5-2.4l5,1.1l5,2l5,5.3l5,6.7l5,8.1l5,7.3l5,7.3l5,6.1l5,5.8l5,4.7l5,4.3l5,2.9l5,2.7l5.1,2.2l5,3.7l5,5l5,7.3l5,7.8l5,9l5,8.9l5,9.8l5,9.6l5,10.1l5,9.7l5,10l5,9.2l5,9.4l5,8.8l5,9l5,8.5l5,8.3l5,7l5,6.6l5,5.8l5,6.6l5,7l5,8.4l5.1,8.8l5,9.7l5,9.6l5,9.9l5,9l5,8.4l5,7l5,6.2l5,4.8l5,4.3l5,3l5,2.9l5,.8l5,2.1l5-1l5,1.7l5-1.4l5,1.8l5-1l5,2.3l5-.7l5,2.4l5-1l5,2l5.1-1.9l5,1.2l5-2.7l5,.4l5-3.7"/>
<path d="M938.6,414.7l5-.2l5,6.4l5,.7l5,5.6l5-2l5,1.8l5-5.9l5-1.3l5-7.5l5-1.6l5-6.7l5-.5l5.1-5.7l5,.4l5-5.2l5,.6l5-5.2l5,.3l5-6l5-1.3l5-8.2l5-3.9l5-10.6l5-5.6l5-11.7l5-6.4l5-12.6l5-6.6l5-10.8l5-4.5l5-11.2l5-6.6l5-13.2l5-7.8l5-13.5l5-7.6l5.1-12.9l5-6.7l5-11.9l5-5.7l5-11.4l5-5.9l5-11.8l5-6.3l5-12.3l5-6.9l5-12.8l5-6.8l5-11.8l5-5.4l5-10.5l5-4.1l5-9.2l5-2.9l5-8.2l5-1.9l5-7.2l5-1l5-6.3l5-.3l5.1-5.8l5-.2l5-6l5-.5l5-6.5l5-.9l5-6.5l5-.3l5-5.2l5,.2l5-2.5l5,1.2l5,2.1l5,5.4l5,6.7l5,8.3l5,7.3l5,7.3l5,5.9l5,5.8l5,4.4l5,4.4l5,2.8l5,2.9l5.1,2.3l5,3.8l5,5l5,7.2l5,7.8l5,9.1l5,9l5,10l5,9.6l5,10.3l5,9.7l5,10l5,9.2l5,9.4l5,8.6l5,9l5,8.2l5,8.3l5,6.9l5,6.5l5,5.6l5,6.5l5,6.9l5,8.3l5.1,8.8l5,9.9l5,9.7l5,10l5,9.1l5,8.6l5,7.1l5,6.4l5,5l5,4.4l5,3l5,3.2l5,.6l5,2.3l5-1.3l5,1.7l5-1.7l5,1.8l5-1.4l5,2.4l5-1.1l5,2.5l5-1.3l5,2.1l5.1-2.2l5,1.2l5-3.2l5,.3l5-4.5"/>
<path d="M938.6,413.5l5-.4l5,7.6l5,.6l5,6.7l5-2.2l5,3l5-5.9l5-.3l5-7.8l5-.8l5-7.5l5,0l5.1-6.7l5,.5l5-6.6l5,.5l5-6.8l5,0l5-7.5l5-1.3l5-9.7l5-4l5-12.1l5-5.5l5-12.6l5-5.6l5-12.9l5-5.4l5-11.4l5-3.5l5-11.1l5-4.8l5-12.5l5-5.8l5-13l5-6l5.1-12.8l5-5.5l5-12.3l5-5.1l5-12.1l5-5.5l5-13l5-6.4l5-14l5-7.3l5-14.6l5-7.2l5-13.4l5-5.4l5-11.6l5-3.7l5-10l5-2.3l5-8.7l5-1.1l5-7.6l5-.1l5-6.8l5,.5l5.1-6.3l5,.8l5-6.2l5,.7l5-6.6l5,.3l5-6.7l5,.7l5-5.6l5,.9l5-2.6l5,1.6l5,2.2l5,5.5l5,6.6l5,8.1l5,7.2l5,7.2l5,5.6l5,5.7l5,4.1l5,4.3l5,2.8l5,3l5.1,2.4l5,4l5,4.8l5,7.2l5,7.6l5,9l5,9l5,10.1l5,9.7l5,10.4l5,9.8l5,10.2l5,9.2l5,9.5l5,8.6l5,9.1l5,8.2l5,8.4l5,6.9l5,6.5l5,5.6l5,6.5l5,6.8l5,8.3l5.1,8.7l5,9.9l5,9.7l5,10l5,9l5,8.6l5,6.9l5,6.3l5,4.9l5,4.4l5,2.8l5,3.2l5,.3l5,2.5l5-1.6l5,2l5-2.1l5,2.3l5-1.7l5,2.9l5-1.3l5,3.1l5-1.7l5,2.7l5.1-2.5l5,1.7l5-3.6l5,.8l5-5.2"/>
<path d="M938.6,413.0l5,1.2l5,5.7l5,1.9l5,4.6l5-1l5,.7l5-5l5-2.5l5-6.6l5-2.6l5-5.7l5-1.3l5.1-4.5l5-.5l5-4.1l5-.4l5-4.3l5-1.1l5-5.5l5-2.9l5-8l5-5.9l5-10.8l5-7.7l5-11.5l5-7.8l5-11.6l5-7.5l5-9.9l5-5.5l5-9.4l5-6.3l5-10.4l5-7.2l5-11.1l5-7.6l5.1-11.3l5-7.5l5-11l5-7.2l5-11.1l5-7.7l5-11.8l5-8.4l5-12.3l5-8.7l5-12.2l5-8l5-10.8l5-6.3l5-9.2l5-4.9l5-8l5-3.8l5-7l5-2.9l5-6.2l5-2.2l5-5.5l5-1.6l5.1-5.2l5-1.3l5-4.8l5-1.2l5-4.8l5-1.1l5-4.7l5-.7l5-3.8l5-.2l5-1.6l5,1.2l5,2.5l5,5.3l5,6.8l5,7.9l5,7.2l5,6.9l5,5.7l5,5.4l5,4.4l5,4.2l5,3.2l5,3.1l5.1,2.7l5,3.9l5,5.1l5,7.1l5,7.8l5,9l5,9l5,9.8l5,9.7l5,10.1l5,9.6l5,9.9l5,9.2l5,9.2l5,8.7l5,8.9l5,8.6l5,8.4l5,7.2l5,6.6l5,5.8l5,6.4l5,7l5,8.3l5.1,8.9l5,9.7l5,9.8l5,9.9l5,9.1l5,8.3l5,7l5,6.1l5,4.9l5,4.3l5,3.1l5,2.9l5,1.1l5,1.9l5-.6l5,1.2l5-1.2l5,1.1l5-1l5,1.6l5-.8l5,1.7l5-1l5,1.3l5.1-1.6l5,.4l5-2.7l5-.6l5-4"/>
<path d="M938.6,411.4l5-1.3l5,8.4l5-.1l5,7.4l5-3.1l5,3.5l5-6.8l5,.6l5-8.5l5,.2l5-7.9l5,1.2l5.1-7.2l5,1.7l5-7l5,1.6l5-7.2l5,1l5-8.2l5-.5l5-10.4l5-3.4l5-13l5-5.1l5-13.7l5-5.3l5-14.1l5-5.2l5-12.8l5-3.8l5-12.7l5-4.8l5-13.7l5-5.3l5-13.9l5-5.1l5.1-13.4l5-4.5l5-12.6l5-3.9l5-12.6l5-4.3l5-13.4l5-5.1l5-14.2l5-6l5-14.7l5-5.9l5-13.8l5-4.4l5-12.2l5-2.9l5-10.8l5-1.5l5-9.6l5-.5l5-8.5l5,.4l5-7.9l5,1l5.1-7.5l5,1.2l5-7.3l5,1.3l5-7.4l5,1.3l5-7.2l5,1.7l5-6l5,1.5l5-2.9l5,1.9l5,2.1l5,5.8l5,6.8l5,8.4l5,7.2l5,7.3l5,5.6l5,5.9l5,4.2l5,4.5l5,2.8l5,3.1l5.1,2.3l5,4.1l5,4.7l5,7.2l5,7.3l5,9l5,8.7l5,10l5,9.5l5,10.4l5,9.6l5,10.1l5,9.1l5,9.5l5,8.5l5,9.2l5,8.4l5,8.7l5,7l5,6.7l5,5.5l5,6.5l5,6.8l5,8.5l5.1,8.8l5,10.1l5,9.8l5,10.2l5,9.1l5,8.6l5,7l5,6.4l5,4.9l5,4.3l5,2.7l5,3.2l5-.2l5,2.6l5-2.5l5,2l5-3.1l5,2.3l5-2.6l5,3.2l5-1.9l5,3.7l5-2l5,3.3l5.1-3.1l5,2.2l5-4.3l5,1l5-6.1"/>
<path d="M938.6,408.7l5,1.2l5,5.9l5,2.3l5,4.9l5-.6l5,.7l5-4.4l5-2.1l5-5.9l5-2.3l5-5.2l5-1.3l5.1-4.5l5-.8l5-4.2l5-.8l5-4.6l5-1.3l5-5.5l5-2.9l5-7.7l5-5.9l5-10.5l5-7.5l5-11.2l5-7.9l5-11.5l5-7.9l5-10.4l5-6.6l5-10.5l5-7.6l5-11.4l5-8.1l5-11.6l5-7.8l5.1-11l5-7.1l5-10.2l5-6.5l5-10.2l5-6.9l5-11l5-7.7l5-11.6l5-8.3l5-12l5-8.1l5-10.9l5-6.6l5-9.4l5-5.1l5-8l5-3.9l5-6.8l5-2.9l5-5.9l5-2l5-5.3l5-1.5l5.1-4.9l5-1.3l5-4.8l5-1.4l5-4.9l5-1.3l5-4.7l5-.9l5-3.8l5-.3l5-1.8l5,1.1l5,2.4l5,5.4l5,7.1l5,8.1l5,7.4l5,6.9l5,5.8l5,5.5l5,4.5l5,4.3l5,3.3l5,3.1l5.1,2.8l5,4l5,5l5,6.9l5,7.6l5,8.7l5,9.1l5,9.8l5,9.7l5,10.3l5,9.8l5,9.9l5,9.3l5,9.3l5,8.7l5,9l5,8.5l5,8.4l5,7.2l5,6.5l5,5.6l5,6.2l5,6.8l5,8.3l5.1,8.9l5,9.9l5,9.9l5,10.1l5,9.2l5,8.5l5,7l5,6.3l5,4.9l5,4.3l5,3l5,2.8l5,.8l5,1.5l5-.8l5,.8l5-1.4l5,1l5-.8l5,1.7l5-.3l5,2l5-.5l5,1.6l5.1-1.4l5,.4l5-2.8l5-1.2l5-4.8"/>
<path d="M938.6,403.5l5-.4l5,7.7l5,.8l5,6.3l5-3.1l5,1.3l5-7.4l5-1.5l5-8.5l5-1.2l5-7.4l5-.1l5.1-6.5l5,.7l5-5.9l5,1.1l5-5.7l5,.9l5-6.3l5-.6l5-9.2l5-4.3l5-12.6l5-6.4l5-13.1l5-6.2l5-13.2l5-6.5l5-13.4l5-6.4l5-13.1l5-6.4l5-13.1l5-6.1l5-12.8l5-5.5l5.1-11.5l5-4.3l5-10.9l5-4.1l5-11.4l5-5.2l5-12.7l5-6.3l5-13.6l5-6.9l5-13.7l5-6.4l5-12.4l5-4.8l5-10.7l5-3.1l5-8.8l5-1.4l5-7.9l5-.6l5-7.1l5-.2l5-6.7l5,.4l5.1-6.3l5,.7l5-6.1l5,.8l5-6.1l5,.9l5-5.9l5,1.2l5-5.1l5,1l5-2.2l5,2l5,2.7l5,6l5,6.8l5,8.3l5,7.1l5,6.9l5,5.5l5,5.6l5,4.3l5,4.6l5,3.3l5,3.6l5.1,2.8l5,4.2l5,4.9l5,6.9l5,7.4l5,8.9l5,8.8l5,9.9l5,9.6l5,10.4l5,9.7l5,10.2l5,9.1l5,9.5l5,8.6l5,9.3l5,8.5l5,8.6l5,7.1l5,6.6l5,5.6l5,6.3l5,6.7l5,8.3l5.1,8.7l5,9.9l5,9.7l5,10.1l5,9l5,8.5l5,6.8l5,6.3l5,4.7l5,4.3l5,2.8l5,3l5,.2l5,2.5l5-1.4l5,2.1l5-1.9l5,2.4l5-1.5l5,2.9l5-1.3l5,2.9l5-1.7l5,2.4l5.1-2.8l5,1.2l5-4.4l5-.5l5-6.6"/>
<path d="M938.6,399.0l5,6l5,1.3l5,7.3l5,0l5,3.4l5-5.1l5-.8l5-7.8l5-1.9l5-7.5l5-1l5-6.6l5.1-.2l5-6l5,.2l5-5.8l5,.3l5-5.8l5-.2l5-7.2l5-2.8l5-10.9l5-6.1l5-12.6l5-6.3l5-12l5-6.2l5-12.3l5-6.5l5-12.7l5-6.7l5-12.8l5-6.7l5-12.5l5-6.4l5-12.1l5.1-5.8l5-11.5l5-5.1l5-11.3l5-5.5l5-12.2l5-6.6l5-13l5-7l5-12.9l5-6.5l5-12l5-5.3l5-10.4l5-3.7l5-9l5-2.4l5-7.8l5-1.4l5-7.1l5-.7l5-6.6l5-.4l5-6.3l5.1-.2l5-6.2l5,0l5-5.8l5,.3l5-5.5l5,.8l5-5l5,1l5-3.5l5,1.2l5,.3l5,3.8l5,5.3l5,7.8l5,7.5l5,7.9l5,6.2l5,6.1l5,4.8l5,4.9l5,3.9l5,4l5,2.9l5.1,3.5l5,3.6l5,5.5l5,6.2l5,8l5,8.2l5,9.5l5,9.4l5,10.2l5,9.9l5,10.3l5,9.6l5,9.7l5,8.9l5,9.1l5,8.7l5,9l5,8.1l5,7.6l5,6.1l5,6l5,5.7l5,7.2l5,7.8l5.1,9.2l5,9.6l5,10.3l5,9.7l5,9.6l5,8.1l5,7.2l5,5.8l5,5.2l5,3.9l5,3.5l5,1.6l5,2.5l5-.9l5,1.8l5-2l5,1.5l5-1.9l5,2.2l5-1.1l5,2.8l5-1l5,2.8l5-1.6l5.1,2l5-2.9l5,.4l5-5l5-1.8"/>
</g>
<clipPath id="clip-d"><rect x="128.5" y="487.4" width="754.55" height="463.8"/></clipPath>
<g class="cv" clip-path="url(#clip-d)">
<path d="M163.2,828.7l2.6-.3l2.5,.1l2.6-.4l2.6,0l2.6-.5l2.5-.1l2.6-.6l2.6-.3l2.5-.9l2.6-.5l2.6-1.1l2.6-.8l2.5-1.5l2.6-1l2.6-1.9l2.5-1.5l2.6-2.2l2.6-1.9l2.6-2.8l2.5-2.3l2.6-3.3l2.6-2.9l2.5-4l2.6-3.5l2.6-4.7l2.6-4.2l2.5-5.4l2.6-5.1l2.6-6.2l2.5-5.9l2.6-7l2.6-6.7l2.5-7.9l2.6-7.5l2.6-8.7l2.6-8.4l2.5-9.5l2.6-9l2.6-9.2l2.5-6.3l2.6-5.7l2.6-4.1l2.6-6.4l2.5-6.1l2.6-8.4l2.6-7.2l2.5-9.1l2.6-6.9l2.6-8.5l2.6-5.4l2.5-6.5l2.6-2.9l2.6-4.6l2.5-1.7l2.6-4.1l2.6-1.3l2.6-3.8l2.5-1l2.6-3.6l2.6-.8l2.5-3.4l2.6-.7l2.6-3.2l2.6-.5l2.5-3l2.6-.2l2.6-2.8l2.5,.1l2.6-2.4l2.6,.4l2.6-2l2.5,.8l2.6-1.6l2.6,1.2l2.5-1.1l2.6,2l2.6-.1l2.6,3.2l2.5,1.4l2.6,5l2.6,3.4l2.5,6.8l2.6,5.2l2.6,8.1l2.6,6.2l2.5,8.7l2.6,6.7l2.6,8.6l2.5,6.7l2.6,8.8l2.6,7.5l2.5,9.8l2.6,8.9l2.6,10.9l2.6,9.2l2.5,9.8l2.6,7.9l2.6,8.6l2.5,7.2l2.6,7.9l2.6,7.1l2.6,8l2.5,7.3l2.6,8.6l2.6,7.7l2.5,8.2l2.6,6.6l2.6,6.8l2.6,5.5l2.5,5.8l2.6,4.6l2.6,5.1l2.5,4.1l2.6,4.8l2.6,3.9l2.6,4.7l2.5,3.8l2.6,4.7l2.6,3.7l2.5,4.4l2.6,3.5l2.6,4.3l2.6,3.3l2.5,4.1l2.6,3l2.6,3.8l2.5,2.7l2.6,3.4l2.6,2.3l2.6,3l2.5,1.9l2.6,2.5l2.6,1.1l2.5,1.6l2.6,.2l2.6,.5l2.6-1.1l2.5-.9l2.6-2.4l2.6-2.3l2.5-3.8l2.6-3.5l2.6-5.1l2.6-4.7l2.5-6.3l2.6-6l2.6-7.4l2.5-7.1l2.6-8.2l2.6-7.7l2.5-8.7l2.6-7.9l2.6-8.7l2.6-7.8l2.5-8.5l2.6-7.5l2.6-8.3l2.5-7.2l2.6-8l2.6-6.9l2.6-7.6l2.5-6.5l2.6-7.3l2.6-6.3l2.5-7l2.6-6.1l2.6-6.8l2.6-6l2.5-6.7l2.6-5.7l2.6-5.9l2.5-4.1l2.6-3.7l2.6-2l2.6-3.9l2.5-5.1l2.6-7.7l2.6-7.8l2.5-8.7l2.6-7.3l2.6-7.6l2.6-6.4l2.5-7l2.6-6.1l2.6-7l2.5-6.4l2.6-7.6l2.6-7l2.6-8l2.5-6.9l2.6-7.2l2.6-5.5l2.5-5.3l2.6-2.9l2.6-2l2.6,.6l2.5,1.5l2.6,4.5l2.6,5.3l2.5,7.5l2.6,7.1l2.6,7.6l2.6,6.1l2.5,6.6l2.6,5.6l2.6,6.7l2.5,5.7l2.6,6.6l2.6,5.6l2.5,6.4l2.6,5.3l2.6,6l2.6,4.8l2.5,5.4l2.6,4.1l2.6,4.6l2.5,3.3l2.6,3.6l2.6,2.2l2.6,3l2.5,3.1l2.6,6.4l2.6,7.7l2.5,7.8l2.6,4.8l2.6,4.8l2.6,4.6l2.5,6.8l2.6,7.5l2.6,9.7l2.5,9.5l2.6,10.2l2.6,9.3l2.6,10.4l2.5,10.1l2.6,11.6l2.6,10.8l2.5,11.4l2.6,9.7l2.6,9.9l2.6,8.7l2.5,9.3l2.6,8.3l2.6,9l2.5,7.7l2.6,8.1l2.6,6.8l2.6,7l2.5,5.3l2.6,5.9l2.6,3.6l2.5,4.9l2.6,2.1l2.6,4.2l2.6,.8l2.5,3.5l2.6-.4l2.6,3l2.5-1.3l2.6,2.6l2.6-2l2.6,2.3l2.5-2.4l2.6,2.2l2.6-2.6l2.5,2.2"/>
<path d="M163.2,827.5l2.6,.1l2.5-.1l2.6,.1l2.6-.1l2.6,.1l2.5-.2l2.6,0l2.6-.4l2.5-.3l2.6-.8l2.6-.7l2.6-1.1l2.5-1.1l2.6-1.6l2.6-1.6l2.5-2.2l2.6-2.1l2.6-2.8l2.6-2.7l2.5-3.3l2.6-3.2l2.6-3.9l2.5-3.8l2.6-4.4l2.6-4.4l2.6-5l2.5-4.9l2.6-5.7l2.6-5.6l2.5-6.3l2.6-6.3l2.6-7l2.5-7l2.6-7.9l2.6-7.8l2.6-8.7l2.5-8.6l2.6-9.4l2.6-8.3l2.5-7.1l2.6-4.8l2.6-5.1l2.6-5.5l2.5-7.4l2.6-7.3l2.6-8.7l2.5-7.9l2.6-8.7l2.6-7.1l2.6-7.3l2.5-4.9l2.6-5l2.6-2.9l2.5-3.7l2.6-2.1l2.6-3.3l2.6-1.6l2.5-2.8l2.6-1.3l2.6-2.6l2.5-1.1l2.6-2.4l2.6-.9l2.6-2.2l2.5-.7l2.6-2l2.6-.6l2.5-1.7l2.6-.3l2.6-1.5l2.6,0l2.5-1.2l2.6,.4l2.6-.8l2.5,.9l2.6,0l2.6,1.8l2.6,1.2l2.5,3.4l2.6,2.9l2.6,5.2l2.5,4.8l2.6,6.9l2.6,6.2l2.6,7.9l2.5,7l2.6,8.2l2.6,7.2l2.5,8.1l2.6,7.5l2.6,8.8l2.5,8.6l2.6,10.1l2.6,9.8l2.6,10.4l2.5,8.9l2.6,8.9l2.6,7.7l2.5,8l2.6,7.4l2.6,7.7l2.6,7.3l2.5,8l2.6,7.9l2.6,8.3l2.5,7.4l2.6,7.1l2.6,6.1l2.6,6l2.5,5.1l2.6,5.1l2.6,4.5l2.5,4.6l2.6,4.2l2.6,4.5l2.6,4.1l2.5,4.5l2.6,4l2.6,4.5l2.5,3.9l2.6,4.3l2.6,3.7l2.6,4.1l2.5,3.5l2.6,3.9l2.6,3.2l2.5,3.5l2.6,2.8l2.6,3.1l2.6,2.4l2.5,2.6l2.6,1.8l2.6,1.9l2.5,.9l2.6,.8l2.6-.2l2.6-.5l2.5-1.7l2.6-2l2.6-3.1l2.5-3.3l2.6-4.3l2.6-4.6l2.6-5.5l2.5-5.7l2.6-6.7l2.6-6.9l2.5-7.7l2.6-7.7l2.6-8.3l2.5-8.1l2.6-8.5l2.6-8l2.6-8.4l2.5-7.8l2.6-8.1l2.6-7.5l2.5-7.8l2.6-7.2l2.6-7.4l2.6-6.9l2.5-7.2l2.6-6.6l2.6-6.9l2.5-6.4l2.6-6.7l2.6-6.2l2.6-6.7l2.5-6.2l2.6-6.4l2.6-5.4l2.5-5l2.6-3.2l2.6-3.1l2.6-3.4l2.5-5.9l2.6-7l2.6-8.3l2.5-7.9l2.6-7.9l2.6-6.8l2.6-6.9l2.5-6.3l2.6-6.5l2.6-6.2l2.5-6.8l2.6-6.8l2.6-7.5l2.6-7.2l2.5-7.4l2.6-6.5l2.6-6.2l2.5-4.6l2.6-3.5l2.6-1.5l2.6-.1l2.5,2.3l2.6,3.7l2.6,6l2.5,6.7l2.6,7.6l2.6,6.9l2.6,6.6l2.5,5.7l2.6,6.2l2.6,5.8l2.5,6.3l2.6,5.8l2.6,6.2l2.5,5.7l2.6,6l2.6,5.3l2.6,5.6l2.5,4.9l2.6,4.9l2.6,4.1l2.5,4.1l2.6,3l2.6,3l2.6,2.5l2.5,3.9l2.6,5.7l2.6,8.4l2.5,7.1l2.6,5.3l2.6,4.2l2.6,5.3l2.5,6.1l2.6,8.1l2.6,9.1l2.5,10.1l2.6,9.5l2.6,9.9l2.6,9.8l2.5,10.7l2.6,10.8l2.6,11.5l2.5,10.6l2.6,10.4l2.6,9.3l2.6,9.3l2.5,8.7l2.6,9l2.6,8.4l2.5,8.4l2.6,7.6l2.6,7.5l2.6,6.5l2.5,6.2l2.6,4.9l2.6,5l2.5,3.4l2.6,4l2.6,2.1l2.6,3.1l2.5,.9l2.6,2.3l2.6,.1l2.5,1.7l2.6-.7l2.6,1.2l2.6-1.2l2.5,1l2.6-1.5l2.6,.9l2.5-1.6"/>
<path d="M163.2,827.9l2.6-.1l2.5,0l2.6-.2l2.6-.1l2.6-.4l2.5-.3l2.6-.7l2.6-.6l2.5-1.1l2.6-.9l2.6-1.5l2.6-1.3l2.5-1.8l2.6-1.7l2.6-2.2l2.5-2.1l2.6-2.6l2.6-2.5l2.6-2.9l2.5-2.8l2.6-3.4l2.6-3.2l2.5-3.8l2.6-3.7l2.6-4.3l2.6-4.2l2.5-4.9l2.6-4.9l2.6-5.7l2.5-5.6l2.6-6.5l2.6-6.4l2.5-7.4l2.6-7.3l2.6-8.3l2.6-8.2l2.5-9.2l2.6-9.1l2.6-8.9l2.5-6.7l2.6-5.7l2.6-4.7l2.6-6.4l2.5-6.8l2.6-8.4l2.6-7.9l2.5-9l2.6-7.7l2.6-8.2l2.6-6.2l2.5-6.2l2.6-3.7l2.6-4.3l2.5-2.4l2.6-3.6l2.6-1.8l2.6-3.1l2.5-1.4l2.6-2.8l2.6-1.1l2.5-2.5l2.6-.9l2.6-2.3l2.6-.7l2.5-2.1l2.6-.5l2.6-1.8l2.5-.3l2.6-1.5l2.6,0l2.6-1.2l2.5,.4l2.6-.9l2.6,.9l2.5-.4l2.6,1.6l2.6,.6l2.6,2.7l2.5,2l2.6,4.4l2.6,3.9l2.5,6.2l2.6,5.5l2.6,7.6l2.6,6.6l2.5,8.2l2.6,7.1l2.6,8.1l2.5,7.1l2.6,8.3l2.6,7.9l2.5,9.3l2.6,9.2l2.6,10.4l2.6,9.4l2.5,9.4l2.6,8.2l2.6,8.3l2.5,7.4l2.6,7.9l2.6,7.4l2.6,7.9l2.5,7.7l2.6,8.4l2.6,7.9l2.5,8l2.6,6.9l2.6,6.6l2.6,5.7l2.5,5.7l2.6,4.8l2.6,5l2.5,4.2l2.6,4.7l2.6,4l2.6,4.5l2.5,4l2.6,4.4l2.6,3.9l2.5,4.3l2.6,3.7l2.6,4.1l2.6,3.5l2.5,3.8l2.6,3.3l2.6,3.6l2.5,2.9l2.6,3.3l2.6,2.5l2.6,2.8l2.5,2.1l2.6,2.3l2.6,1.4l2.5,1.4l2.6,.4l2.6,.3l2.6-.9l2.5-1.1l2.6-2.3l2.6-2.5l2.5-3.6l2.6-3.8l2.6-4.8l2.6-5l2.5-6l2.6-6.2l2.6-7.3l2.5-7.3l2.6-8.1l2.6-7.9l2.5-8.6l2.6-8.1l2.6-8.6l2.6-8l2.5-8.4l2.6-7.7l2.6-8.1l2.5-7.4l2.6-7.7l2.6-7l2.6-7.3l2.5-6.7l2.6-7l2.6-6.4l2.5-6.7l2.6-6.2l2.6-6.7l2.6-6.1l2.5-6.7l2.6-6l2.6-5.8l2.5-4.5l2.6-3.8l2.6-2.6l2.6-3.8l2.5-5.4l2.6-7.4l2.6-7.7l2.5-8.4l2.6-7.3l2.6-7.4l2.6-6.5l2.5-6.8l2.6-6.2l2.6-6.7l2.5-6.5l2.6-7.3l2.6-7.1l2.6-7.6l2.5-7l2.6-6.9l2.6-5.5l2.5-4.9l2.6-3l2.6-1.8l2.6,.4l2.5,1.8l2.6,4.2l2.6,5.4l2.5,7l2.6,7l2.6,7.2l2.6,6.1l2.5,6.2l2.6,5.8l2.6,6.3l2.5,5.9l2.6,6.3l2.6,5.8l2.5,6.2l2.6,5.6l2.6,5.8l2.6,5.2l2.5,5.3l2.6,4.5l2.6,4.6l2.5,3.6l2.6,3.6l2.6,2.5l2.6,3l2.5,3.5l2.6,6.1l2.6,7.9l2.5,7.5l2.6,5l2.6,4.6l2.6,4.9l2.5,6.6l2.6,7.6l2.6,9.6l2.5,9.6l2.6,9.9l2.6,9.5l2.6,10.2l2.5,10.2l2.6,11.3l2.6,10.9l2.5,11l2.6,9.8l2.6,9.7l2.6,8.8l2.5,9.1l2.6,8.5l2.6,8.7l2.5,7.9l2.6,8l2.6,7l2.6,6.9l2.5,5.6l2.6,5.7l2.6,4.1l2.5,4.6l2.6,2.7l2.6,3.6l2.6,1.5l2.5,2.8l2.6,.4l2.6,2.2l2.5-.4l2.6,1.6l2.6-1.1l2.6,1.3l2.5-1.5l2.6,1l2.6-1.7l2.5,1.1"/>
<path d="M163.2,824.5l2.6-.6l2.5-.3l2.6-.6l2.6-.4l2.6-.7l2.5-.4l2.6-.9l2.6-.6l2.5-1.1l2.6-.8l2.6-1.4l2.6-1.1l2.5-1.7l2.6-1.5l2.6-2.1l2.5-1.9l2.6-2.6l2.6-2.4l2.6-3.1l2.5-2.9l2.6-3.6l2.6-3.4l2.5-4.2l2.6-4l2.6-4.9l2.6-4.6l2.5-5.5l2.6-5.3l2.6-6.3l2.5-6l2.6-7l2.6-6.6l2.5-7.5l2.6-7.2l2.6-8.1l2.6-7.8l2.5-8.8l2.6-8.4l2.6-8.4l2.5-6.1l2.6-5.3l2.6-4.1l2.6-6.1l2.5-6l2.6-7.9l2.6-7.3l2.5-8.7l2.6-7.1l2.6-8.1l2.6-5.8l2.5-6.2l2.6-3.4l2.6-4.5l2.5-2.2l2.6-3.9l2.6-1.7l2.6-3.5l2.5-1.4l2.6-3.1l2.6-1.2l2.5-2.9l2.6-.9l2.6-2.6l2.6-.7l2.5-2.4l2.6-.4l2.6-2l2.5,0l2.6-1.7l2.6,.4l2.6-1.3l2.5,.8l2.6-.9l2.6,1.1l2.5-.4l2.6,1.9l2.6,.5l2.6,2.9l2.5,1.7l2.6,4.5l2.6,3.5l2.5,6.3l2.6,5.4l2.6,7.7l2.6,6.5l2.5,8.3l2.6,7l2.6,8.3l2.5,6.9l2.6,8.4l2.6,7.6l2.5,9.2l2.6,8.7l2.6,10l2.6,8.8l2.5,9l2.6,7.6l2.6,8l2.5,7.2l2.6,7.9l2.6,7.3l2.6,8l2.5,7.4l2.6,8.3l2.6,7.7l2.5,7.8l2.6,6.7l2.6,6.8l2.6,5.7l2.5,5.8l2.6,5l2.6,5.3l2.5,4.4l2.6,4.9l2.6,4.3l2.6,4.7l2.5,4.1l2.6,4.6l2.6,3.9l2.5,4.4l2.6,3.7l2.6,4.3l2.6,3.5l2.5,4l2.6,3.2l2.6,3.7l2.5,2.9l2.6,3.3l2.6,2.4l2.6,2.9l2.5,1.9l2.6,2.2l2.6,1.2l2.5,1.3l2.6,.2l2.6,.3l2.6-1.1l2.5-1l2.6-2.4l2.6-2.3l2.5-3.5l2.6-3.5l2.6-4.6l2.6-4.4l2.5-5.7l2.6-5.8l2.6-7l2.5-7l2.6-8l2.6-7.6l2.5-8.5l2.6-8l2.6-8.6l2.6-7.9l2.5-8.4l2.6-7.7l2.6-8.2l2.5-7.3l2.6-7.7l2.6-6.9l2.6-7.3l2.5-6.5l2.6-6.9l2.6-6.3l2.5-6.7l2.6-6.1l2.6-6.8l2.6-6.2l2.5-6.9l2.6-6.2l2.6-6.3l2.5-4.9l2.6-4.5l2.6-3.3l2.6-4.5l2.5-5.5l2.6-7.5l2.6-7.5l2.5-8.2l2.6-7.1l2.6-7.4l2.6-6.4l2.5-6.8l2.6-6.1l2.6-6.8l2.5-6.2l2.6-7.1l2.6-6.6l2.6-7.3l2.5-6.4l2.6-6.4l2.6-5l2.5-4.5l2.6-2.6l2.6-1.6l2.6,.7l2.5,1.7l2.6,4.1l2.6,5.1l2.5,6.8l2.6,6.6l2.6,7l2.6,5.9l2.5,6.1l2.6,5.5l2.6,6.2l2.5,5.7l2.6,6.2l2.6,5.5l2.5,6.1l2.6,5.3l2.6,5.8l2.6,4.9l2.5,5.4l2.6,4.4l2.6,4.7l2.5,3.6l2.6,3.9l2.6,2.8l2.6,3.4l2.5,3.7l2.6,6.2l2.6,7.6l2.5,7.5l2.6,5.1l2.6,5.2l2.6,5.2l2.5,7l2.6,7.8l2.6,9.6l2.5,9.5l2.6,10.1l2.6,9.5l2.6,10.3l2.5,10.2l2.6,11.2l2.6,10.7l2.5,10.9l2.6,9.7l2.6,9.6l2.6,8.7l2.5,9.1l2.6,8.3l2.6,8.6l2.5,7.7l2.6,7.9l2.6,6.8l2.6,6.9l2.5,5.5l2.6,5.8l2.6,4l2.5,4.7l2.6,2.6l2.6,3.8l2.6,1.3l2.5,3.1l2.6,.2l2.6,2.4l2.5-.6l2.6,2l2.6-1.3l2.6,1.6l2.5-1.7l2.6,1.5l2.6-2l2.5,1.6"/>
<path d="M163.2,824.0l2.6-.7l2.5-.5l2.6-.8l2.6-.6l2.6-1l2.5-.7l2.6-1.2l2.6-.9l2.5-1.4l2.6-1.2l2.6-1.6l2.6-1.5l2.5-1.9l2.6-1.7l2.6-2.2l2.5-2.1l2.6-2.6l2.6-2.5l2.6-3l2.5-3l2.6-3.4l2.6-3.5l2.5-4l2.6-3.9l2.6-4.6l2.6-4.6l2.5-5.3l2.6-5.3l2.6-6l2.5-6l2.6-6.8l2.6-6.6l2.5-7.3l2.6-7.2l2.6-7.9l2.6-7.8l2.5-8.6l2.6-8.3l2.6-8.2l2.5-6.2l2.6-5.1l2.6-4.2l2.6-5.7l2.5-6l2.6-7.6l2.6-7.2l2.5-8.3l2.6-7.1l2.6-7.6l2.6-5.8l2.5-5.7l2.6-3.6l2.6-3.9l2.5-2.5l2.6-3.4l2.6-2l2.6-3.1l2.5-1.7l2.6-2.9l2.6-1.6l2.5-2.7l2.6-1.4l2.6-2.6l2.6-1.2l2.5-2.4l2.6-.9l2.6-2l2.5-.7l2.6-1.6l2.6-.1l2.6-1.2l2.5,.4l2.6-.7l2.6,.9l2.5,0l2.6,1.6l2.6,.9l2.6,2.6l2.5,2l2.6,4.1l2.6,3.8l2.5,5.9l2.6,5.7l2.6,7.5l2.6,6.9l2.5,8.2l2.6,7.3l2.6,8.3l2.5,7.3l2.6,8.4l2.6,7.9l2.5,9.2l2.6,9l2.6,9.9l2.6,9.1l2.5,9l2.6,7.9l2.6,8.1l2.5,7.4l2.6,7.9l2.6,7.5l2.6,7.9l2.5,7.7l2.6,8.2l2.6,7.8l2.5,7.7l2.6,6.8l2.6,6.6l2.6,5.7l2.5,5.7l2.6,4.9l2.6,5.1l2.5,4.4l2.6,4.7l2.6,4.2l2.6,4.6l2.5,4.1l2.6,4.4l2.6,3.9l2.5,4.2l2.6,3.8l2.6,4l2.6,3.6l2.5,3.9l2.6,3.3l2.6,3.6l2.5,2.9l2.6,3.2l2.6,2.6l2.6,2.7l2.5,2.1l2.6,2.1l2.6,1.3l2.5,1.2l2.6,.3l2.6,.1l2.6-.9l2.5-1.2l2.6-2.2l2.6-2.5l2.5-3.4l2.6-3.6l2.6-4.5l2.6-4.5l2.5-5.6l2.6-5.8l2.6-6.9l2.5-7.1l2.6-7.9l2.6-7.8l2.5-8.3l2.6-8.1l2.6-8.4l2.6-8l2.5-8.3l2.6-7.8l2.6-8l2.5-7.4l2.6-7.5l2.6-6.9l2.6-7.1l2.5-6.5l2.6-6.8l2.6-6.2l2.5-6.6l2.6-6.2l2.6-6.7l2.6-6.3l2.5-6.9l2.6-6.3l2.6-6.3l2.5-5.1l2.6-4.6l2.6-3.6l2.6-4.6l2.5-5.8l2.6-7.4l2.6-7.7l2.5-8.1l2.6-7.4l2.6-7.3l2.6-6.7l2.5-6.8l2.6-6.3l2.6-6.7l2.5-6.4l2.6-6.9l2.6-6.7l2.6-6.9l2.5-6.3l2.6-6l2.6-4.9l2.5-4.2l2.6-2.4l2.6-1.3l2.6,.6l2.5,1.9l2.6,3.9l2.6,5.1l2.5,6.6l2.6,6.6l2.6,6.9l2.6,5.9l2.5,6.1l2.6,5.7l2.6,6.1l2.5,5.8l2.6,6.2l2.6,5.6l2.5,6l2.6,5.4l2.6,5.6l2.6,5.1l2.5,5.2l2.6,4.4l2.6,4.6l2.5,3.7l2.6,3.8l2.6,2.9l2.6,3.3l2.5,3.8l2.6,6.1l2.6,7.6l2.5,7.3l2.6,5.2l2.6,5.2l2.6,5.4l2.5,7l2.6,7.9l2.6,9.5l2.5,9.6l2.6,10l2.6,9.7l2.6,10.2l2.5,10.3l2.6,11.1l2.6,10.7l2.5,10.9l2.6,9.7l2.6,9.6l2.6,8.8l2.5,9l2.6,8.5l2.6,8.5l2.5,7.9l2.6,7.8l2.6,6.9l2.6,6.8l2.5,5.7l2.6,5.6l2.6,4.2l2.5,4.5l2.6,2.8l2.6,3.5l2.6,1.6l2.5,2.6l2.6,.6l2.6,2l2.5-.3l2.6,1.5l2.6-.9l2.6,1.1l2.5-1.2l2.6,.8l2.6-1.4l2.5,.9"/>
<path d="M163.2,822.3l2.6-.9l2.5-.3l2.6-.9l2.6-.4l2.6-1l2.5-.4l2.6-1.1l2.6-.6l2.5-1.2l2.6-.8l2.6-1.6l2.6-1.1l2.5-1.9l2.6-1.4l2.6-2.4l2.5-1.9l2.6-2.8l2.6-2.3l2.6-3.4l2.5-2.9l2.6-3.8l2.6-3.4l2.5-4.4l2.6-4l2.6-5l2.6-4.5l2.5-5.6l2.6-5.2l2.6-6.3l2.5-5.9l2.6-7.1l2.6-6.4l2.5-7.7l2.6-7l2.6-8.3l2.6-7.7l2.5-9l2.6-8.2l2.6-8.6l2.5-6l2.6-5.8l2.6-4.1l2.6-6.4l2.5-5.7l2.6-8.1l2.6-6.6l2.5-8.7l2.6-6.3l2.6-8.1l2.6-4.8l2.5-6.2l2.6-2.5l2.6-4.5l2.5-1.3l2.6-3.9l2.6-.8l2.6-3.6l2.5-.6l2.6-3.4l2.6-.4l2.5-3.4l2.6-.3l2.6-3.3l2.6-.3l2.5-3.1l2.6-.2l2.6-2.9l2.5,.2l2.6-2.6l2.6,.5l2.6-2.2l2.5,1l2.6-1.6l2.6,1.5l2.5-1l2.6,2.4l2.6-.1l2.6,3.4l2.5,1.1l2.6,4.8l2.6,2.9l2.5,6.7l2.6,4.9l2.6,8.3l2.6,6.2l2.5,8.9l2.6,6.7l2.6,9l2.5,6.8l2.6,9l2.6,7.5l2.5,9.7l2.6,8.5l2.6,10.4l2.6,8.6l2.5,9.4l2.6,7.5l2.6,8.4l2.5,7.1l2.6,8.1l2.6,7.1l2.6,8.2l2.5,7.3l2.6,8.4l2.6,7.4l2.5,7.9l2.6,6.4l2.6,6.8l2.6,5.4l2.5,6l2.6,4.7l2.6,5.5l2.5,4.2l2.6,5.1l2.6,4l2.6,5l2.5,3.8l2.6,4.8l2.6,3.8l2.5,4.6l2.6,3.5l2.6,4.4l2.6,3.3l2.5,4.2l2.6,3.1l2.6,3.9l2.5,2.7l2.6,3.4l2.6,2.3l2.6,3l2.5,1.7l2.6,2.4l2.6,1l2.5,1.5l2.6-.1l2.6,.4l2.6-1.2l2.5-.9l2.6-2.6l2.6-2.1l2.5-3.7l2.6-3.3l2.6-4.8l2.6-4.2l2.5-5.8l2.6-5.6l2.6-7.2l2.5-6.9l2.6-8.2l2.6-7.5l2.5-8.8l2.6-7.8l2.6-8.9l2.6-7.8l2.5-8.8l2.6-7.6l2.6-8.4l2.5-7.1l2.6-7.9l2.6-6.6l2.6-7.4l2.5-6.1l2.6-7l2.6-5.9l2.5-6.8l2.6-5.8l2.6-6.9l2.6-6l2.5-7.1l2.6-6l2.6-6.5l2.5-4.8l2.6-4.7l2.6-3.2l2.6-4.7l2.5-5.2l2.6-7.4l2.6-7.2l2.5-8.3l2.6-6.9l2.6-7.6l2.6-6.3l2.5-7.1l2.6-6l2.6-7.1l2.5-6.2l2.6-7.3l2.6-6.6l2.6-7.4l2.5-6.2l2.6-6.5l2.6-4.6l2.5-4.5l2.6-2.2l2.6-1.6l2.6,.9l2.5,1.5l2.6,4.1l2.6,4.7l2.5,6.6l2.6,6l2.6,6.9l2.6,5.4l2.5,6.2l2.6,5.2l2.6,6.3l2.5,5.3l2.6,6.4l2.6,5.3l2.5,6.3l2.6,5.2l2.6,6l2.6,4.8l2.5,5.7l2.6,4.3l2.6,5.1l2.5,3.7l2.6,4.3l2.6,2.8l2.6,3.9l2.5,3.7l2.6,6.6l2.6,7.4l2.5,7.7l2.6,5.1l2.6,5.6l2.6,5.2l2.5,7.3l2.6,7.6l2.6,9.8l2.5,9.4l2.6,10.3l2.6,9.4l2.6,10.5l2.5,10l2.6,11.4l2.6,10.5l2.5,11.1l2.6,9.4l2.6,9.8l2.6,8.4l2.5,9.2l2.6,8l2.6,8.6l2.5,7.4l2.6,7.9l2.6,6.5l2.6,6.9l2.5,5.2l2.6,5.9l2.6,3.6l2.5,5.1l2.6,2.1l2.6,4.3l2.6,.7l2.5,3.7l2.6-.6l2.6,3.3l2.5-1.5l2.6,2.8l2.6-2.1l2.6,2.6l2.5-2.6l2.6,2.5l2.6-2.9l2.5,2.6"/>
<path d="M163.2,817.7l2.6-1.3l2.5-.9l2.6-1.4l2.6-1l2.6-1.7l2.5-1.2l2.6-1.9l2.6-1.5l2.5-2.3l2.6-1.8l2.6-2.6l2.6-2.1l2.5-2.9l2.6-2.4l2.6-3.3l2.5-2.7l2.6-3.6l2.6-2.9l2.6-3.9l2.5-3.2l2.6-4.1l2.6-3.4l2.5-4.4l2.6-3.8l2.6-4.8l2.6-4.3l2.5-5.3l2.6-4.9l2.6-6.1l2.5-5.6l2.6-6.8l2.6-6.4l2.5-7.6l2.6-7l2.6-8.3l2.6-7.7l2.5-8.9l2.6-8.1l2.6-8.7l2.5-6.5l2.6-6.6l2.6-5l2.6-7l2.5-6l2.6-8l2.6-6.4l2.5-8.2l2.6-5.8l2.6-7.5l2.6-4.4l2.5-5.9l2.6-2.4l2.6-4.5l2.5-1.4l2.6-3.9l2.6-.9l2.6-3.5l2.5-.6l2.6-3.2l2.6-.3l2.5-3.1l2.6-.2l2.6-2.9l2.6,0l2.5-2.6l2.6,.3l2.6-2.3l2.5,.8l2.6-1.9l2.6,1.3l2.6-1.2l2.5,1.9l2.6-.5l2.6,2.6l2.5,.1l2.6,3.3l2.6,.8l2.6,3.9l2.5,1.5l2.6,5.1l2.6,3.1l2.5,6.8l2.6,5.2l2.6,8.6l2.6,6.5l2.5,9.2l2.6,7l2.6,9.2l2.5,7l2.6,9.1l2.6,7.5l2.5,9.7l2.6,8.3l2.6,10.2l2.6,8.3l2.5,9.2l2.6,7.3l2.6,8.2l2.5,7.1l2.6,8.2l2.6,7.3l2.6,8.3l2.5,7.3l2.6,8.5l2.6,7.4l2.5,7.9l2.6,6.6l2.6,7l2.6,5.6l2.5,6.2l2.6,5l2.6,5.6l2.5,4.5l2.6,5.3l2.6,4.3l2.6,5.1l2.5,4l2.6,4.9l2.6,3.9l2.5,4.7l2.6,3.6l2.6,4.5l2.6,3.5l2.5,4.2l2.6,3.2l2.6,3.9l2.5,2.8l2.6,3.6l2.6,2.3l2.6,3.1l2.5,1.8l2.6,2.4l2.6,1l2.5,1.5l2.6,0l2.6,.4l2.6-1.2l2.5-1l2.6-2.6l2.6-2.3l2.5-3.9l2.6-3.5l2.6-4.9l2.6-4.4l2.5-6l2.6-5.8l2.6-7.4l2.5-7l2.6-8.4l2.6-7.8l2.5-8.9l2.6-8l2.6-9l2.6-8l2.5-8.8l2.6-7.6l2.6-8.3l2.5-7.1l2.6-7.8l2.6-6.4l2.6-7.1l2.5-6l2.6-6.7l2.6-5.7l2.5-6.6l2.6-5.8l2.6-6.8l2.6-6l2.5-7.1l2.6-6.1l2.6-6.6l2.5-5l2.6-5l2.6-3.6l2.6-4.9l2.5-5.4l2.6-7.5l2.6-7.3l2.5-8.2l2.6-7l2.6-7.7l2.6-6.4l2.5-7.2l2.6-6.2l2.6-7.1l2.5-6.3l2.6-7.2l2.6-6.4l2.6-7.2l2.5-5.8l2.6-6.1l2.6-4.3l2.5-4.1l2.6-2l2.6-1.4l2.6,1l2.5,1.5l2.6,3.8l2.6,4l2.5,5.7l2.6,5l2.6,5.7l2.6,4.4l2.5,5.2l2.6,4.2l2.6,5.3l2.5,4.6l2.6,5.6l2.6,4.8l2.5,5.9l2.6,5l2.6,6l2.6,5l2.5,5.8l2.6,4.8l2.6,5.5l2.5,4.4l2.6,5.1l2.6,3.9l2.6,4.9l2.5,4.6l2.6,6.9l2.6,7.3l2.5,8.1l2.6,6.1l2.6,6.7l2.6,6.2l2.5,7.9l2.6,8.1l2.6,10l2.5,9.5l2.6,10.4l2.6,9.4l2.6,10.5l2.5,10l2.6,11.2l2.6,10.4l2.5,10.9l2.6,9.4l2.6,9.7l2.6,8.4l2.5,9.1l2.6,8l2.6,8.6l2.5,7.3l2.6,7.9l2.6,6.5l2.6,6.9l2.5,5.2l2.6,6l2.6,3.7l2.5,5.1l2.6,2.1l2.6,4.3l2.6,.7l2.5,3.7l2.6-.6l2.6,3.2l2.5-1.5l2.6,2.8l2.6-2.1l2.6,2.4l2.5-2.6l2.6,2.4l2.6-2.9l2.5,2.5"/>
<path d="M163.2,816.5l2.6-1.5l2.5-1.3l2.6-1.7l2.6-1.5l2.6-1.9l2.5-1.7l2.6-2.1l2.6-1.9l2.5-2.4l2.6-2.1l2.6-2.5l2.6-2.3l2.5-2.7l2.6-2.3l2.6-2.8l2.5-2.5l2.6-2.9l2.6-2.7l2.6-3.1l2.5-2.8l2.6-3.4l2.6-3.2l2.5-3.7l2.6-3.6l2.6-4.3l2.6-4.2l2.5-5l2.6-5l2.6-5.9l2.5-5.9l2.6-6.8l2.6-6.8l2.5-7.7l2.6-7.6l2.6-8.5l2.6-8.3l2.5-9.1l2.6-8.7l2.6-8.9l2.5-7.1l2.6-6.7l2.6-5.7l2.6-7l2.5-6.6l2.6-7.8l2.6-6.8l2.5-7.9l2.6-6l2.6-6.8l2.6-4.5l2.5-5.1l2.6-2.6l2.6-3.7l2.5-1.7l2.6-3.2l2.6-1.4l2.6-3.1l2.5-1.2l2.6-2.7l2.6-1l2.5-2.6l2.6-.8l2.6-2.3l2.6-.5l2.5-2.1l2.6-.1l2.6-1.7l2.5,.4l2.6-1.1l2.6,.9l2.6-.4l2.5,1.6l2.6,.2l2.6,2.3l2.5,.9l2.6,2.8l2.6,1.4l2.6,3.5l2.5,2.1l2.6,4.5l2.6,3.6l2.5,6.4l2.6,5.6l2.6,8l2.6,6.9l2.5,8.6l2.6,7.3l2.6,8.6l2.5,7.3l2.6,8.7l2.6,7.7l2.5,9.2l2.6,8.5l2.6,9.7l2.6,8.5l2.5,8.7l2.6,7.5l2.6,8l2.5,7.3l2.6,8.1l2.6,7.6l2.6,8.2l2.5,7.7l2.6,8.3l2.6,7.7l2.5,7.9l2.6,6.8l2.6,6.9l2.6,5.9l2.5,6.1l2.6,5.2l2.6,5.5l2.5,4.7l2.6,5l2.6,4.4l2.6,4.9l2.5,4.2l2.6,4.7l2.6,4l2.5,4.5l2.6,3.8l2.6,4.3l2.6,3.6l2.5,4.1l2.6,3.4l2.6,3.8l2.5,3l2.6,3.4l2.6,2.6l2.6,2.9l2.5,2.1l2.6,2.3l2.6,1.3l2.5,1.4l2.6,.2l2.6,.3l2.6-1.1l2.5-1.1l2.6-2.5l2.6-2.5l2.5-3.8l2.6-3.7l2.6-4.8l2.6-4.7l2.5-5.9l2.6-6.1l2.6-7.3l2.5-7.3l2.6-8.2l2.6-8l2.5-8.7l2.6-8.3l2.6-8.8l2.6-8.1l2.5-8.5l2.6-7.7l2.6-8.1l2.5-7.2l2.6-7.4l2.6-6.6l2.6-6.8l2.5-6.1l2.6-6.5l2.6-5.9l2.5-6.4l2.6-6l2.6-6.6l2.6-6.2l2.5-7.1l2.6-6.4l2.6-6.6l2.5-5.3l2.6-5.1l2.6-4l2.6-5.1l2.5-5.8l2.6-7.4l2.6-7.4l2.5-8l2.6-7.1l2.6-7.4l2.6-6.5l2.5-6.9l2.6-6.2l2.6-6.7l2.5-6.1l2.6-6.9l2.6-6.3l2.6-6.7l2.5-5.8l2.6-5.8l2.6-4.4l2.5-4l2.6-2.1l2.6-1.3l2.6,.8l2.5,1.7l2.6,3.6l2.6,4.3l2.5,5.5l2.6,5.2l2.6,5.4l2.6,4.5l2.5,4.7l2.6,4.2l2.6,5l2.5,4.5l2.6,5.3l2.6,4.9l2.5,5.6l2.6,5.1l2.6,5.8l2.6,5.1l2.5,5.7l2.6,5l2.6,5.4l2.5,4.6l2.6,5l2.6,4.2l2.6,4.8l2.5,4.8l2.6,6.6l2.6,7.4l2.5,7.8l2.6,6.3l2.6,6.6l2.6,6.4l2.5,7.8l2.6,8.3l2.6,9.8l2.5,9.7l2.6,10.2l2.6,9.6l2.6,10.4l2.5,10.1l2.6,11l2.6,10.6l2.5,10.7l2.6,9.6l2.6,9.6l2.6,8.7l2.5,9l2.6,8.3l2.6,8.5l2.5,7.7l2.6,7.8l2.6,6.8l2.6,6.8l2.5,5.5l2.6,5.7l2.6,4.1l2.5,4.6l2.6,2.6l2.6,3.7l2.6,1.2l2.5,2.8l2.6,.1l2.6,2.2l2.5-.8l2.6,1.7l2.6-1.4l2.6,1.3l2.5-1.8l2.6,1.3l2.6-2l2.5,1.3"/>
<path d="M163.2,815.0l2.6-1.7l2.5-1.3l2.6-1.9l2.6-1.5l2.6-2l2.5-1.5l2.6-2.1l2.6-1.5l2.5-2.2l2.6-1.6l2.6-2.3l2.6-1.7l2.5-2.4l2.6-1.9l2.6-2.6l2.5-2.1l2.6-2.9l2.6-2.5l2.6-3.4l2.5-2.9l2.6-3.9l2.6-3.5l2.5-4.5l2.6-4.1l2.6-5.2l2.6-4.8l2.5-6l2.6-5.6l2.6-6.8l2.5-6.4l2.6-7.5l2.6-7.1l2.5-8.2l2.6-7.5l2.6-8.7l2.6-7.9l2.5-9l2.6-8.1l2.6-8.6l2.5-6.4l2.6-6.6l2.6-4.9l2.6-6.7l2.5-5.6l2.6-7.5l2.6-5.9l2.5-7.7l2.6-5.2l2.6-6.9l2.6-3.9l2.5-5.5l2.6-2.1l2.6-4.4l2.5-1.2l2.6-4l2.6-1l2.6-3.8l2.5-.8l2.6-3.5l2.6-.5l2.5-3.2l2.6-.3l2.6-2.9l2.6,.1l2.5-2.6l2.6,.6l2.6-2.1l2.5,1.1l2.6-1.6l2.6,1.7l2.6-1l2.5,2.3l2.6-.3l2.6,2.9l2.5,.3l2.6,3.4l2.6,.7l2.6,4l2.5,1.4l2.6,4.9l2.6,2.8l2.5,6.7l2.6,4.9l2.6,8.3l2.6,6.3l2.5,9l2.6,6.8l2.6,9l2.5,6.9l2.6,9.1l2.6,7.4l2.5,9.6l2.6,8.2l2.6,10l2.6,8.3l2.5,9.1l2.6,7.5l2.6,8.5l2.5,7.4l2.6,8.6l2.6,7.7l2.6,8.6l2.5,7.7l2.6,8.7l2.6,7.6l2.5,8.1l2.6,6.6l2.6,7.1l2.6,5.6l2.5,6.2l2.6,4.9l2.6,5.5l2.5,4.3l2.6,5.2l2.6,4l2.6,4.9l2.5,3.9l2.6,4.8l2.6,3.7l2.5,4.6l2.6,3.6l2.6,4.5l2.6,3.4l2.5,4.3l2.6,3.3l2.6,4l2.5,2.9l2.6,3.7l2.6,2.4l2.6,3.2l2.5,1.9l2.6,2.5l2.6,1.1l2.5,1.6l2.6,0l2.6,.4l2.6-1.3l2.5-1l2.6-2.8l2.6-2.4l2.5-4l2.6-3.6l2.6-5.1l2.6-4.5l2.5-6.1l2.6-5.8l2.6-7.5l2.5-7.1l2.6-8.4l2.6-7.8l2.5-8.8l2.6-8l2.6-8.9l2.6-7.8l2.5-8.6l2.6-7.5l2.6-8.1l2.5-6.9l2.6-7.6l2.6-6.2l2.6-7l2.5-5.9l2.6-6.6l2.6-5.7l2.5-6.7l2.6-5.7l2.6-6.9l2.6-6.1l2.5-7.3l2.6-6.3l2.6-6.9l2.5-5.3l2.6-5.5l2.6-4.1l2.6-5.5l2.5-5.7l2.6-7.6l2.6-7.2l2.5-8.2l2.6-6.8l2.6-7.6l2.6-6.3l2.5-7l2.6-6l2.6-6.8l2.5-5.9l2.6-7l2.6-6l2.6-6.8l2.5-5.5l2.6-5.9l2.6-4.1l2.5-4.1l2.6-1.8l2.6-1.4l2.6,1l2.5,1.4l2.6,3.7l2.6,3.9l2.5,5.5l2.6,4.7l2.6,5.3l2.6,4l2.5,4.8l2.6,3.9l2.6,5l2.5,4.2l2.6,5.4l2.6,4.8l2.5,5.8l2.6,5.1l2.6,6l2.6,5.2l2.5,6l2.6,5l2.6,5.8l2.5,4.7l2.6,5.4l2.6,4.2l2.6,5.1l2.5,4.7l2.6,6.9l2.6,7.3l2.5,8l2.6,6.2l2.6,6.8l2.6,6.2l2.5,8.1l2.6,8l2.6,10l2.5,9.5l2.6,10.3l2.6,9.4l2.6,10.6l2.5,9.9l2.6,11.1l2.6,10.3l2.5,10.9l2.6,9.3l2.6,9.8l2.6,8.4l2.5,9.2l2.6,8l2.6,8.7l2.5,7.4l2.6,7.9l2.6,6.6l2.6,7l2.5,5.2l2.6,6.1l2.6,3.6l2.5,5.2l2.6,2l2.6,4.2l2.6,.6l2.5,3.6l2.6-.8l2.6,3.1l2.5-1.7l2.6,2.6l2.6-2.3l2.6,2.4l2.5-2.8l2.6,2.3l2.6-3l2.5,2.6"/>
<path d="M163.2,812.6l2.6-1.6l2.5-1.4l2.6-1.7l2.6-1.4l2.6-1.7l2.5-1.5l2.6-1.9l2.6-1.6l2.5-1.9l2.6-1.8l2.6-2.2l2.6-2l2.5-2.4l2.6-2.3l2.6-2.7l2.5-2.6l2.6-3.1l2.6-2.9l2.6-3.4l2.5-3.3l2.6-3.8l2.6-3.6l2.5-4.2l2.6-4.1l2.6-4.7l2.6-4.6l2.5-5.3l2.6-5.3l2.6-6l2.5-6l2.6-6.8l2.6-6.8l2.5-7.6l2.6-7.6l2.6-8.4l2.6-8.2l2.5-9l2.6-8.7l2.6-8.8l2.5-7.3l2.6-7l2.6-6.1l2.6-7.4l2.5-6.9l2.6-8.1l2.6-7.1l2.5-7.9l2.6-6.3l2.6-6.7l2.6-4.8l2.5-5.2l2.6-3l2.6-3.7l2.5-2l2.6-3.1l2.6-1.5l2.6-2.7l2.5-1l2.6-2.2l2.6-.6l2.5-1.8l2.6-.3l2.6-1.6l2.6,0l2.5-1.3l2.6,.2l2.6-1l2.5,.6l2.6-.6l2.6,1l2.6-.1l2.5,1.5l2.6,.3l2.6,2.1l2.5,.9l2.6,2.6l2.6,1.5l2.6,3.1l2.5,2l2.6,4.1l2.6,3.5l2.5,5.9l2.6,5.7l2.6,7.9l2.6,7.1l2.5,8.6l2.6,7.5l2.6,8.7l2.5,7.7l2.6,8.7l2.6,8.1l2.5,9.2l2.6,8.7l2.6,9.6l2.6,8.6l2.5,8.7l2.6,7.7l2.6,8l2.5,7.5l2.6,8.1l2.6,7.7l2.6,8.2l2.5,7.7l2.6,8.1l2.6,7.6l2.5,7.6l2.6,6.7l2.6,6.7l2.6,5.8l2.5,6l2.6,5.2l2.6,5.4l2.5,4.8l2.6,5.1l2.6,4.5l2.6,4.9l2.5,4.4l2.6,4.7l2.6,4.2l2.5,4.6l2.6,4l2.6,4.3l2.6,3.8l2.5,4.1l2.6,3.5l2.6,3.8l2.5,3.1l2.6,3.3l2.6,2.6l2.6,2.8l2.5,2l2.6,2.1l2.6,1.2l2.5,1.1l2.6,.1l2.6,0l2.6-1.1l2.5-1.4l2.6-2.6l2.6-2.7l2.5-3.7l2.6-3.7l2.6-4.7l2.6-4.5l2.5-5.6l2.6-5.8l2.6-7l2.5-7.2l2.6-8l2.6-7.8l2.5-8.5l2.6-8.1l2.6-8.6l2.6-8.1l2.5-8.3l2.6-7.8l2.6-8l2.5-7.2l2.6-7.4l2.6-6.6l2.6-6.9l2.5-6.1l2.6-6.5l2.6-6l2.5-6.4l2.6-6l2.6-6.7l2.6-6.4l2.5-7.2l2.6-6.6l2.6-6.8l2.5-5.8l2.6-5.5l2.6-4.5l2.6-5.4l2.5-5.9l2.6-7.2l2.6-7.2l2.5-7.8l2.6-7.1l2.6-7.3l2.6-6.5l2.5-6.9l2.6-6.4l2.6-6.7l2.5-6.3l2.6-6.7l2.6-6.3l2.6-6.5l2.5-5.6l2.6-5.5l2.6-4.1l2.5-3.6l2.6-1.8l2.6-.9l2.6,.9l2.5,1.7l2.6,3.3l2.6,4l2.5,5l2.6,4.8l2.6,5.1l2.6,4.3l2.5,4.8l2.6,4.3l2.6,5.1l2.5,4.7l2.6,5.5l2.6,5.1l2.5,5.8l2.6,5.4l2.6,5.8l2.6,5.3l2.5,5.7l2.6,5l2.6,5.4l2.5,4.7l2.6,4.9l2.6,4.3l2.6,4.8l2.5,4.9l2.6,6.5l2.6,7.3l2.5,7.6l2.6,6.5l2.6,6.8l2.6,6.7l2.5,7.9l2.6,8.4l2.6,9.8l2.5,9.7l2.6,10.2l2.6,9.7l2.6,10.3l2.5,10.2l2.6,11l2.6,10.4l2.5,10.7l2.6,9.5l2.6,9.5l2.6,8.7l2.5,8.9l2.6,8.2l2.6,8.3l2.5,7.5l2.6,7.6l2.6,6.7l2.6,6.7l2.5,5.4l2.6,5.6l2.6,4.1l2.5,4.6l2.6,2.7l2.6,3.5l2.6,1.4l2.5,2.7l2.6,.4l2.6,2l2.5-.4l2.6,1.6l2.6-1l2.6,1.3l2.5-1.4l2.6,1.2l2.6-1.5l2.5,1.2"/>
<path d="M163.2,810.2l2.6-1.8l2.5-1.5l2.6-1.8l2.6-1.5l2.6-1.9l2.5-1.7l2.6-2l2.6-1.8l2.5-2.2l2.6-1.9l2.6-2.4l2.6-2.2l2.5-2.6l2.6-2.5l2.6-3l2.5-2.8l2.6-3.4l2.6-3.1l2.6-3.8l2.5-3.6l2.6-4.2l2.6-3.9l2.5-4.6l2.6-4.4l2.6-5.2l2.6-4.9l2.5-5.7l2.6-5.6l2.6-6.4l2.5-6.2l2.6-7.1l2.6-6.8l2.5-7.5l2.6-7.3l2.6-7.9l2.6-7.6l2.5-8.3l2.6-7.8l2.6-8l2.5-6.4l2.6-6.2l2.6-5.1l2.6-6.3l2.5-5.7l2.6-7l2.6-5.9l2.5-7l2.6-5.3l2.6-6l2.6-4l2.5-4.6l2.6-2.3l2.6-3.4l2.5-1.5l2.6-3l2.6-1.4l2.6-2.9l2.5-1l2.6-2.7l2.6-.8l2.5-2.3l2.6-.6l2.6-2.2l2.6-.4l2.5-1.8l2.6-.1l2.6-1.5l2.5,.4l2.6-1l2.6,.9l2.6-.5l2.5,1.5l2.6,.2l2.6,2.1l2.5,.8l2.6,2.7l2.6,1.3l2.6,3.3l2.5,1.9l2.6,4.3l2.6,3.4l2.5,6.1l2.6,5.4l2.6,7.8l2.6,6.8l2.5,8.4l2.6,7.2l2.6,8.5l2.5,7.3l2.6,8.6l2.6,7.6l2.5,9l2.6,8.3l2.6,9.3l2.6,8.1l2.5,8.4l2.6,7.3l2.6,8l2.5,7.4l2.6,8.2l2.6,7.8l2.6,8.4l2.5,7.8l2.6,8.4l2.6,7.7l2.5,7.9l2.6,7l2.6,7l2.6,6.1l2.5,6.3l2.6,5.4l2.6,5.7l2.5,4.9l2.6,5.3l2.6,4.6l2.6,5.1l2.5,4.3l2.6,4.8l2.6,4.2l2.5,4.6l2.6,3.9l2.6,4.4l2.6,3.7l2.5,4.1l2.6,3.5l2.6,3.8l2.5,3l2.6,3.4l2.6,2.6l2.6,2.9l2.5,2l2.6,2.1l2.6,1.2l2.5,1.3l2.6,.1l2.6,.1l2.6-1.2l2.5-1.3l2.6-2.6l2.6-2.7l2.5-3.9l2.6-3.8l2.6-4.8l2.6-4.6l2.5-5.8l2.6-5.9l2.6-7.3l2.5-7.2l2.6-8.2l2.6-8l2.5-8.6l2.6-8.2l2.6-8.8l2.6-8l2.5-8.5l2.6-7.8l2.6-8l2.5-7.2l2.6-7.5l2.6-6.5l2.6-6.8l2.5-6l2.6-6.5l2.6-5.8l2.5-6.5l2.6-5.9l2.6-6.7l2.6-6.4l2.5-7.3l2.6-6.8l2.6-6.9l2.5-5.9l2.6-5.8l2.6-4.8l2.6-5.6l2.5-5.9l2.6-7.2l2.6-7.1l2.5-7.7l2.6-6.9l2.6-7.2l2.6-6.4l2.5-6.9l2.6-6.1l2.6-6.6l2.5-6.1l2.6-6.6l2.6-6l2.6-6.4l2.5-5.4l2.6-5.4l2.6-4l2.5-3.6l2.6-1.8l2.6-1l2.6,1l2.5,1.6l2.6,3.3l2.6,3.8l2.5,4.9l2.6,4.4l2.6,4.8l2.6,3.9l2.5,4.3l2.6,3.9l2.6,4.5l2.5,4.2l2.6,5.1l2.6,4.7l2.5,5.5l2.6,5.1l2.6,5.7l2.6,5.3l2.5,5.8l2.6,5.2l2.6,5.7l2.5,5l2.6,5.5l2.6,4.7l2.6,5.4l2.5,5.3l2.6,6.8l2.6,7.2l2.5,7.8l2.6,6.7l2.6,7.1l2.6,6.9l2.5,8.2l2.6,8.5l2.6,9.8l2.5,9.7l2.6,10.3l2.6,9.7l2.6,10.4l2.5,10.2l2.6,10.9l2.6,10.4l2.5,10.6l2.6,9.5l2.6,9.5l2.6,8.6l2.5,8.9l2.6,8.1l2.6,8.3l2.5,7.4l2.6,7.7l2.6,6.6l2.6,6.6l2.5,5.4l2.6,5.7l2.6,4l2.5,4.7l2.6,2.6l2.6,3.6l2.6,1.3l2.5,2.8l2.6,.2l2.6,2.2l2.5-.6l2.6,1.7l2.6-1.3l2.6,1.4l2.5-1.6l2.6,1.3l2.6-1.7l2.5,1.4"/>
<path d="M163.2,810.1l2.6-2l2.5-1.7l2.6-2.1l2.6-1.9l2.6-2.3l2.5-2l2.6-2.4l2.6-2.2l2.5-2.6l2.6-2.3l2.6-2.8l2.6-2.5l2.5-3l2.6-2.6l2.6-3.2l2.5-2.9l2.6-3.4l2.6-3.1l2.6-3.7l2.5-3.3l2.6-4l2.6-3.6l2.5-4.3l2.6-4.1l2.6-4.8l2.6-4.7l2.5-5.4l2.6-5.3l2.6-6.2l2.5-6.1l2.6-6.9l2.6-6.8l2.5-7.5l2.6-7.3l2.6-8l2.6-7.6l2.5-8.4l2.6-7.9l2.6-8.1l2.5-6.6l2.6-6.6l2.6-5.3l2.6-6.6l2.5-5.9l2.6-7.1l2.6-6l2.5-7.1l2.6-5.3l2.6-6.1l2.6-4l2.5-4.7l2.6-2.3l2.6-3.5l2.5-1.4l2.6-3.1l2.6-1.2l2.6-2.8l2.5-.8l2.6-2.4l2.6-.5l2.5-2.2l2.6-.3l2.6-1.9l2.6-.1l2.5-1.7l2.6,.3l2.6-1.4l2.5,.6l2.6-1l2.6,1.1l2.6-.5l2.5,1.7l2.6,0l2.6,2.2l2.5,.7l2.6,2.8l2.6,1.2l2.6,3.2l2.5,1.8l2.6,4.3l2.6,3.2l2.5,6.1l2.6,5.4l2.6,7.8l2.6,6.7l2.5,8.5l2.6,7.2l2.6,8.6l2.5,7.2l2.6,8.7l2.6,7.6l2.5,9l2.6,8.2l2.6,9.2l2.6,8l2.5,8.3l2.6,7.3l2.6,7.9l2.5,7.4l2.6,8.2l2.6,7.9l2.6,8.4l2.5,7.8l2.6,8.4l2.6,7.7l2.5,7.9l2.6,6.9l2.6,7.1l2.6,6.2l2.5,6.4l2.6,5.4l2.6,5.9l2.5,5l2.6,5.4l2.6,4.7l2.6,5.2l2.5,4.4l2.6,5l2.6,4.2l2.5,4.7l2.6,4l2.6,4.5l2.6,3.8l2.5,4.2l2.6,3.5l2.6,3.9l2.5,3l2.6,3.5l2.6,2.5l2.6,2.9l2.5,1.9l2.6,2.2l2.6,1.1l2.5,1.2l2.6,0l2.6,0l2.6-1.4l2.5-1.5l2.6-2.9l2.6-2.9l2.5-4l2.6-4l2.6-5.1l2.6-4.8l2.5-5.9l2.6-6l2.6-7.4l2.5-7.3l2.6-8.4l2.6-8l2.5-8.7l2.6-8.3l2.6-8.7l2.6-8.1l2.5-8.4l2.6-7.6l2.6-8l2.5-6.9l2.6-7.2l2.6-6.3l2.6-6.5l2.5-5.7l2.6-6.3l2.6-5.6l2.5-6.2l2.6-5.8l2.6-6.6l2.6-6.3l2.5-7.2l2.6-6.6l2.6-6.9l2.5-5.7l2.6-5.7l2.6-4.6l2.6-5.5l2.5-5.9l2.6-7.3l2.6-7.1l2.5-7.9l2.6-7l2.6-7.4l2.6-6.6l2.5-7.1l2.6-6.3l2.6-6.9l2.5-6.2l2.6-6.9l2.6-6.1l2.6-6.5l2.5-5.4l2.6-5.3l2.6-3.9l2.5-3.4l2.6-1.6l2.6-.9l2.6,1.1l2.5,1.5l2.6,3.3l2.6,3.5l2.5,4.6l2.6,4.1l2.6,4.6l2.6,3.8l2.5,4.3l2.6,3.8l2.6,4.6l2.5,4.3l2.6,5.2l2.6,4.9l2.5,5.8l2.6,5.2l2.6,6l2.6,5.4l2.5,6.1l2.6,5.3l2.6,5.9l2.5,5.1l2.6,5.5l2.6,4.8l2.6,5.4l2.5,5.3l2.6,6.8l2.6,7.2l2.5,7.8l2.6,6.6l2.6,7.1l2.6,6.9l2.5,8.2l2.6,8.4l2.6,9.8l2.5,9.7l2.6,10.2l2.6,9.7l2.6,10.4l2.5,10.1l2.6,10.9l2.6,10.3l2.5,10.6l2.6,9.4l2.6,9.5l2.6,8.5l2.5,8.8l2.6,8l2.6,8.3l2.5,7.4l2.6,7.5l2.6,6.6l2.6,6.6l2.5,5.4l2.6,5.6l2.6,4l2.5,4.7l2.6,2.5l2.6,3.7l2.6,1.1l2.5,2.9l2.6,0l2.6,2.3l2.5-.8l2.6,1.8l2.6-1.4l2.6,1.5l2.5-1.8l2.6,1.4l2.6-1.9l2.5,1.6"/>
<path d="M163.2,809.2l2.6-2l2.5-1.7l2.6-2l2.6-1.8l2.6-2.1l2.5-1.9l2.6-2.3l2.6-2.1l2.5-2.4l2.6-2.3l2.6-2.7l2.6-2.5l2.5-3.1l2.6-2.8l2.6-3.4l2.5-3.1l2.6-3.7l2.6-3.5l2.6-4l2.5-3.8l2.6-4.3l2.6-4l2.5-4.6l2.6-4.2l2.6-5l2.6-4.6l2.5-5.4l2.6-5.2l2.6-5.9l2.5-5.8l2.6-6.6l2.6-6.3l2.5-7l2.6-6.8l2.6-7.4l2.6-7.2l2.5-7.9l2.6-7.4l2.6-7.8l2.5-6.4l2.6-6.2l2.6-5.2l2.6-6.5l2.5-6.1l2.6-7.3l2.6-6.4l2.5-7.5l2.6-5.8l2.6-6.6l2.6-4.5l2.5-5.2l2.6-2.9l2.6-3.9l2.5-1.9l2.6-3.4l2.6-1.5l2.6-3l2.5-.9l2.6-2.5l2.6-.5l2.5-2l2.6-.2l2.6-1.7l2.6,.2l2.5-1.5l2.6,.5l2.6-1.1l2.5,.9l2.6-.7l2.6,1.2l2.6-.3l2.5,1.7l2.6,.3l2.6,2.3l2.5,.7l2.6,2.8l2.6,1.2l2.6,3.3l2.5,1.8l2.6,4.1l2.6,3.3l2.5,6l2.6,5.4l2.6,7.8l2.6,6.8l2.5,8.6l2.6,7.3l2.6,8.6l2.5,7.4l2.6,8.7l2.6,7.8l2.5,9.1l2.6,8.3l2.6,9.4l2.6,8.1l2.5,8.5l2.6,7.3l2.6,8l2.5,7.4l2.6,8.2l2.6,7.7l2.6,8.3l2.5,7.7l2.6,8.2l2.6,7.5l2.5,7.7l2.6,6.7l2.6,6.8l2.6,6l2.5,6.1l2.6,5.4l2.6,5.7l2.5,4.9l2.6,5.3l2.6,4.7l2.6,5.2l2.5,4.5l2.6,5l2.6,4.3l2.5,4.8l2.6,4.1l2.6,4.7l2.6,3.9l2.5,4.4l2.6,3.6l2.6,4l2.5,3.2l2.6,3.5l2.6,2.7l2.6,2.9l2.5,2l2.6,2.2l2.6,1.1l2.5,1.2l2.6,0l2.6-.1l2.6-1.4l2.5-1.6l2.6-2.9l2.6-3l2.5-4.2l2.6-4.1l2.6-5l2.6-4.8l2.5-5.9l2.6-6.1l2.6-7.3l2.5-7.3l2.6-8.2l2.6-7.9l2.5-8.7l2.6-8.1l2.6-8.7l2.6-7.9l2.5-8.4l2.6-7.5l2.6-7.9l2.5-7l2.6-7.2l2.6-6.2l2.6-6.6l2.5-5.9l2.6-6.3l2.6-5.7l2.5-6.3l2.6-5.9l2.6-6.7l2.6-6.4l2.5-7.3l2.6-6.8l2.6-7l2.5-6l2.6-6l2.6-5l2.6-5.8l2.5-6l2.6-7.2l2.6-7.1l2.5-7.7l2.6-6.9l2.6-7.3l2.6-6.5l2.5-6.9l2.6-6.2l2.6-6.7l2.5-6.1l2.6-6.6l2.6-6l2.6-6.3l2.5-5.3l2.6-5.3l2.6-3.8l2.5-3.3l2.6-1.6l2.6-.8l2.6,1l2.5,1.6l2.6,3.2l2.6,3.5l2.5,4.6l2.6,4.1l2.6,4.5l2.6,3.8l2.5,4.4l2.6,3.9l2.6,4.7l2.5,4.4l2.6,5.3l2.6,5l2.5,5.9l2.6,5.4l2.6,6l2.6,5.5l2.5,6.1l2.6,5.3l2.6,5.8l2.5,5l2.6,5.4l2.6,4.6l2.6,5.3l2.5,5.1l2.6,6.7l2.6,7l2.5,7.6l2.6,6.6l2.6,7l2.6,6.9l2.5,8.1l2.6,8.4l2.6,9.8l2.5,9.6l2.6,10.3l2.6,9.6l2.6,10.5l2.5,10l2.6,10.9l2.6,10.2l2.5,10.6l2.6,9.4l2.6,9.6l2.6,8.6l2.5,9l2.6,8.1l2.6,8.4l2.5,7.5l2.6,7.7l2.6,6.7l2.6,6.8l2.5,5.5l2.6,5.7l2.6,4.1l2.5,4.7l2.6,2.5l2.6,3.6l2.6,1.2l2.5,2.8l2.6,0l2.6,2.2l2.5-.9l2.6,1.7l2.6-1.4l2.6,1.3l2.5-1.8l2.6,1.3l2.6-1.9l2.5,1.5"/>
<path d="M163.2,808.0l2.6-2.3l2.5-2l2.6-2.4l2.6-2.1l2.6-2.5l2.5-2.1l2.6-2.7l2.6-2.2l2.5-2.7l2.6-2.3l2.6-2.8l2.6-2.4l2.5-2.9l2.6-2.5l2.6-3.1l2.5-2.6l2.6-3.3l2.6-2.8l2.6-3.6l2.5-3l2.6-3.9l2.6-3.3l2.5-4.3l2.6-3.8l2.6-4.8l2.6-4.5l2.5-5.5l2.6-5.2l2.6-6.4l2.5-6l2.6-7.2l2.6-6.8l2.5-7.8l2.6-7.3l2.6-8.4l2.6-7.7l2.5-8.7l2.6-8l2.6-8.5l2.5-6.8l2.6-7l2.6-5.6l2.6-7.1l2.5-5.9l2.6-7.6l2.6-5.8l2.5-7.4l2.6-5l2.6-6.3l2.6-3.6l2.5-5l2.6-1.9l2.6-3.8l2.5-1l2.6-3.3l2.6-.7l2.6-3l2.5-.2l2.6-2.6l2.6,.1l2.5-2.3l2.6,.3l2.6-2.1l2.6,.6l2.5-1.9l2.6,.8l2.6-1.5l2.5,1.1l2.6-1.1l2.6,1.6l2.6-.7l2.5,2.1l2.6-.1l2.6,2.7l2.5,.4l2.6,3.2l2.6,.9l2.6,3.7l2.5,1.5l2.6,4.5l2.6,2.9l2.5,6.3l2.6,5.1l2.6,8.1l2.6,6.4l2.5,8.9l2.6,6.8l2.6,8.9l2.5,7l2.6,8.9l2.6,7.4l2.5,9.2l2.6,7.9l2.6,9.4l2.6,7.7l2.5,8.5l2.6,7l2.6,8l2.5,7.3l2.6,8.4l2.6,7.7l2.6,8.6l2.5,7.7l2.6,8.5l2.6,7.5l2.5,8l2.6,6.8l2.6,7.2l2.6,6l2.5,6.5l2.6,5.3l2.6,6l2.5,4.9l2.6,5.5l2.6,4.6l2.6,5.3l2.5,4.3l2.6,5l2.6,4.1l2.5,4.9l2.6,3.8l2.6,4.7l2.6,3.6l2.5,4.4l2.6,3.4l2.6,4l2.5,3l2.6,3.6l2.6,2.4l2.6,3.1l2.5,1.8l2.6,2.3l2.6,1l2.5,1.3l2.6,0l2.6,.1l2.6-1.4l2.5-1.4l2.6-2.9l2.6-2.7l2.5-4.2l2.6-3.8l2.6-5.1l2.6-4.6l2.5-6l2.6-5.9l2.6-7.4l2.5-7.2l2.6-8.5l2.6-7.9l2.5-8.9l2.6-8.1l2.6-9l2.6-7.9l2.5-8.7l2.6-7.5l2.6-8.1l2.5-6.9l2.6-7.4l2.6-6.1l2.6-6.6l2.5-5.6l2.6-6.4l2.6-5.4l2.5-6.3l2.6-5.7l2.6-6.7l2.6-6.3l2.5-7.4l2.6-6.6l2.6-7.1l2.5-5.8l2.6-6.1l2.6-4.7l2.6-5.9l2.5-5.9l2.6-7.3l2.6-7l2.5-7.8l2.6-6.9l2.6-7.5l2.6-6.5l2.5-7.2l2.6-6.2l2.6-7l2.5-6.1l2.6-6.9l2.6-5.8l2.6-6.5l2.5-5.1l2.6-5.2l2.6-3.5l2.5-3.4l2.6-1.3l2.6-.8l2.6,1.2l2.5,1.5l2.6,3.3l2.6,3.3l2.5,4.7l2.6,3.9l2.6,4.7l2.6,3.6l2.5,4.5l2.6,3.8l2.6,4.8l2.5,4.2l2.6,5.3l2.6,4.7l2.5,5.8l2.6,5.1l2.6,6l2.6,5.2l2.5,6.1l2.6,5.2l2.6,5.9l2.5,4.9l2.6,5.7l2.6,4.7l2.6,5.6l2.5,5.2l2.6,6.9l2.6,7l2.5,7.9l2.6,6.6l2.6,7.3l2.6,6.9l2.5,8.3l2.6,8.4l2.6,9.9l2.5,9.5l2.6,10.4l2.6,9.5l2.6,10.5l2.5,9.9l2.6,11l2.6,10l2.5,10.5l2.6,9.2l2.6,9.6l2.6,8.4l2.5,8.9l2.6,7.8l2.6,8.4l2.5,7.2l2.6,7.7l2.6,6.5l2.6,6.8l2.5,5.3l2.6,6l2.6,3.9l2.5,5.1l2.6,2.3l2.6,4.1l2.6,.9l2.5,3.4l2.6-.3l2.6,2.9l2.5-1.3l2.6,2.4l2.6-1.9l2.6,2.2l2.5-2.4l2.6,2.1l2.6-2.6l2.5,2.3"/>
<path d="M163.2,805.6l2.6-2.4l2.5-2.2l2.6-2.6l2.6-2.5l2.6-2.7l2.5-2.7l2.6-3l2.6-2.9l2.5-3.2l2.6-3l2.6-3.4l2.6-3.2l2.5-3.5l2.6-3.3l2.6-3.6l2.5-3.3l2.6-3.7l2.6-3.4l2.6-3.7l2.5-3.5l2.6-3.9l2.6-3.6l2.5-4.1l2.6-3.9l2.6-4.6l2.6-4.5l2.5-5.2l2.6-5.3l2.6-6.1l2.5-6.2l2.6-7.1l2.6-7.1l2.5-8l2.6-8l2.6-8.7l2.6-8.5l2.5-9.1l2.6-8.7l2.6-9l2.5-8.1l2.6-8.2l2.6-7.4l2.6-8l2.5-7.2l2.6-7.6l2.6-6.5l2.5-6.8l2.6-4.9l2.6-5l2.6-3.1l2.5-3.3l2.6-1.4l2.6-2l2.5-.3l2.6-1.2l2.6,.2l2.6-.7l2.5,1l2.6,.2l2.6,1.6l2.5,.4l2.6,1.8l2.6,.5l2.6,1.6l2.5,.3l2.6,1.4l2.6,0l2.5,1.1l2.6-.3l2.6,.8l2.6-.5l2.5,.9l2.6-.1l2.6,1.4l2.5,.5l2.6,2.1l2.6,1.1l2.6,2.8l2.5,2l2.6,3.9l2.6,3.6l2.5,5.8l2.6,5.6l2.6,7.4l2.6,6.8l2.5,8.1l2.6,7.2l2.6,8.2l2.5,7.2l2.6,8.2l2.6,7.6l2.5,8.6l2.6,8l2.6,8.9l2.6,7.8l2.5,7.8l2.6,6.9l2.6,7.4l2.5,7l2.6,7.9l2.6,7.6l2.6,8.1l2.5,7.6l2.6,8.1l2.6,7.5l2.5,7.5l2.6,6.8l2.6,6.9l2.6,6.1l2.5,6.3l2.6,5.6l2.6,5.8l2.5,5.1l2.6,5.5l2.6,4.9l2.6,5.2l2.5,4.7l2.6,5l2.6,4.4l2.5,4.8l2.6,4.3l2.6,4.5l2.6,4l2.5,4.3l2.6,3.7l2.6,4l2.5,3.2l2.6,3.5l2.6,2.7l2.6,2.8l2.5,2.1l2.6,2l2.6,1.2l2.5,1l2.6,.1l2.6-.2l2.6-1.4l2.5-1.7l2.6-2.8l2.6-3.1l2.5-4.1l2.6-4.2l2.6-4.9l2.6-4.9l2.5-5.7l2.6-6.1l2.6-7.2l2.5-7.4l2.6-8.2l2.6-8.1l2.5-8.6l2.6-8.3l2.6-8.6l2.6-8l2.5-8.3l2.6-7.7l2.6-7.7l2.5-7.1l2.6-7l2.6-6.3l2.6-6.4l2.5-5.8l2.6-6.1l2.6-5.7l2.5-6.2l2.6-5.9l2.6-6.6l2.6-6.5l2.5-7.4l2.6-7l2.6-7.2l2.5-6.4l2.6-6.3l2.6-5.5l2.6-6.1l2.5-6.3l2.6-7.1l2.6-7.1l2.5-7.4l2.6-7l2.6-7.1l2.6-6.6l2.5-6.9l2.6-6.3l2.6-6.5l2.5-6.1l2.6-6.4l2.6-5.8l2.6-5.9l2.5-5.1l2.6-4.8l2.6-3.5l2.5-3l2.6-1.4l2.6-.6l2.6,1l2.5,1.7l2.6,3l2.6,3.4l2.5,4.1l2.6,3.8l2.6,4l2.6,3.5l2.5,3.9l2.6,3.6l2.6,4.3l2.5,4.1l2.6,4.9l2.6,4.8l2.5,5.6l2.6,5.3l2.6,5.9l2.6,5.6l2.5,6.1l2.6,5.6l2.6,6l2.5,5.5l2.6,5.7l2.6,5.3l2.6,5.7l2.5,5.6l2.6,6.8l2.6,7.1l2.5,7.6l2.6,6.9l2.6,7.3l2.6,7.3l2.5,8.2l2.6,8.6l2.6,9.8l2.5,9.7l2.6,10.1l2.6,9.8l2.6,10.4l2.5,10.1l2.6,10.6l2.6,10.2l2.5,10.3l2.6,9.4l2.6,9.4l2.6,8.6l2.5,8.7l2.6,8.1l2.6,8.2l2.5,7.4l2.6,7.5l2.6,6.7l2.6,6.7l2.5,5.6l2.6,5.7l2.6,4.2l2.5,4.6l2.6,2.9l2.6,3.4l2.6,1.6l2.5,2.5l2.6,.4l2.6,1.8l2.5-.4l2.6,1.2l2.6-1l2.6,.9l2.5-1.4l2.6,.7l2.6-1.5l2.5,.8"/>
<path d="M163.2,803.8l2.6-2.1l2.5-2.8l2.6-2.3l2.6-2.9l2.6-2.4l2.5-3l2.6-2.5l2.6-3.2l2.5-2.7l2.6-3.4l2.6-2.8l2.6-3.5l2.5-3l2.6-3.7l2.6-3l2.5-3.9l2.6-3.2l2.6-4l2.6-3.4l2.5-4.2l2.6-3.5l2.6-4.4l2.5-3.7l2.6-4.8l2.6-4.1l2.6-5.3l2.5-4.8l2.6-6l2.6-5.5l2.5-6.9l2.6-6.4l2.6-7.8l2.5-7.2l2.6-8.5l2.6-7.8l2.6-9l2.5-8.2l2.6-9.2l2.6-8l2.5-8.9l2.6-7.1l2.6-8.4l2.6-6.8l2.5-8.4l2.6-6.3l2.6-7.9l2.5-5.3l2.6-6.7l2.6-3.2l2.6-5l2.5-1.5l2.6-3.6l2.6,0l2.5-2.7l2.6,.8l2.6-2l2.6,1.4l2.5-1.1l2.6,2.3l2.6-.5l2.5,2.9l2.6-.3l2.6,3l2.6-.3l2.5,2.8l2.6-.5l2.6,2.5l2.5-.8l2.6,2.2l2.6-1.1l2.6,1.9l2.5-1.2l2.6,2.2l2.6-.8l2.5,2.7l2.6-.3l2.6,3.3l2.6,.5l2.5,4l2.6,1.5l2.6,5.4l2.5,3.4l2.6,7.3l2.6,5.2l2.6,8.4l2.5,6.1l2.6,8.6l2.6,6.4l2.5,8.6l2.6,6.6l2.6,8.9l2.5,7.1l2.6,9.1l2.6,7.4l2.6,8.8l2.5,6.7l2.6,8l2.6,6.6l2.5,8.2l2.6,7.4l2.6,8.8l2.6,7.8l2.5,8.7l2.6,7.6l2.6,8.5l2.5,7.2l2.6,7.8l2.6,6.4l2.6,7.1l2.5,5.6l2.6,6.5l2.6,5.1l2.5,5.9l2.6,4.6l2.6,5.6l2.6,4.4l2.5,5.2l2.6,4.1l2.6,5.1l2.5,3.8l2.6,4.8l2.6,3.7l2.6,4.6l2.5,3.4l2.6,4.3l2.6,3.1l2.5,3.9l2.6,2.7l2.6,3.4l2.6,2.1l2.5,2.8l2.6,1.4l2.6,1.9l2.5,.4l2.6,.9l2.6-.8l2.6-.5l2.5-2.3l2.6-2l2.6-3.7l2.5-3.3l2.6-4.8l2.6-4.1l2.6-5.5l2.5-5l2.6-6.9l2.6-6.5l2.5-8.2l2.6-7.5l2.6-8.9l2.5-8l2.6-9.1l2.6-8.1l2.6-8.9l2.5-7.7l2.6-8.5l2.6-7.1l2.5-7.8l2.6-6.4l2.6-6.9l2.6-5.6l2.5-6.5l2.6-5.2l2.6-6.3l2.5-5.4l2.6-6.6l2.6-5.8l2.6-7.2l2.5-6.6l2.6-7.8l2.6-6.4l2.5-7.2l2.6-5.6l2.6-6.3l2.6-5.4l2.5-7l2.6-6.4l2.6-7.8l2.5-6.8l2.6-7.8l2.6-6.5l2.6-7.4l2.5-6.3l2.6-7.1l2.6-6l2.5-6.9l2.6-5.6l2.6-6.5l2.6-5.1l2.5-5.6l2.6-3.8l2.6-4.1l2.5-2.1l2.6-1.9l2.6,.3l2.6,.3l2.5,2.5l2.6,2.4l2.6,4.1l2.5,3.5l2.6,4.7l2.6,3.6l2.6,4.4l2.5,3.4l2.6,4.6l2.6,3.7l2.5,4.9l2.6,4.2l2.6,5.4l2.5,4.6l2.6,5.8l2.6,4.9l2.6,6l2.5,4.9l2.6,6l2.6,5l2.5,5.9l2.6,4.8l2.6,5.9l2.6,4.9l2.5,6.4l2.6,5.9l2.6,7.7l2.5,6.8l2.6,7.8l2.6,6.8l2.6,8.3l2.5,7.8l2.6,9.4l2.6,9.1l2.5,10.5l2.6,9.5l2.6,10.6l2.6,9.8l2.5,10.9l2.6,10l2.6,10.9l2.5,9.7l2.6,10.2l2.6,8.7l2.6,9.4l2.5,8.1l2.6,8.8l2.6,7.4l2.5,8.2l2.6,6.7l2.6,7.4l2.6,5.7l2.5,6.5l2.6,4.3l2.6,5.6l2.5,2.7l2.6,4.7l2.6,1.1l2.6,3.9l2.5-.3l2.6,3.3l2.6-1.5l2.5,2.9l2.6-2.3l2.6,2.5l2.6-2.8l2.5,2.5l2.6-3.2l2.6,2.6l2.5-3.2"/>
<path d="M163.2,798.2l2.6-3.3l2.5-2.9l2.6-3.5l2.6-3l2.6-3.6l2.5-3.2l2.6-3.7l2.6-3.3l2.5-3.8l2.6-3.3l2.6-3.8l2.6-3.4l2.5-3.9l2.6-3.3l2.6-4l2.5-3.3l2.6-4.1l2.6-3.4l2.6-4.2l2.5-3.5l2.6-4.3l2.6-3.7l2.5-4.5l2.6-4l2.6-4.9l2.6-4.4l2.5-5.6l2.6-5.1l2.6-6.3l2.5-5.9l2.6-7.1l2.6-6.6l2.5-7.8l2.6-7.2l2.6-8.1l2.6-7.5l2.5-8.3l2.6-7.5l2.6-8.3l2.5-7l2.6-7.9l2.6-6.5l2.6-7.7l2.5-5.9l2.6-7.4l2.6-5.2l2.5-6.7l2.6-4.1l2.6-5.5l2.6-2.8l2.5-4.5l2.6-1.5l2.6-3.5l2.5-.5l2.6-2.7l2.6,.2l2.6-2.1l2.5,1l2.6-1.2l2.6,1.7l2.5-.8l2.6,2.1l2.6-.5l2.6,2.3l2.5-.3l2.6,2.4l2.6-.2l2.5,2.6l2.6-.1l2.6,2.8l2.6,.1l2.5,3.1l2.6,.6l2.6,3.6l2.5,1l2.6,3.9l2.6,1.3l2.6,4.3l2.5,1.8l2.6,5.1l2.6,3.1l2.5,6.7l2.6,4.9l2.6,8.1l2.6,6.1l2.5,8.5l2.6,6.4l2.6,8.4l2.5,6.5l2.6,8.4l2.6,6.9l2.5,8.8l2.6,7.3l2.6,8.8l2.6,7l2.5,7.8l2.6,6.2l2.6,7.4l2.5,6.7l2.6,8.1l2.6,7.4l2.6,8.5l2.5,7.5l2.6,8.4l2.6,7.4l2.5,7.9l2.6,6.8l2.6,7.2l2.6,6.1l2.5,6.7l2.6,5.5l2.6,6.2l2.5,5l2.6,5.8l2.6,4.7l2.6,5.5l2.5,4.5l2.6,5.3l2.6,4.2l2.5,5l2.6,4.1l2.6,4.8l2.6,3.8l2.5,4.5l2.6,3.5l2.6,4.3l2.5,3l2.6,3.8l2.6,2.5l2.6,3.2l2.5,1.8l2.6,2.4l2.6,1l2.5,1.4l2.6-.2l2.6,.1l2.6-1.6l2.5-1.6l2.6-3.2l2.6-3.1l2.5-4.5l2.6-4.2l2.6-5.5l2.6-4.9l2.5-6.3l2.6-6.2l2.6-7.7l2.5-7.5l2.6-8.9l2.6-8.1l2.5-9.2l2.6-8.3l2.6-9.2l2.6-8l2.5-8.7l2.6-7.5l2.6-8.1l2.5-6.7l2.6-7.1l2.6-5.7l2.6-6.3l2.5-5.2l2.6-6l2.6-5l2.5-6.1l2.6-5.5l2.6-6.7l2.6-6.3l2.5-7.6l2.6-6.9l2.6-7.6l2.5-6.4l2.6-7l2.6-5.7l2.6-6.6l2.5-6l2.6-7.3l2.6-6.6l2.5-7.5l2.6-6.7l2.6-7.4l2.6-6.5l2.5-7.2l2.6-6.2l2.6-6.9l2.5-5.9l2.6-6.6l2.6-5.4l2.6-5.9l2.5-4.4l2.6-4.6l2.6-2.8l2.5-2.8l2.6-.7l2.6-.5l2.6,1.5l2.5,1.5l2.6,3.1l2.6,2.8l2.5,4.1l2.6,3.2l2.6,4.1l2.6,3.3l2.5,4.1l2.6,3.5l2.6,4.6l2.5,3.9l2.6,5.1l2.6,4.5l2.5,5.6l2.6,5l2.6,5.9l2.6,5.3l2.5,6.1l2.6,5.3l2.6,6.2l2.5,5.2l2.6,6.1l2.6,5.2l2.6,6.1l2.5,5.6l2.6,6.9l2.6,6.6l2.5,7.6l2.6,6.8l2.6,7.8l2.6,7.4l2.5,8.8l2.6,8.5l2.6,10l2.5,9.4l2.6,10.4l2.6,9.7l2.6,10.7l2.5,9.8l2.6,10.8l2.6,9.8l2.5,10.4l2.6,9.1l2.6,9.5l2.6,8.4l2.5,8.9l2.6,7.8l2.6,8.3l2.5,7.1l2.6,7.7l2.6,6.4l2.6,6.8l2.5,5.3l2.6,6.1l2.6,3.8l2.5,5.2l2.6,2.2l2.6,4.2l2.6,.7l2.5,3.4l2.6-.6l2.6,2.9l2.5-1.6l2.6,2.4l2.6-2.3l2.6,2.1l2.5-2.6l2.6,2.1l2.6-2.9l2.5,2.3"/>
<path d="M163.2,799.2l2.6-3.2l2.5-2.9l2.6-3.5l2.6-3.2l2.6-3.6l2.5-3.5l2.6-3.9l2.6-3.6l2.5-4.1l2.6-3.6l2.6-3.8l2.6-3.5l2.5-3.9l2.6-3.5l2.6-4.1l2.5-3.6l2.6-4.2l2.6-3.7l2.6-4.2l2.5-3.8l2.6-4.3l2.6-3.9l2.5-4.6l2.6-4.1l2.6-5l2.6-4.6l2.5-5.5l2.6-5.2l2.6-6.2l2.5-6.1l2.6-6.7l2.6-6.4l2.5-7.4l2.6-6.9l2.6-7.8l2.6-7.3l2.5-8l2.6-7.4l2.6-8l2.5-7.1l2.6-7.7l2.6-6.6l2.6-7.6l2.5-6.2l2.6-7.3l2.6-5.6l2.5-6.6l2.6-4.6l2.6-5.6l2.6-3.3l2.5-4.5l2.6-2.1l2.6-3.5l2.5-1.1l2.6-2.7l2.6-.3l2.6-1.8l2.5,.7l2.6-.9l2.6,1.5l2.5-.2l2.6,2l2.6,.1l2.6,2.2l2.5,.3l2.6,2.4l2.6,.5l2.5,2.5l2.6,.5l2.6,2.7l2.6,.6l2.5,2.9l2.6,1.1l2.6,3.4l2.5,1.4l2.6,3.6l2.6,1.7l2.6,3.9l2.5,2.2l2.6,4.7l2.6,3.5l2.5,6.3l2.6,5.2l2.6,7.7l2.6,6.3l2.5,8.2l2.6,6.5l2.6,8.2l2.5,6.6l2.6,8.1l2.6,7l2.5,8.5l2.6,7.4l2.6,8.6l2.6,7l2.5,7.6l2.6,6.4l2.6,7.3l2.5,6.8l2.6,8l2.6,7.6l2.6,8.4l2.5,7.7l2.6,8.4l2.6,7.5l2.5,8l2.6,6.8l2.6,7.3l2.6,6.2l2.5,6.6l2.6,5.7l2.6,6.1l2.5,5.2l2.6,5.6l2.6,4.8l2.6,5.4l2.5,4.5l2.6,5.1l2.6,4.3l2.5,4.8l2.6,4.1l2.6,4.6l2.6,3.8l2.5,4.3l2.6,3.6l2.6,4l2.5,3.1l2.6,3.5l2.6,2.6l2.6,3l2.5,1.9l2.6,2.2l2.6,1.1l2.5,1.2l2.6,0l2.6,0l2.6-1.5l2.5-1.6l2.6-3.1l2.6-3l2.5-4.3l2.6-4.1l2.6-5.2l2.6-4.8l2.5-6l2.6-6.1l2.6-7.5l2.5-7.4l2.6-8.5l2.6-8.2l2.5-8.9l2.6-8.3l2.6-9l2.6-8l2.5-8.5l2.6-7.6l2.6-8l2.5-6.9l2.6-7.1l2.6-5.9l2.6-6.4l2.5-5.4l2.6-6l2.6-5.3l2.5-6.1l2.6-5.7l2.6-6.7l2.6-6.5l2.5-7.7l2.6-7.2l2.6-7.6l2.5-6.8l2.6-7.1l2.6-6.1l2.6-6.9l2.5-6.3l2.6-7.3l2.6-6.7l2.5-7.4l2.6-6.7l2.6-7.4l2.6-6.5l2.5-7.1l2.6-6.3l2.6-6.7l2.5-5.9l2.6-6.3l2.6-5.3l2.6-5.6l2.5-4.3l2.6-4.2l2.6-2.8l2.5-2.5l2.6-.7l2.6-.3l2.6,1.4l2.5,1.6l2.6,3l2.6,2.9l2.5,3.8l2.6,3.3l2.6,3.9l2.6,3.3l2.5,4l2.6,3.5l2.6,4.5l2.5,4l2.6,4.9l2.6,4.7l2.5,5.5l2.6,5.2l2.6,5.9l2.6,5.4l2.5,6.2l2.6,5.5l2.6,6.2l2.5,5.4l2.6,6l2.6,5.4l2.6,6.1l2.5,5.7l2.6,6.8l2.6,6.8l2.5,7.5l2.6,6.9l2.6,7.7l2.6,7.5l2.5,8.6l2.6,8.6l2.6,9.8l2.5,9.5l2.6,10.3l2.6,9.8l2.6,10.5l2.5,10l2.6,10.6l2.6,9.8l2.5,10.2l2.6,9.1l2.6,9.4l2.6,8.3l2.5,8.8l2.6,7.7l2.6,8.1l2.5,7l2.6,7.5l2.6,6.3l2.6,6.7l2.5,5.3l2.6,5.9l2.6,4l2.5,4.9l2.6,2.5l2.6,3.9l2.6,1.1l2.5,3l2.6-.1l2.6,2.5l2.5-1l2.6,2l2.6-1.6l2.6,1.7l2.5-2l2.6,1.7l2.6-2.1l2.5,1.8"/>
<path d="M163.2,798.1l2.6-2.8l2.5-3.4l2.6-3l2.6-3.6l2.6-3.2l2.5-3.8l2.6-3.4l2.6-4l2.5-3.2l2.6-3.8l2.6-3.4l2.6-3.9l2.5-3.4l2.6-4.1l2.6-3.5l2.5-4.2l2.6-3.6l2.6-4.3l2.6-3.6l2.5-4.4l2.6-3.7l2.6-4.6l2.5-3.9l2.6-4.8l2.6-4.2l2.6-5.3l2.5-4.8l2.6-6l2.6-5.5l2.5-6.8l2.6-6.3l2.6-7.5l2.5-7l2.6-8l2.6-7.4l2.6-8.3l2.5-7.5l2.6-8.5l2.6-7.4l2.5-8.3l2.6-7l2.6-8.1l2.6-6.5l2.5-7.7l2.6-5.8l2.6-7.1l2.5-4.8l2.6-6.2l2.6-3.4l2.6-5l2.5-2.1l2.6-4l2.6-1l2.5-3.1l2.6-.1l2.6-2.5l2.6,.6l2.5-1.5l2.6,1.6l2.6-.8l2.5,2.2l2.6-.4l2.6,2.4l2.6-.1l2.5,2.6l2.6-.1l2.6,2.7l2.5,.1l2.6,2.8l2.6,.2l2.6,2.9l2.5,.5l2.6,3.5l2.6,1l2.5,3.8l2.6,1.3l2.6,4.1l2.6,1.6l2.5,4.5l2.6,2.4l2.6,5.8l2.5,4l2.6,7.4l2.6,5.7l2.6,8.4l2.5,6.3l2.6,8.6l2.6,6.4l2.5,8.5l2.6,6.6l2.6,8.6l2.5,7.1l2.6,8.8l2.6,7.3l2.6,8.2l2.5,6.4l2.6,7.4l2.6,6.3l2.5,7.7l2.6,7.1l2.6,8.4l2.6,7.5l2.5,8.4l2.6,7.5l2.6,8.2l2.5,7l2.6,7.6l2.6,6.3l2.6,7l2.5,5.7l2.6,6.5l2.6,5.3l2.5,6l2.6,4.9l2.6,5.6l2.6,4.7l2.5,5.4l2.6,4.4l2.6,5.1l2.5,4.2l2.6,4.9l2.6,3.9l2.6,4.8l2.5,3.6l2.6,4.5l2.6,3.3l2.5,4l2.6,2.9l2.6,3.4l2.6,2.2l2.5,2.8l2.6,1.4l2.6,1.9l2.5,.4l2.6,.7l2.6-.9l2.6-.7l2.5-2.5l2.6-2.3l2.6-4l2.5-3.7l2.6-5l2.6-4.5l2.6-5.6l2.5-5.3l2.6-6.9l2.6-6.8l2.5-8.2l2.6-7.8l2.6-9l2.5-8.1l2.6-9.1l2.6-8.2l2.6-8.8l2.5-7.7l2.6-8.3l2.6-7.1l2.5-7.5l2.6-6.2l2.6-6.6l2.6-5.4l2.5-6.1l2.6-5.1l2.6-6l2.5-5.3l2.6-6.4l2.6-5.9l2.6-7.2l2.5-6.9l2.6-8l2.6-6.9l2.5-7.6l2.6-6.4l2.6-7.1l2.6-6.2l2.5-7.2l2.6-6.6l2.6-7.5l2.5-6.7l2.6-7.6l2.6-6.6l2.6-7.4l2.5-6.4l2.6-7.1l2.6-6l2.5-6.7l2.6-5.5l2.6-6l2.6-4.6l2.5-4.9l2.6-3.3l2.6-3.5l2.5-1.5l2.6-1.4l2.6,.6l2.6,.7l2.5,2.4l2.6,2.2l2.6,3.6l2.5,3l2.6,4l2.6,3.1l2.6,4.1l2.5,3.2l2.6,4.3l2.6,3.6l2.5,4.8l2.6,4.1l2.6,5.3l2.5,4.7l2.6,5.9l2.6,5.1l2.6,6.1l2.5,5.3l2.6,6.3l2.6,5.3l2.5,6.2l2.6,5.3l2.6,6.3l2.6,5.4l2.5,6.5l2.6,6.1l2.6,7.5l2.5,6.7l2.6,7.8l2.6,7l2.6,8.4l2.5,7.9l2.6,9.4l2.6,9.1l2.5,10.3l2.6,9.5l2.6,10.6l2.6,9.7l2.5,10.8l2.6,9.8l2.6,10.6l2.5,9.3l2.6,9.9l2.6,8.6l2.6,9.1l2.5,7.9l2.6,8.5l2.6,7.3l2.5,7.8l2.6,6.6l2.6,7.2l2.6,5.8l2.5,6.4l2.6,4.5l2.6,5.6l2.5,3.1l2.6,4.7l2.6,1.4l2.6,3.8l2.5,.1l2.6,3.2l2.6-1.1l2.5,2.7l2.6-1.9l2.6,2.3l2.6-2.3l2.5,2.2l2.6-2.7l2.6,2.3l2.5-2.8"/>
<path d="M163.2,801.3l2.6-2.3l2.5-2.9l2.6-2.5l2.6-3.1l2.6-2.6l2.5-3.3l2.6-2.7l2.6-3.4l2.5-2.9l2.6-3.6l2.6-3l2.6-3.8l2.5-3.1l2.6-3.9l2.6-3.3l2.5-4.1l2.6-3.5l2.6-4.2l2.6-3.6l2.5-4.4l2.6-3.7l2.6-4.6l2.5-4l2.6-4.9l2.6-4.4l2.6-5.4l2.5-5l2.6-6.1l2.6-5.7l2.5-7l2.6-6.5l2.6-7.8l2.5-7.2l2.6-8.5l2.6-7.6l2.6-8.8l2.5-7.9l2.6-8.9l2.6-7.8l2.5-8.7l2.6-7.2l2.6-8.4l2.6-6.8l2.5-8.3l2.6-6.2l2.6-7.7l2.5-5.3l2.6-7l2.6-4.1l2.6-6.1l2.5-3l2.6-5.1l2.6-1.8l2.5-4.3l2.6-.9l2.6-3.4l2.6-.1l2.5-2.7l2.6,.5l2.6-2.2l2.5,.9l2.6-1.8l2.6,1.2l2.6-1.5l2.5,1.5l2.6-1.1l2.6,2l2.5-.7l2.6,2.6l2.6-.1l2.6,3.2l2.5,.8l2.6,4.4l2.6,1.8l2.5,5l2.6,2.1l2.6,5l2.6,1.8l2.5,4.6l2.6,1.8l2.6,5.4l2.5,3.5l2.6,7.6l2.6,5.9l2.6,9l2.5,6.9l2.6,9.3l2.6,7.2l2.5,9.4l2.6,7.3l2.6,9.2l2.5,7.3l2.6,8.9l2.6,7l2.6,8.3l2.5,6.4l2.6,7.8l2.6,6.7l2.5,8.3l2.6,7.9l2.6,9l2.6,8.1l2.5,8.7l2.6,7.5l2.6,8.2l2.5,6.8l2.6,7.6l2.6,6.2l2.6,7l2.5,5.8l2.6,6.4l2.6,5.3l2.5,6l2.6,4.9l2.6,5.6l2.6,4.5l2.5,5.2l2.6,4.2l2.6,5l2.5,3.9l2.6,4.7l2.6,3.7l2.6,4.6l2.5,3.5l2.6,4.3l2.6,3.1l2.5,3.9l2.6,2.7l2.6,3.3l2.6,1.9l2.5,2.6l2.6,1.1l2.6,1.6l2.5,.1l2.6,.5l2.6-1l2.6-.8l2.5-2.4l2.6-2.2l2.6-3.6l2.5-3.1l2.6-4.4l2.6-3.7l2.6-4.8l2.5-4.2l2.6-6.2l2.6-6l2.5-7.8l2.6-7.2l2.6-8.6l2.5-7.9l2.6-8.9l2.6-8l2.6-8.9l2.5-7.7l2.6-8.5l2.6-7.1l2.5-7.6l2.6-6.1l2.6-6.5l2.6-5.2l2.5-5.9l2.6-4.8l2.6-5.8l2.5-5.1l2.6-6.3l2.6-5.8l2.6-7.4l2.5-7l2.6-8.2l2.6-7.2l2.5-8l2.6-6.9l2.6-7.7l2.6-6.5l2.5-7.3l2.6-6.3l2.6-7.3l2.5-6.4l2.6-7.4l2.6-6.4l2.6-7.4l2.5-6.3l2.6-7.1l2.6-6l2.5-6.6l2.6-5.3l2.6-5.9l2.6-4.3l2.5-4.6l2.6-2.9l2.6-3.1l2.5-1.2l2.6-1.1l2.6,.9l2.6,.8l2.5,2.4l2.6,2l2.6,3.3l2.5,2.5l2.6,3.6l2.6,2.7l2.6,3.8l2.5,3.1l2.6,4.2l2.6,3.4l2.5,4.7l2.6,4l2.6,5.4l2.5,4.6l2.6,5.9l2.6,5.1l2.6,6.3l2.5,5.4l2.6,6.4l2.6,5.5l2.5,6.5l2.6,5.5l2.6,6.6l2.6,5.6l2.5,6.9l2.6,6l2.6,7.2l2.5,6.6l2.6,7.8l2.6,7.3l2.6,8.6l2.5,8.1l2.6,9.5l2.6,9l2.5,10.3l2.6,9.5l2.6,10.7l2.6,9.8l2.5,10.7l2.6,9.7l2.6,10.4l2.5,9.2l2.6,9.9l2.6,8.5l2.6,9.2l2.5,7.8l2.6,8.5l2.6,7.2l2.5,7.8l2.6,6.5l2.6,7.2l2.6,5.7l2.5,6.5l2.6,4.5l2.6,5.7l2.5,2.9l2.6,4.8l2.6,1.2l2.6,3.9l2.5-.2l2.6,3.3l2.6-1.4l2.5,2.8l2.6-2.2l2.6,2.4l2.6-2.6l2.5,2.3l2.6-3l2.6,2.4l2.5-3"/>
</g>
<clipPath id="clip-e"><rect x="905.4" y="487.4" width="754.7" height="463.8"/></clipPath>
<g class="cv" clip-path="url(#clip-e)">
<path d="M945.2,591.8l4-4.6l4-4.2l4-3.8l4-3.3l4-2.9l4-2.4l4-1.8l4-1.4l4-.8l4-.1l4,.4l4,.9l4,1.6l4,2l4,2.6l4,3l4,3.5l4,4l4,4.3l4,4.7l4,5l4,5.3l4,5.6l4,5.8l4,5.9l4,6.1l4,6.2l4,6.3l4,6.3l4,6.3l4,6.3l4,6.2l4,6.2l4,6.1l4,6l4,5.9l4,5.8l4,5.7l4,5.6l4,5.4l4,5.4l4,5.2l4,5.2l4,5.1l4,5.1l4,5l4,4.9l4,5l4,5l4,5l4,5.1l4,5.1l4,5.2l4,5.3l4,5.4l4,5.5l4,5.5l4,5.8l4,5.8l4,5.9l4,6l4,6.1l4,6.1l4,6.2l4,6.2l4,6.2l4,6.2l4,6.1l4,6l4,6l4,5.7l4,5.6l4,5.3l4,5.1l4,4.8l4,4.5l4,4.1l4,3.7l4,3.3l4,2.8l4,2.5l4,1.9l4,1.4l4,.9l4,.5l4-.1l4-.5l4-.9l4-1.2l4-1.5l4-1.8l4-2.2l4-2.6l4-2.8l4-3.2l4-3.5l4-3.9l4-4.1l4-4.5l4-4.8l4-5l4-5.4l4-5.6l4-5.9l4-6.1l4-6.4l4-6.6l4-6.8l4-7l4-7.2l4-7.4l4-7.5l4-7.6l4-7.7l4-7.8l4-7.9l4-7.9l4-8l4-7.9l4-8l4-8l4-7.9l4-7.8l4-7.8l4-7.7l4-7.6l4-7.4l4-7.3l4-7.2l4-7l4-6.8l4-6.6l4-6.4l4-6.2l4-6l4-5.7l4-5.5l4-5.3l4-5l4-4.8l4-4.4l4-4.3l4-4l4-3.7l4-3.4l4-3.2l4-2.9l4-2.7l4-2.4l4-2.2l4-1.9l4-1.7l4-1.4l4-1.2l4-1l4-.8l4-.6l4-.4l4-.2l4-.1l4,.1l4,.3l4,.5l4,.5l4,.7l4,.8l4,1l4,1l4,1.1l3.3,1"/>
<path d="M945.2,585.1l4-4.3l4-3.9l4-3.5l4-3l4-2.6l4-2.2l4-1.6l4-1.1l4-.5l4,0l4,.6l4,1.1l4,1.6l4,2.2l4,2.6l4,3.1l4,3.5l4,3.9l4,4.3l4,4.7l4,4.9l4,5.2l4,5.4l4,5.6l4,5.8l4,5.9l4,6l4,6l4,6.1l4,6l4,6l4,6l4,5.9l4,5.8l4,5.7l4,5.6l4,5.5l4,5.4l4,5.3l4,5.2l4,5.1l4,5l4,4.9l4,4.9l4,4.9l4,4.8l4,4.8l4,4.8l4,4.9l4,4.9l4,5l4,5l4,5.2l4,5.2l4,5.3l4,5.4l4,5.6l4,5.6l4,5.7l4,5.8l4,5.9l4,6l4,5.9l4,6l4,6l4,5.9l4,5.9l4,5.7l4,5.6l4,5.5l4,5.2l4,5l4,4.7l4,4.4l4,4.1l4,3.7l4,3.3l4,2.8l4,2.5l4,1.9l4,1.5l4,1l4,.4l4,0l4-.3l4-.6l4-.8l4-1.1l4-1.4l4-1.7l4-2l4-2.2l4-2.5l4-2.8l4-3.1l4-3.4l4-3.6l4-4l4-4.2l4-4.4l4-4.7l4-5l4-5.2l4-5.5l4-5.6l4-5.9l4-6.1l4-6.3l4-6.5l4-6.6l4-6.8l4-6.9l4-7.1l4-7.1l4-7.2l4-7.3l4-7.4l4-7.4l4-7.4l4-7.4l4-7.5l4-7.4l4-7.3l4-7.3l4-7.2l4-7.1l4-7l4-6.9l4-6.8l4-6.6l4-6.5l4-6.3l4-6.1l4-5.9l4-5.7l4-5.6l4-5.2l4-5.1l4-4.9l4-4.6l4-4.3l4-4.1l4-3.9l4-3.7l4-3.3l4-3.2l4-2.9l4-2.6l4-2.4l4-2.2l4-1.9l4-1.7l4-1.5l4-1.3l4-1l4-.9l4-.6l4-.5l4-.3l4-.1l4,0l4,.3l4,.3l4,.5l4,.6l4,.7l4,.9l4,.9l4,1.1l3.3,.9"/>
<path d="M945.2,581.8l4-3.8l4-3.4l4-3l4-2.6l4-2.1l4-1.7l4-1.1l4-.6l4-.1l4,.5l4,1l4,1.6l4,2l4,2.5l4,2.9l4,3.3l4,3.8l4,4l4,4.5l4,4.7l4,4.9l4,5.2l4,5.4l4,5.5l4,5.7l4,5.7l4,5.9l4,5.8l4,5.8l4,5.9l4,5.7l4,5.8l4,5.6l4,5.6l4,5.4l4,5.4l4,5.3l4,5.1l4,5.1l4,5l4,4.9l4,4.8l4,4.8l4,4.7l4,4.7l4,4.6l4,4.7l4,4.7l4,4.7l4,4.8l4,4.8l4,4.9l4,5l4,5l4,5.2l4,5.2l4,5.4l4,5.4l4,5.5l4,5.6l4,5.7l4,5.7l4,5.7l4,5.8l4,5.7l4,5.7l4,5.6l4,5.5l4,5.4l4,5.3l4,5l4,4.8l4,4.6l4,4.3l4,4l4,3.6l4,3.3l4,2.8l4,2.5l4,2.1l4,1.6l4,1.1l4,.7l4,.2l4-.2l4-.4l4-.7l4-1l4-1.3l4-1.5l4-1.9l4-2.1l4-2.4l4-2.6l4-3l4-3.2l4-3.5l4-3.8l4-4.1l4-4.4l4-4.6l4-4.9l4-5.1l4-5.4l4-5.6l4-5.8l4-6l4-6.3l4-6.4l4-6.6l4-6.7l4-6.9l4-7.1l4-7.1l4-7.2l4-7.3l4-7.4l4-7.4l4-7.5l4-7.4l4-7.5l4-7.4l4-7.4l4-7.3l4-7.3l4-7.2l4-7l4-7l4-6.8l4-6.7l4-6.5l4-6.3l4-6.2l4-5.9l4-5.8l4-5.5l4-5.4l4-5.1l4-4.9l4-4.6l4-4.4l4-4.1l4-3.9l4-3.7l4-3.4l4-3.1l4-2.9l4-2.6l4-2.4l4-2.2l4-1.9l4-1.7l4-1.5l4-1.2l4-1.1l4-.8l4-.6l4-.4l4-.3l4-.1l4,.1l4,.3l4,.4l4,.5l4,.6l4,.8l4,.9l4,1l4,1.1l3.3,.9"/>
<path d="M945.2,578.4l4-3.5l4-3.2l4-2.8l4-2.3l4-2l4-1.6l4-1.1l4-.6l4-.2l4,.3l4,.7l4,1.2l4,1.6l4,2l4,2.5l4,2.9l4,3.2l4,3.6l4,3.9l4,4.2l4,4.4l4,4.7l4,5l4,5.1l4,5.2l4,5.4l4,5.4l4,5.5l4,5.6l4,5.5l4,5.6l4,5.5l4,5.5l4,5.4l4,5.4l4,5.2l4,5.2l4,5.1l4,5l4,4.9l4,4.9l4,4.7l4,4.7l4,4.6l4,4.6l4,4.6l4,4.5l4,4.5l4,4.5l4,4.6l4,4.6l4,4.7l4,4.7l4,4.8l4,4.8l4,5l4,5l4,5.1l4,5.3l4,5.3l4,5.3l4,5.5l4,5.5l4,5.5l4,5.6l4,5.5l4,5.6l4,5.4l4,5.4l4,5.3l4,5.2l4,5l4,4.8l4,4.6l4,4.4l4,4l4,3.8l4,3.4l4,3.1l4,2.7l4,2.3l4,1.8l4,1.5l4,.9l4,.6l4,.1l4-.3l4-.5l4-.8l4-1.1l4-1.3l4-1.7l4-1.9l4-2.2l4-2.5l4-2.8l4-3.1l4-3.3l4-3.7l4-3.9l4-4.2l4-4.5l4-4.7l4-5l4-5.3l4-5.5l4-5.7l4-5.9l4-6.1l4-6.4l4-6.5l4-6.7l4-6.8l4-6.9l4-7.1l4-7.2l4-7.2l4-7.3l4-7.4l4-7.4l4-7.4l4-7.4l4-7.4l4-7.3l4-7.3l4-7.3l4-7.1l4-7l4-6.9l4-6.8l4-6.6l4-6.5l4-6.3l4-6.1l4-5.9l4-5.7l4-5.5l4-5.3l4-5l4-4.8l4-4.6l4-4.3l4-4.1l4-3.8l4-3.5l4-3.3l4-3.1l4-2.8l4-2.6l4-2.3l4-2l4-1.9l4-1.6l4-1.4l4-1.1l4-.9l4-.8l4-.5l4-.4l4-.1l4,0l4,.1l4,.3l4,.5l4,.6l4,.7l4,.8l4,1l4,1l3.3,.9"/>
<path d="M945.2,583.0l4-3l4-2.6l4-2.3l4-2l4-1.5l4-1.1l4-.8l4-.3l4,.2l4,.6l4,1.1l4,1.4l4,1.8l4,2.2l4,2.6l4,2.9l4,3.2l4,3.5l4,3.8l4,4l4,4.2l4,4.4l4,4.5l4,4.7l4,4.8l4,4.8l4,4.9l4,5l4,4.9l4,5l4,4.9l4,4.9l4,4.8l4,4.8l4,4.7l4,4.6l4,4.5l4,4.5l4,4.3l4,4.4l4,4.2l4,4.2l4,4.1l4,4.1l4,4l4,4l4,4.1l4,4l4,4l4,4.1l4,4.1l4,4.1l4,4.2l4,4.3l4,4.3l4,4.4l4,4.5l4,4.6l4,4.6l4,4.7l4,4.7l4,4.8l4,4.9l4,4.8l4,4.9l4,4.9l4,4.8l4,4.8l4,4.7l4,4.6l4,4.5l4,4.3l4,4.2l4,4l4,3.7l4,3.6l4,3.2l4,3l4,2.7l4,2.4l4,2l4,1.6l4,1.3l4,1l4,.5l4,.2l4-.1l4-.3l4-.6l4-.7l4-1l4-1.3l4-1.4l4-1.8l4-1.9l4-2.3l4-2.4l4-2.8l4-3l4-3.3l4-3.5l4-3.8l4-4.1l4-4.3l4-4.5l4-4.8l4-5.1l4-5.2l4-5.5l4-5.7l4-5.8l4-6.1l4-6.2l4-6.4l4-6.5l4-6.6l4-6.8l4-6.8l4-6.9l4-7l4-7l4-7l4-7.1l4-7l4-7l4-7l4-6.9l4-6.8l4-6.8l4-6.6l4-6.5l4-6.3l4-6.2l4-6.1l4-5.8l4-5.7l4-5.4l4-5.3l4-5l4-4.8l4-4.5l4-4.4l4-4l4-3.9l4-3.5l4-3.3l4-3.1l4-2.8l4-2.6l4-2.3l4-2l4-1.8l4-1.6l4-1.4l4-1.1l4-.9l4-.7l4-.5l4-.3l4-.1l4,.1l4,.2l4,.4l4,.5l4,.6l4,.8l4,.9l4,1l4,1.1l3.3,.9"/>
<path d="M945.2,575.1l4-4.1l4-3.8l4-3.5l4-3.1l4-2.7l4-2.3l4-1.8l4-1.3l4-.8l4-.3l4,.4l4,.9l4,1.5l4,1.9l4,2.4l4,2.8l4,3.2l4,3.5l4,3.9l4,4.2l4,4.4l4,4.7l4,4.9l4,5l4,5.1l4,5.3l4,5.3l4,5.4l4,5.4l4,5.4l4,5.3l4,5.3l4,5.3l4,5.2l4,5.1l4,5l4,5l4,4.8l4,4.8l4,4.6l4,4.6l4,4.5l4,4.5l4,4.4l4,4.4l4,4.3l4,4.3l4,4.4l4,4.3l4,4.4l4,4.4l4,4.4l4,4.5l4,4.6l4,4.6l4,4.7l4,4.8l4,4.9l4,4.9l4,5l4,5.1l4,5.1l4,5.1l4,5.1l4,5.2l4,5.1l4,5.1l4,5l4,5l4,4.8l4,4.7l4,4.5l4,4.4l4,4.1l4,3.9l4,3.6l4,3.4l4,3l4,2.7l4,2.4l4,2l4,1.7l4,1.2l4,.9l4,.5l4,.1l4-.2l4-.4l4-.7l4-.9l4-1.1l4-1.4l4-1.7l4-1.8l4-2.2l4-2.4l4-2.6l4-2.9l4-3.2l4-3.4l4-3.7l4-3.9l4-4.1l4-4.4l4-4.7l4-4.8l4-5.1l4-5.2l4-5.5l4-5.7l4-5.8l4-6l4-6.1l4-6.3l4-6.4l4-6.5l4-6.6l4-6.6l4-6.8l4-6.7l4-6.9l4-6.8l4-6.8l4-6.8l4-6.7l4-6.8l4-6.6l4-6.6l4-6.5l4-6.3l4-6.3l4-6.1l4-6l4-5.8l4-5.6l4-5.5l4-5.2l4-5.1l4-4.9l4-4.7l4-4.4l4-4.2l4-4l4-3.8l4-3.5l4-3.3l4-3.1l4-2.8l4-2.6l4-2.4l4-2.1l4-2l4-1.7l4-1.4l4-1.3l4-1.1l4-.8l4-.7l4-.5l4-.3l4-.2l4,0l4,.2l4,.3l4,.4l4,.6l4,.7l4,.7l4,.9l3.3,.8"/>
<path d="M945.2,577.0l4-3.7l4-3.4l4-3l4-2.7l4-2.3l4-1.9l4-1.4l4-.9l4-.5l4,.1l4,.7l4,1.1l4,1.6l4,2.1l4,2.4l4,2.8l4,3.2l4,3.5l4,3.8l4,4.1l4,4.3l4,4.5l4,4.7l4,4.8l4,5l4,5l4,5.1l4,5.2l4,5.1l4,5.2l4,5.1l4,5.1l4,5l4,5l4,4.9l4,4.8l4,4.8l4,4.6l4,4.6l4,4.5l4,4.4l4,4.4l4,4.3l4,4.2l4,4.3l4,4.1l4,4.2l4,4.2l4,4.2l4,4.2l4,4.3l4,4.3l4,4.3l4,4.4l4,4.5l4,4.5l4,4.6l4,4.7l4,4.7l4,4.8l4,4.9l4,4.9l4,4.9l4,4.9l4,5l4,4.9l4,4.9l4,4.9l4,4.7l4,4.7l4,4.6l4,4.4l4,4.2l4,4l4,3.9l4,3.5l4,3.4l4,3l4,2.7l4,2.5l4,2l4,1.8l4,1.4l4,1l4,.6l4,.3l4,0l4-.2l4-.4l4-.6l4-.8l4-.9l4-1.2l4-1.4l4-1.7l4-1.9l4-2.1l4-2.4l4-2.6l4-3l4-3.1l4-3.4l4-3.7l4-4l4-4.2l4-4.4l4-4.8l4-4.9l4-5.2l4-5.4l4-5.7l4-5.8l4-6l4-6.3l4-6.4l4-6.5l4-6.7l4-6.9l4-6.9l4-7l4-7.1l4-7.2l4-7.2l4-7.2l4-7.3l4-7.2l4-7.1l4-7.2l4-7l4-7l4-6.8l4-6.7l4-6.6l4-6.5l4-6.2l4-6.1l4-5.8l4-5.7l4-5.4l4-5.2l4-5l4-4.7l4-4.4l4-4.2l4-3.9l4-3.6l4-3.4l4-3.1l4-2.8l4-2.5l4-2.3l4-2l4-1.8l4-1.5l4-1.2l4-1l4-.8l4-.5l4-.4l4-.1l4,.1l4,.2l4,.4l4,.6l4,.7l4,.9l4,.9l4,1.1l4,1.2l3.3,1"/>
<path d="M945.2,571.8l4-3.6l4-3.3l4-3l4-2.6l4-2.1l4-1.7l4-1.3l4-.8l4-.2l4,.5l4,.9l4,1.5l4,1.9l4,2.3l4,2.7l4,3.1l4,3.5l4,3.7l4,4l4,4.3l4,4.5l4,4.6l4,4.9l4,4.9l4,5.1l4,5.1l4,5.2l4,5.1l4,5.2l4,5.2l4,5.1l4,5.1l4,5l4,5l4,4.8l4,4.8l4,4.8l4,4.6l4,4.5l4,4.5l4,4.4l4,4.4l4,4.3l4,4.2l4,4.3l4,4.2l4,4.2l4,4.2l4,4.2l4,4.3l4,4.3l4,4.3l4,4.4l4,4.5l4,4.5l4,4.6l4,4.6l4,4.7l4,4.8l4,4.8l4,4.9l4,4.9l4,4.9l4,4.9l4,4.9l4,4.9l4,4.9l4,4.8l4,4.7l4,4.5l4,4.5l4,4.3l4,4.1l4,3.9l4,3.7l4,3.5l4,3.2l4,2.9l4,2.6l4,2.3l4,1.9l4,1.6l4,1.3l4,.9l4,.5l4,.2l4-.2l4-.4l4-.6l4-.9l4-1.1l4-1.4l4-1.6l4-1.9l4-2.2l4-2.4l4-2.6l4-2.9l4-3.2l4-3.4l4-3.7l4-3.9l4-4.1l4-4.4l4-4.6l4-4.9l4-5l4-5.2l4-5.5l4-5.6l4-5.7l4-6l4-6l4-6.2l4-6.4l4-6.4l4-6.5l4-6.5l4-6.7l4-6.6l4-6.7l4-6.7l4-6.7l4-6.7l4-6.6l4-6.6l4-6.5l4-6.4l4-6.4l4-6.2l4-6.1l4-6l4-5.8l4-5.7l4-5.5l4-5.4l4-5.1l4-5l4-4.7l4-4.6l4-4.3l4-4.1l4-4l4-3.6l4-3.5l4-3.2l4-3l4-2.8l4-2.6l4-2.3l4-2.1l4-1.9l4-1.7l4-1.5l4-1.3l4-1l4-.9l4-.7l4-.5l4-.4l4-.1l4-.1l4,.1l4,.3l4,.4l4,.5l4,.6l4,.7l4,.9l3.3,.7"/>
<path d="M945.2,568.4l4-3.8l4-3.4l4-3.1l4-2.8l4-2.4l4-1.9l4-1.6l4-1.1l4-.6l4-.2l4,.4l4,.9l4,1.3l4,1.8l4,2.2l4,2.6l4,2.9l4,3.3l4,3.6l4,3.9l4,4.1l4,4.4l4,4.6l4,4.8l4,4.9l4,5l4,5.1l4,5.2l4,5.2l4,5.2l4,5.3l4,5.2l4,5.1l4,5.2l4,5l4,5l4,4.9l4,4.9l4,4.7l4,4.7l4,4.6l4,4.6l4,4.5l4,4.4l4,4.4l4,4.4l4,4.3l4,4.3l4,4.4l4,4.3l4,4.4l4,4.5l4,4.4l4,4.6l4,4.5l4,4.7l4,4.7l4,4.8l4,4.8l4,5l4,4.9l4,5l4,5.1l4,5.1l4,5.1l4,5l4,5.1l4,5l4,4.9l4,4.9l4,4.7l4,4.6l4,4.4l4,4.2l4,4l4,3.8l4,3.5l4,3.2l4,2.9l4,2.6l4,2.3l4,1.8l4,1.6l4,1.1l4,.8l4,.4l4,0l4-.2l4-.5l4-.6l4-.8l4-1.1l4-1.3l4-1.6l4-1.8l4-2l4-2.3l4-2.5l4-2.9l4-3l4-3.4l4-3.5l4-3.9l4-4.1l4-4.3l4-4.6l4-4.8l4-5.1l4-5.2l4-5.5l4-5.7l4-5.8l4-6.1l4-6.2l4-6.3l4-6.5l4-6.6l4-6.8l4-6.8l4-6.9l4-6.9l4-7l4-7l4-7l4-6.9l4-7l4-6.9l4-6.9l4-6.7l4-6.7l4-6.6l4-6.4l4-6.3l4-6.1l4-6l4-5.8l4-5.6l4-5.4l4-5.2l4-4.9l4-4.8l4-4.5l4-4.3l4-4l4-3.8l4-3.5l4-3.3l4-3l4-2.8l4-2.5l4-2.2l4-2.1l4-1.8l4-1.5l4-1.3l4-1.1l4-.9l4-.7l4-.5l4-.3l4-.1l4,.1l4,.2l4,.4l4,.5l4,.7l4,.8l4,.8l4,1l3.3,.9"/>
<path d="M945.2,572.5l4-4l4-3.7l4-3.4l4-3l4-2.7l4-2.2l4-1.8l4-1.2l4-.8l4-.1l4,.5l4,1.1l4,1.7l4,2l4,2.5l4,2.9l4,3.3l4,3.6l4,3.9l4,4.2l4,4.4l4,4.7l4,4.8l4,4.9l4,5l4,5.2l4,5.2l4,5.2l4,5.2l4,5.3l4,5.2l4,5.1l4,5.1l4,5l4,5l4,4.9l4,4.8l4,4.7l4,4.6l4,4.6l4,4.5l4,4.4l4,4.4l4,4.3l4,4.4l4,4.2l4,4.3l4,4.3l4,4.3l4,4.3l4,4.3l4,4.4l4,4.5l4,4.4l4,4.6l4,4.6l4,4.6l4,4.8l4,4.7l4,4.9l4,4.8l4,4.9l4,4.9l4,4.9l4,4.9l4,4.9l4,4.9l4,4.7l4,4.7l4,4.6l4,4.4l4,4.3l4,4.1l4,4l4,3.7l4,3.4l4,3.2l4,3l4,2.6l4,2.3l4,2.1l4,1.6l4,1.4l4,.9l4,.6l4,.3l4-.1l4-.2l4-.5l4-.7l4-1l4-1.1l4-1.5l4-1.6l4-1.9l4-2.2l4-2.4l4-2.6l4-2.9l4-3.2l4-3.5l4-3.7l4-3.9l4-4.2l4-4.4l4-4.7l4-4.9l4-5.2l4-5.3l4-5.6l4-5.7l4-5.9l4-6.1l4-6.3l4-6.4l4-6.5l4-6.6l4-6.7l4-6.8l4-6.9l4-6.9l4-7l4-6.9l4-7l4-6.9l4-6.9l4-6.9l4-6.8l4-6.7l4-6.6l4-6.5l4-6.3l4-6.2l4-6.1l4-5.9l4-5.7l4-5.5l4-5.3l4-5.1l4-4.9l4-4.6l4-4.5l4-4.2l4-3.9l4-3.7l4-3.5l4-3.2l4-2.9l4-2.8l4-2.4l4-2.3l4-1.9l4-1.8l4-1.5l4-1.3l4-1.1l4-.9l4-.7l4-.4l4-.3l4-.1l4,0l4,.3l4,.3l4,.5l4,.7l4,.7l4,.9l4,.9l3.3,.9"/>
<path d="M945.2,564.3l4-3.8l4-3.5l4-3.1l4-2.8l4-2.4l4-2l4-1.6l4-1.1l4-.6l4-.1l4,.5l4,1l4,1.5l4,1.9l4,2.3l4,2.7l4,3.1l4,3.4l4,3.7l4,4l4,4.2l4,4.5l4,4.7l4,4.8l4,4.9l4,5.1l4,5.1l4,5.2l4,5.2l4,5.3l4,5.2l4,5.2l4,5.1l4,5.1l4,5.1l4,5l4,4.9l4,4.8l4,4.8l4,4.6l4,4.6l4,4.6l4,4.5l4,4.4l4,4.5l4,4.3l4,4.4l4,4.4l4,4.3l4,4.4l4,4.4l4,4.5l4,4.5l4,4.5l4,4.6l4,4.7l4,4.7l4,4.8l4,4.8l4,4.9l4,4.9l4,5l4,5l4,5l4,5l4,5l4,5l4,4.9l4,4.9l4,4.7l4,4.7l4,4.4l4,4.4l4,4.1l4,4l4,3.7l4,3.4l4,3.2l4,2.9l4,2.5l4,2.3l4,1.9l4,1.5l4,1.2l4,.9l4,.4l4,.1l4-.2l4-.4l4-.5l4-.9l4-1l4-1.3l4-1.5l4-1.8l4-2l4-2.2l4-2.5l4-2.8l4-3l4-3.3l4-3.6l4-3.8l4-4l4-4.3l4-4.5l4-4.8l4-5l4-5.2l4-5.4l4-5.6l4-5.8l4-6l4-6.1l4-6.3l4-6.4l4-6.5l4-6.6l4-6.7l4-6.8l4-6.8l4-6.9l4-6.9l4-6.9l4-6.9l4-6.8l4-6.8l4-6.7l4-6.7l4-6.6l4-6.4l4-6.3l4-6.2l4-6.1l4-5.8l4-5.7l4-5.5l4-5.4l4-5.1l4-4.9l4-4.6l4-4.5l4-4.2l4-3.9l4-3.7l4-3.5l4-3.2l4-3l4-2.8l4-2.5l4-2.2l4-2l4-1.8l4-1.5l4-1.4l4-1.1l4-.9l4-.6l4-.5l4-.3l4-.2l4,.1l4,.2l4,.3l4,.5l4,.6l4,.8l4,.8l4,1l3.3,.8"/>
<path d="M945.2,566.5l4-4.1l4-3.7l4-3.5l4-3.1l4-2.7l4-2.3l4-1.8l4-1.4l4-.9l4-.3l4,.4l4,.9l4,1.5l4,1.9l4,2.3l4,2.8l4,3.2l4,3.4l4,3.9l4,4.1l4,4.3l4,4.6l4,4.7l4,4.9l4,5.1l4,5.1l4,5.3l4,5.2l4,5.3l4,5.3l4,5.3l4,5.2l4,5.2l4,5.2l4,5l4,5l4,5l4,4.8l4,4.8l4,4.7l4,4.6l4,4.6l4,4.5l4,4.5l4,4.5l4,4.4l4,4.4l4,4.4l4,4.4l4,4.4l4,4.5l4,4.5l4,4.5l4,4.6l4,4.7l4,4.7l4,4.7l4,4.9l4,4.8l4,4.9l4,5l4,5l4,5l4,5l4,5l4,5l4,4.9l4,4.8l4,4.8l4,4.7l4,4.5l4,4.4l4,4.2l4,4l4,3.7l4,3.6l4,3.2l4,3l4,2.7l4,2.4l4,2.1l4,1.7l4,1.3l4,1l4,.6l4,.3l4-.1l4-.2l4-.5l4-.7l4-.9l4-1.2l4-1.4l4-1.6l4-1.9l4-2.1l4-2.4l4-2.6l4-2.9l4-3.1l4-3.4l4-3.7l4-3.9l4-4.1l4-4.4l4-4.7l4-4.8l4-5.1l4-5.3l4-5.5l4-5.7l4-5.9l4-6l4-6.2l4-6.4l4-6.4l4-6.6l4-6.7l4-6.8l4-6.8l4-6.9l4-6.9l4-7l4-6.9l4-7l4-6.9l4-6.8l4-6.8l4-6.7l4-6.6l4-6.5l4-6.3l4-6.3l4-6l4-5.9l4-5.8l4-5.5l4-5.4l4-5.1l4-4.9l4-4.7l4-4.5l4-4.2l4-4l4-3.8l4-3.5l4-3.3l4-3l4-2.7l4-2.6l4-2.2l4-2.1l4-1.8l4-1.6l4-1.3l4-1.2l4-.9l4-.7l4-.5l4-.4l4-.1l4,0l4,.2l4,.3l4,.5l4,.6l4,.7l4,.8l4,1l3.3,.8"/>
<path d="M945.2,560.1l4-3.2l4-3l4-2.5l4-2.2l4-1.8l4-1.3l4-.9l4-.4l4,.2l4,.7l4,1.2l4,1.7l4,2l4,2.4l4,2.8l4,3.2l4,3.4l4,3.7l4,4l4,4.2l4,4.4l4,4.6l4,4.7l4,4.9l4,4.9l4,5l4,5.1l4,5l4,5.1l4,5.1l4,5l4,5l4,5l4,4.9l4,4.8l4,4.8l4,4.7l4,4.6l4,4.6l4,4.5l4,4.4l4,4.4l4,4.4l4,4.3l4,4.3l4,4.3l4,4.2l4,4.3l4,4.3l4,4.3l4,4.4l4,4.3l4,4.5l4,4.5l4,4.5l4,4.6l4,4.6l4,4.7l4,4.7l4,4.8l4,4.8l4,4.8l4,4.9l4,4.8l4,4.8l4,4.8l4,4.8l4,4.6l4,4.6l4,4.5l4,4.4l4,4.2l4,4.1l4,3.8l4,3.7l4,3.4l4,3.2l4,2.9l4,2.6l4,2.3l4,2.1l4,1.7l4,1.3l4,1l4,.7l4,.4l4,0l4-.3l4-.4l4-.7l4-.9l4-1.1l4-1.3l4-1.6l4-1.9l4-2l4-2.4l4-2.5l4-2.9l4-3l4-3.4l4-3.5l4-3.8l4-4.1l4-4.3l4-4.5l4-4.8l4-4.9l4-5.2l4-5.4l4-5.5l4-5.7l4-5.9l4-6.1l4-6.2l4-6.3l4-6.5l4-6.5l4-6.6l4-6.7l4-6.7l4-6.8l4-6.8l4-6.8l4-6.8l4-6.8l4-6.7l4-6.7l4-6.6l4-6.6l4-6.4l4-6.3l4-6.2l4-6l4-5.9l4-5.8l4-5.5l4-5.4l4-5.2l4-5l4-4.8l4-4.6l4-4.3l4-4.2l4-3.9l4-3.6l4-3.5l4-3.2l4-2.9l4-2.8l4-2.5l4-2.3l4-2l4-1.8l4-1.6l4-1.4l4-1.2l4-1l4-.7l4-.6l4-.4l4-.3l4,0l4,0l4,.3l4,.4l4,.5l4,.6l4,.7l3.3,.7"/>
<path d="M945.2,562.0l4-3.5l4-3.1l4-2.8l4-2.4l4-1.9l4-1.5l4-1l4-.5l4,.3l4,1l4,1.4l4,1.9l4,2.3l4,2.7l4,3.1l4,3.4l4,3.7l4,3.9l4,4.2l4,4.4l4,4.6l4,4.7l4,4.9l4,4.9l4,5l4,5l4,5l4,5.1l4,5l4,5.1l4,4.9l4,4.9l4,4.9l4,4.8l4,4.7l4,4.7l4,4.6l4,4.5l4,4.4l4,4.4l4,4.4l4,4.3l4,4.2l4,4.3l4,4.2l4,4.2l4,4.2l4,4.2l4,4.2l4,4.2l4,4.3l4,4.3l4,4.3l4,4.4l4,4.5l4,4.4l4,4.5l4,4.6l4,4.6l4,4.6l4,4.7l4,4.6l4,4.7l4,4.7l4,4.6l4,4.6l4,4.6l4,4.4l4,4.4l4,4.3l4,4.2l4,4l4,3.9l4,3.6l4,3.5l4,3.3l4,3.1l4,2.8l4,2.5l4,2.3l4,2l4,1.7l4,1.4l4,1.1l4,.8l4,.5l4,.1l4-.2l4-.3l4-.7l4-.9l4-1.1l4-1.4l4-1.6l4-1.9l4-2.1l4-2.4l4-2.7l4-2.9l4-3.2l4-3.4l4-3.7l4-4l4-4.1l4-4.5l4-4.6l4-4.9l4-5.1l4-5.3l4-5.4l4-5.7l4-5.8l4-6l4-6.2l4-6.3l4-6.4l4-6.5l4-6.5l4-6.7l4-6.7l4-6.8l4-6.8l4-6.7l4-6.8l4-6.8l4-6.7l4-6.7l4-6.6l4-6.5l4-6.5l4-6.3l4-6.2l4-6l4-6l4-5.7l4-5.6l4-5.4l4-5.2l4-5l4-4.9l4-4.6l4-4.4l4-4.1l4-4l4-3.7l4-3.5l4-3.2l4-3.1l4-2.8l4-2.5l4-2.4l4-2.1l4-1.9l4-1.6l4-1.5l4-1.2l4-1.1l4-.9l4-.6l4-.5l4-.3l4-.2l4,0l4,.2l4,.3l4,.4l4,.6l4,.6l4,.8l3.3,.7"/>
<path d="M945.2,555.9l4-3.9l4-3.6l4-3.3l4-3l4-2.5l4-2.1l4-1.7l4-1.2l4-.6l4-.1l4,.6l4,1.2l4,1.6l4,2.1l4,2.5l4,2.9l4,3.3l4,3.6l4,3.9l4,4.1l4,4.4l4,4.6l4,4.8l4,5l4,5l4,5.1l4,5.2l4,5.3l4,5.2l4,5.3l4,5.2l4,5.2l4,5.2l4,5.1l4,5.1l4,5l4,4.9l4,4.8l4,4.8l4,4.7l4,4.7l4,4.6l4,4.5l4,4.5l4,4.5l4,4.5l4,4.4l4,4.5l4,4.5l4,4.4l4,4.6l4,4.5l4,4.6l4,4.7l4,4.6l4,4.8l4,4.8l4,4.8l4,4.9l4,4.9l4,5l4,4.9l4,5l4,4.9l4,5l4,4.9l4,4.8l4,4.7l4,4.7l4,4.5l4,4.4l4,4.3l4,4l4,3.9l4,3.6l4,3.4l4,3.1l4,2.9l4,2.5l4,2.2l4,1.9l4,1.6l4,1.2l4,.9l4,.5l4,.2l4-.1l4-.3l4-.5l4-.7l4-.9l4-1.2l4-1.3l4-1.6l4-1.8l4-2l4-2.3l4-2.5l4-2.7l4-3l4-3.2l4-3.5l4-3.7l4-3.9l4-4.1l4-4.3l4-4.6l4-4.8l4-4.9l4-5.2l4-5.3l4-5.6l4-5.6l4-5.8l4-6l4-6.1l4-6.2l4-6.3l4-6.3l4-6.5l4-6.5l4-6.5l4-6.6l4-6.6l4-6.6l4-6.5l4-6.6l4-6.5l4-6.4l4-6.3l4-6.3l4-6.1l4-6.1l4-5.9l4-5.8l4-5.6l4-5.5l4-5.3l4-5.1l4-4.9l4-4.8l4-4.5l4-4.3l4-4.1l4-3.9l4-3.7l4-3.5l4-3.2l4-3l4-2.8l4-2.6l4-2.3l4-2.1l4-1.9l4-1.7l4-1.5l4-1.2l4-1.1l4-.9l4-.7l4-.5l4-.3l4-.2l4,0l4,.1l4,.3l4,.4l4,.6l4,.6l3.3,.6"/>
<path d="M945.2,558.0l4-3.7l4-3.5l4-3.1l4-2.8l4-2.4l4-1.9l4-1.4l4-.9l4-.2l4,.6l4,1.2l4,1.7l4,2.1l4,2.6l4,3l4,3.3l4,3.6l4,3.9l4,4.2l4,4.3l4,4.5l4,4.7l4,4.8l4,4.9l4,4.9l4,5l4,5l4,5l4,5l4,5l4,5l4,4.8l4,4.9l4,4.7l4,4.8l4,4.6l4,4.5l4,4.5l4,4.5l4,4.4l4,4.3l4,4.3l4,4.2l4,4.2l4,4.2l4,4.2l4,4.2l4,4.1l4,4.2l4,4.2l4,4.3l4,4.2l4,4.3l4,4.4l4,4.4l4,4.4l4,4.4l4,4.5l4,4.5l4,4.6l4,4.5l4,4.6l4,4.5l4,4.6l4,4.5l4,4.5l4,4.4l4,4.3l4,4.3l4,4.2l4,4l4,3.9l4,3.7l4,3.6l4,3.4l4,3.1l4,3l4,2.7l4,2.5l4,2.2l4,1.9l4,1.7l4,1.4l4,1.1l4,.7l4,.5l4,.2l4-.1l4-.3l4-.6l4-.8l4-1l4-1.2l4-1.5l4-1.7l4-1.9l4-2.2l4-2.5l4-2.6l4-2.9l4-3.2l4-3.4l4-3.6l4-3.8l4-4.1l4-4.3l4-4.5l4-4.7l4-5l4-5.1l4-5.2l4-5.5l4-5.6l4-5.8l4-5.8l4-6.1l4-6.1l4-6.2l4-6.3l4-6.3l4-6.5l4-6.4l4-6.5l4-6.5l4-6.5l4-6.4l4-6.4l4-6.4l4-6.3l4-6.3l4-6.1l4-6.1l4-5.9l4-5.8l4-5.7l4-5.6l4-5.3l4-5.2l4-5.1l4-4.8l4-4.7l4-4.5l4-4.2l4-4.1l4-3.8l4-3.7l4-3.4l4-3.2l4-3l4-2.7l4-2.6l4-2.3l4-2.2l4-1.9l4-1.7l4-1.5l4-1.3l4-1.1l4-.9l4-.8l4-.6l4-.4l4-.2l4-.1l4,.1l4,.1l4,.4l4,.4l4,.6l3.3,.5"/>
<path d="M945.2,551.7l4-3.9l4-3.7l4-3.4l4-3l4-2.6l4-2.3l4-1.8l4-1.4l4-.8l4-.1l4,.7l4,1.2l4,1.7l4,2.1l4,2.6l4,2.9l4,3.3l4,3.6l4,3.9l4,4.1l4,4.3l4,4.5l4,4.7l4,4.7l4,4.9l4,5l4,4.9l4,5.1l4,5l4,5l4,5l4,5l4,4.9l4,4.9l4,4.8l4,4.8l4,4.6l4,4.6l4,4.6l4,4.5l4,4.4l4,4.4l4,4.3l4,4.3l4,4.3l4,4.3l4,4.2l4,4.2l4,4.3l4,4.2l4,4.3l4,4.3l4,4.3l4,4.4l4,4.3l4,4.5l4,4.4l4,4.6l4,4.5l4,4.6l4,4.5l4,4.6l4,4.7l4,4.6l4,4.6l4,4.5l4,4.5l4,4.5l4,4.4l4,4.3l4,4.2l4,4l4,4l4,3.7l4,3.6l4,3.4l4,3.2l4,3l4,2.7l4,2.5l4,2.2l4,1.9l4,1.6l4,1.4l4,1.1l4,.7l4,.5l4,.1l4-.1l4-.3l4-.5l4-.7l4-.9l4-1.1l4-1.3l4-1.6l4-1.8l4-2l4-2.3l4-2.5l4-2.8l4-2.9l4-3.3l4-3.5l4-3.7l4-3.9l4-4.2l4-4.4l4-4.6l4-4.9l4-5l4-5.2l4-5.4l4-5.6l4-5.8l4-5.9l4-6l4-6.2l4-6.3l4-6.3l4-6.5l4-6.5l4-6.6l4-6.5l4-6.7l4-6.6l4-6.6l4-6.6l4-6.5l4-6.4l4-6.4l4-6.3l4-6.2l4-6.1l4-5.9l4-5.8l4-5.7l4-5.4l4-5.3l4-5.1l4-4.9l4-4.7l4-4.5l4-4.3l4-4l4-3.9l4-3.6l4-3.3l4-3.1l4-2.9l4-2.7l4-2.4l4-2.1l4-2l4-1.7l4-1.5l4-1.3l4-1.1l4-.9l4-.7l4-.4l4-.4l4-.1l4,0l4,.2l4,.3l4,.5l4,.5l4,.7l3.3,.7"/>
<path d="M945.2,553.5l4-4.1l4-3.9l4-3.5l4-3.2l4-2.9l4-2.4l4-2l4-1.4l4-.8l4,0l4,.8l4,1.5l4,2l4,2.4l4,2.8l4,3.3l4,3.5l4,3.9l4,4.1l4,4.3l4,4.6l4,4.7l4,4.8l4,4.9l4,5l4,5l4,5.1l4,5.1l4,5l4,5l4,5l4,5l4,4.9l4,4.8l4,4.7l4,4.7l4,4.6l4,4.6l4,4.5l4,4.4l4,4.4l4,4.3l4,4.3l4,4.3l4,4.2l4,4.3l4,4.2l4,4.2l4,4.3l4,4.2l4,4.3l4,4.3l4,4.4l4,4.3l4,4.4l4,4.5l4,4.5l4,4.5l4,4.5l4,4.5l4,4.6l4,4.5l4,4.5l4,4.5l4,4.5l4,4.4l4,4.4l4,4.2l4,4.2l4,4.1l4,3.9l4,3.8l4,3.6l4,3.5l4,3.2l4,3.1l4,2.8l4,2.6l4,2.3l4,2.1l4,1.8l4,1.5l4,1.3l4,.9l4,.7l4,.3l4,.1l4-.1l4-.3l4-.5l4-.7l4-.8l4-1.1l4-1.3l4-1.4l4-1.7l4-1.9l4-2.1l4-2.4l4-2.6l4-2.8l4-3l4-3.3l4-3.4l4-3.7l4-4l4-4.1l4-4.3l4-4.6l4-4.8l4-4.9l4-5.1l4-5.3l4-5.5l4-5.6l4-5.7l4-5.9l4-6l4-6.1l4-6.2l4-6.3l4-6.3l4-6.4l4-6.4l4-6.5l4-6.4l4-6.5l4-6.4l4-6.4l4-6.3l4-6.2l4-6.2l4-6.1l4-5.9l4-5.9l4-5.7l4-5.6l4-5.4l4-5.2l4-5.1l4-4.9l4-4.7l4-4.5l4-4.3l4-4l4-3.9l4-3.7l4-3.4l4-3.2l4-3l4-2.7l4-2.6l4-2.3l4-2l4-1.9l4-1.7l4-1.4l4-1.2l4-1.1l4-.8l4-.6l4-.5l4-.3l4-.2l4,.1l4,.1l4,.4l4,.4l4,.6l3.3,.5"/>
<path d="M945.2,531.7l4-3.6l4-3.2l4-2.9l4-2.6l4-2l4-1.7l4-1l4-.4l4,.6l4,1.1l4,1.8l4,2.1l4,2.6l4,3l4,3.4l4,3.6l4,3.9l4,4.1l4,4.4l4,4.5l4,4.6l4,4.8l4,4.9l4,4.9l4,5l4,5l4,5l4,5l4,5l4,5l4,4.9l4,4.8l4,4.8l4,4.7l4,4.7l4,4.6l4,4.6l4,4.4l4,4.5l4,4.4l4,4.3l4,4.3l4,4.2l4,4.3l4,4.2l4,4.2l4,4.2l4,4.2l4,4.2l4,4.2l4,4.3l4,4.2l4,4.3l4,4.4l4,4.3l4,4.4l4,4.4l4,4.5l4,4.4l4,4.5l4,4.5l4,4.5l4,4.4l4,4.5l4,4.4l4,4.4l4,4.3l4,4.3l4,4.1l4,4.1l4,4l4,3.8l4,3.7l4,3.6l4,3.3l4,3.2l4,3l4,2.8l4,2.5l4,2.4l4,2l4,1.9l4,1.5l4,1.3l4,1.1l4,.7l4,.5l4,.2l4-.1l4-.2l4-.4l4-.6l4-.8l4-1l4-1.2l4-1.4l4-1.7l4-1.8l4-2.1l4-2.4l4-2.5l4-2.8l4-3l4-3.2l4-3.5l4-3.7l4-3.9l4-4.1l4-4.4l4-4.5l4-4.8l4-4.9l4-5.1l4-5.3l4-5.5l4-5.6l4-5.7l4-5.9l4-6l4-6.1l4-6.2l4-6.2l4-6.3l4-6.4l4-6.4l4-6.4l4-6.4l4-6.4l4-6.4l4-6.4l4-6.2l4-6.2l4-6.1l4-6.1l4-5.9l4-5.8l4-5.6l4-5.5l4-5.3l4-5.2l4-5l4-4.8l4-4.6l4-4.5l4-4.2l4-4l4-3.7l4-3.6l4-3.3l4-3.2l4-2.9l4-2.6l4-2.5l4-2.2l4-2l4-1.8l4-1.5l4-1.4l4-1.1l4-1l4-.8l4-.6l4-.4l4-.2l4-.1l4,.1l4,.2l4,.3l4,.5l3.3,.5"/>
<path d="M945.2,516.7l4-4l4-3.8l4-3.4l4-3.1l4-2.7l4-2.3l4-1.8l4-1.2l4-.6l4,.3l4,1l4,1.6l4,2.1l4,2.5l4,3l4,3.3l4,3.6l4,4l4,4.2l4,4.4l4,4.6l4,4.8l4,5l4,5l4,5.1l4,5.2l4,5.2l4,5.3l4,5.2l4,5.3l4,5.2l4,5.2l4,5.1l4,5.1l4,5l4,4.9l4,4.9l4,4.8l4,4.8l4,4.7l4,4.6l4,4.6l4,4.6l4,4.5l4,4.5l4,4.5l4,4.4l4,4.5l4,4.4l4,4.5l4,4.5l4,4.5l4,4.5l4,4.5l4,4.6l4,4.6l4,4.6l4,4.7l4,4.7l4,4.7l4,4.7l4,4.8l4,4.7l4,4.7l4,4.7l4,4.7l4,4.6l4,4.6l4,4.5l4,4.4l4,4.4l4,4.2l4,4l4,3.9l4,3.8l4,3.6l4,3.4l4,3.1l4,3l4,2.7l4,2.5l4,2.2l4,1.9l4,1.7l4,1.4l4,1.1l4,.8l4,.5l4,.2l4-.1l4-.2l4-.4l4-.6l4-.8l4-.9l4-1.2l4-1.5l4-1.6l4-1.9l4-2.1l4-2.3l4-2.6l4-2.8l4-3.1l4-3.3l4-3.6l4-3.7l4-4.1l4-4.2l4-4.5l4-4.7l4-4.8l4-5.1l4-5.3l4-5.5l4-5.6l4-5.8l4-6l4-6.1l4-6.2l4-6.3l4-6.4l4-6.5l4-6.5l4-6.6l4-6.6l4-6.6l4-6.6l4-6.6l4-6.5l4-6.5l4-6.4l4-6.4l4-6.2l4-6.1l4-6l4-5.9l4-5.6l4-5.6l4-5.3l4-5.2l4-4.9l4-4.8l4-4.5l4-4.3l4-4.1l4-3.9l4-3.6l4-3.4l4-3.1l4-2.9l4-2.6l4-2.5l4-2.1l4-2l4-1.7l4-1.5l4-1.2l4-1.1l4-.8l4-.7l4-.4l4-.3l4-.1l4,.1l4,.3l4,.3l4,.5l4,.7l3.3,.6"/>
</g>
<g class="eb">
<line x1="162.6" y1="119" x2="162.6" y2="134"/>
<line x1="163.3" y1="117.3" x2="163.3" y2="134.3"/>
<line x1="167.65" y1="101" x2="167.65" y2="127.8"/>
<line x1="174.7" y1="119.2" x2="174.7" y2="153.2"/>
<line x1="176.2" y1="134.1" x2="176.2" y2="151.1"/>
<line x1="166" y1="125.7" x2="166" y2="172.9"/>
<line x1="169.5" y1="164.4" x2="169.5" y2="195.8"/>
<line x1="172.9" y1="61.5" x2="172.9" y2="94.9"/>
<line x1="521.65" y1="64.46" x2="521.65" y2="113.46"/>
<line x1="528.2" y1="104.3" x2="528.2" y2="139.3"/>
<line x1="663.5" y1="374.9" x2="663.5" y2="398.9"/>
<line x1="664.9" y1="404.6" x2="664.9" y2="441.2"/>
<line x1="668.8" y1="409.5" x2="668.8" y2="430.7"/>
<line x1="672.2" y1="403" x2="672.2" y2="437.2"/>
<line x1="742" y1="260.1" x2="742" y2="282.9"/>
<line x1="762.6" y1="227.4" x2="762.6" y2="251.6"/>
<line x1="837.6" y1="40.45" x2="837.6" y2="64.45"/>
</g>
<g class="pt">
<circle cx="162.6" cy="126.5" r="6.1"/>
<circle cx="163.3" cy="125.8" r="6.1"/>
<circle cx="167.65" cy="114.4" r="6.1"/>
<circle cx="171.3" cy="120.3" r="6.1"/>
<circle cx="174.7" cy="136.2" r="6.1"/>
<circle cx="176.2" cy="142.6" r="6.1"/>
<circle cx="166" cy="149.3" r="6.1"/>
<circle cx="169.5" cy="180.1" r="6.1"/>
<circle cx="172.9" cy="78.2" r="6.1"/>
<circle cx="521.65" cy="88.96" r="6.1"/>
<circle cx="535.4" cy="96.7" r="6.1"/>
<circle cx="523.1" cy="105.7" r="6.1"/>
<circle cx="528.2" cy="121.8" r="6.1"/>
<circle cx="532.1" cy="112.6" r="6.1"/>
<circle cx="542.2" cy="125.4" r="6.1"/>
<circle cx="663.5" cy="386.9" r="6.1"/>
<circle cx="664.9" cy="422.9" r="6.1"/>
<circle cx="668.8" cy="420.1" r="6.1"/>
<circle cx="672.2" cy="420.1" r="6.1"/>
<circle cx="742" cy="271.5" r="6.1"/>
<circle cx="762.6" cy="239.5" r="6.1"/>
<circle cx="836" cy="27.9" r="6.1"/>
<circle cx="824.1" cy="48.4" r="6.1"/>
<circle cx="837.6" cy="52.45" r="6.1"/>
<circle cx="846.65" cy="54.65" r="6.1"/>
<circle cx="817.3" cy="85.9" r="6.1"/>
<circle cx="818.3" cy="74.1" r="6.1"/>
<circle cx="821.1" cy="74.1" r="6.1"/>
<circle cx="825" cy="74.5" r="6.1"/>
<circle cx="829.4" cy="74.1" r="6.1"/>
<circle cx="831.3" cy="82.2" r="6.1"/>
</g>
<g class="eb">
<line x1="939.7" y1="414.3" x2="939.7" y2="428.3"/>
<line x1="950.3" y1="420.2" x2="950.3" y2="442.8"/>
<line x1="1525.55" y1="365.4" x2="1525.55" y2="403.8"/>
<line x1="1535.6" y1="335.7" x2="1535.6" y2="377.5"/>
<line x1="1550.55" y1="350.9" x2="1550.55" y2="368.9"/>
<line x1="1580.6" y1="367.3" x2="1580.6" y2="382.3"/>
<line x1="1585.7" y1="342.5" x2="1585.7" y2="374.5"/>
<line x1="1625.8" y1="369.95" x2="1625.8" y2="400.55"/>
<line x1="1620.7" y1="359.3" x2="1620.7" y2="374.7"/>
</g>
<g class="pt">
<circle cx="939.7" cy="421.3" r="6.1"/>
<circle cx="945.4" cy="415" r="6.1"/>
<circle cx="950.3" cy="431.5" r="6.1"/>
<circle cx="1265.8" cy="43" r="6.1"/>
<circle cx="1310.4" cy="39.6" r="6.1"/>
<circle cx="1370.5" cy="98.3" r="6.1"/>
<circle cx="1440.3" cy="226.2" r="6.1"/>
<circle cx="1445.6" cy="224.5" r="6.1"/>
<circle cx="1525.55" cy="384.6" r="6.1"/>
<circle cx="1535.6" cy="356.6" r="6.1"/>
<circle cx="1530.7" cy="373.9" r="6.1"/>
<circle cx="1550.55" cy="359.9" r="6.1"/>
<circle cx="1580.6" cy="374.8" r="6.1"/>
<circle cx="1585.7" cy="358.5" r="6.1"/>
<circle cx="1610.45" cy="369.4" r="6.1"/>
<circle cx="1625.8" cy="385.25" r="6.1"/>
<circle cx="1620.7" cy="367" r="6.1"/>
</g>
<g class="eb">
<line x1="163.4" y1="815.7" x2="163.4" y2="834.7"/>
<line x1="166.8" y1="815.7" x2="166.8" y2="834.7"/>
<line x1="172.1" y1="805.8" x2="172.1" y2="821.8"/>
<line x1="169.5" y1="767.5" x2="169.5" y2="801.1"/>
<line x1="174.5" y1="746.5" x2="174.5" y2="775.7"/>
<line x1="591.1" y1="691.3" x2="591.1" y2="709.3"/>
<line x1="665.65" y1="508" x2="665.65" y2="524.8"/>
<line x1="671.1" y1="541.9" x2="671.1" y2="559.9"/>
<line x1="760.4" y1="735.2" x2="760.4" y2="753.2"/>
<line x1="768.1" y1="803.9" x2="768.1" y2="839.1"/>
</g>
<g class="pt">
<circle cx="163.4" cy="825.2" r="6.1"/>
<circle cx="166.8" cy="825.2" r="6.1"/>
<circle cx="172.1" cy="813.8" r="6.1"/>
<circle cx="169.5" cy="784.3" r="6.1"/>
<circle cx="174.5" cy="761.1" r="6.1"/>
<circle cx="531.9" cy="858.4" r="6.1"/>
<circle cx="591.1" cy="700.3" r="6.1"/>
<circle cx="604" cy="668" r="6.1"/>
<circle cx="663.2" cy="526.4" r="6.1"/>
<circle cx="665.65" cy="516.4" r="6.1"/>
<circle cx="667.8" cy="530.7" r="6.1"/>
<circle cx="671.1" cy="550.9" r="6.1"/>
<circle cx="747.3" cy="692.1" r="6.1"/>
<circle cx="750" cy="699.2" r="6.1"/>
<circle cx="752.3" cy="715.3" r="6.1"/>
<circle cx="760.4" cy="744.2" r="6.1"/>
<circle cx="768.1" cy="821.5" r="6.1"/>
<circle cx="819.5" cy="914.8" r="6.1"/>
<circle cx="827.2" cy="904.4" r="6.1"/>
<circle cx="840.3" cy="904.7" r="6.1"/>
<circle cx="832.2" cy="916.2" r="6.1"/>
<circle cx="834.9" cy="923.5" r="6.1"/>
</g>
<g class="eb">
<line x1="946.6" y1="556.9" x2="946.6" y2="577.7"/>
<line x1="1521.5" y1="567.8" x2="1521.5" y2="589"/>
<line x1="1541.7" y1="548.3" x2="1541.7" y2="574.3"/>
<line x1="1602.1" y1="532.5" x2="1602.1" y2="552.5"/>
<line x1="1612.1" y1="577.2" x2="1612.1" y2="605"/>
</g>
<g class="pt">
<circle cx="946.6" cy="567.3" r="6.1"/>
<circle cx="1440.6" cy="698.5" r="6.1"/>
<circle cx="1521.5" cy="578.4" r="6.1"/>
<circle cx="1541.7" cy="561.3" r="6.1"/>
<circle cx="1602.1" cy="542.5" r="6.1"/>
<circle cx="1612.1" cy="591.1" r="6.1"/>
</g>
<rect x="128.5" y="0.2" width="754.55" height="463.8" fill="none" stroke="#000" stroke-width="1.3"/>
<rect x="905.4" y="0.2" width="754.7" height="463.8" fill="none" stroke="#000" stroke-width="1.3"/>
<rect x="128.5" y="487.4" width="754.55" height="463.8" fill="none" stroke="#000" stroke-width="1.3"/>
<rect x="905.4" y="487.4" width="754.7" height="463.8" fill="none" stroke="#000" stroke-width="1.3"/>
<line x1="321.9" y1="464" x2="321.9" y2="476.4" stroke="#000" stroke-width="1.35"/>
<line x1="529.2" y1="464" x2="529.2" y2="476.4" stroke="#000" stroke-width="1.35"/>
<line x1="736.5" y1="464" x2="736.5" y2="476.4" stroke="#000" stroke-width="1.35"/>
<line x1="1098.9" y1="464" x2="1098.9" y2="476.4" stroke="#000" stroke-width="1.35"/>
<line x1="1306.2" y1="464" x2="1306.2" y2="476.4" stroke="#000" stroke-width="1.35"/>
<line x1="1513.5" y1="464" x2="1513.5" y2="476.4" stroke="#000" stroke-width="1.35"/>
<line x1="321.9" y1="951.2" x2="321.9" y2="963.6" stroke="#000" stroke-width="1.35"/>
<text transform="translate(321.9 997.1) scale(1 1.02)" text-anchor="middle">3000</text>
<line x1="529.2" y1="951.2" x2="529.2" y2="963.6" stroke="#000" stroke-width="1.35"/>
<text transform="translate(529.2 997.1) scale(1 1.02)" text-anchor="middle">4000</text>
<line x1="736.5" y1="951.2" x2="736.5" y2="963.6" stroke="#000" stroke-width="1.35"/>
<text transform="translate(736.5 997.1) scale(1 1.02)" text-anchor="middle">5000</text>
<line x1="1098.9" y1="951.2" x2="1098.9" y2="963.6" stroke="#000" stroke-width="1.35"/>
<text transform="translate(1098.9 997.1) scale(1 1.02)" text-anchor="middle">3000</text>
<line x1="1306.2" y1="951.2" x2="1306.2" y2="963.6" stroke="#000" stroke-width="1.35"/>
<text transform="translate(1306.2 997.1) scale(1 1.02)" text-anchor="middle">4000</text>
<line x1="1513.5" y1="951.2" x2="1513.5" y2="963.6" stroke="#000" stroke-width="1.35"/>
<text transform="translate(1513.5 997.1) scale(1 1.02)" text-anchor="middle">5000</text>
<line x1="116.1" y1="63" x2="128.5" y2="63" stroke="#000" stroke-width="1.35"/>
<text transform="translate(106.6 72.3) scale(1 1.02)" text-anchor="end">50</text>
<line x1="116.1" y1="149.35" x2="128.5" y2="149.35" stroke="#000" stroke-width="1.35"/>
<text transform="translate(106.6 158.65) scale(1 1.02)" text-anchor="end">0</text>
<line x1="116.1" y1="235.7" x2="128.5" y2="235.7" stroke="#000" stroke-width="1.35"/>
<text transform="translate(106.6 245) scale(1 1.02)" text-anchor="end"><tspan dy="1.2">−</tspan><tspan dy="-1.2">50</tspan></text>
<line x1="116.1" y1="322.05" x2="128.5" y2="322.05" stroke="#000" stroke-width="1.35"/>
<text transform="translate(106.6 331.35) scale(1 1.02)" text-anchor="end"><tspan dy="1.2">−</tspan><tspan dy="-1.2">100</tspan></text>
<line x1="116.1" y1="408.4" x2="128.5" y2="408.4" stroke="#000" stroke-width="1.35"/>
<text transform="translate(106.6 417.7) scale(1 1.02)" text-anchor="end"><tspan dy="1.2">−</tspan><tspan dy="-1.2">150</tspan></text>
<line x1="116.1" y1="496.97" x2="128.5" y2="496.97" stroke="#000" stroke-width="1.35"/>
<text transform="translate(106.6 506.27) scale(1 1.02)" text-anchor="end">150</text>
<line x1="116.1" y1="582.73" x2="128.5" y2="582.73" stroke="#000" stroke-width="1.35"/>
<text transform="translate(106.6 592.03) scale(1 1.02)" text-anchor="end">100</text>
<line x1="116.1" y1="668.49" x2="128.5" y2="668.49" stroke="#000" stroke-width="1.35"/>
<text transform="translate(106.6 677.79) scale(1 1.02)" text-anchor="end">50</text>
<line x1="116.1" y1="754.25" x2="128.5" y2="754.25" stroke="#000" stroke-width="1.35"/>
<text transform="translate(106.6 763.55) scale(1 1.02)" text-anchor="end">0</text>
<line x1="116.1" y1="840.01" x2="128.5" y2="840.01" stroke="#000" stroke-width="1.35"/>
<text transform="translate(106.6 849.31) scale(1 1.02)" text-anchor="end"><tspan dy="1.2">−</tspan><tspan dy="-1.2">50</tspan></text>
<line x1="116.1" y1="925.77" x2="128.5" y2="925.77" stroke="#000" stroke-width="1.35"/>
<text transform="translate(106.6 935.07) scale(1 1.02)" text-anchor="end"><tspan dy="1.2">−</tspan><tspan dy="-1.2">100</tspan></text>
<line x1="1660.1" y1="43.34" x2="1672.5" y2="43.34" stroke="#000" stroke-width="1.35"/>
<text transform="translate(1684.6 52.64) scale(1 1.02)" text-anchor="start">100</text>
<line x1="1660.1" y1="175.42" x2="1672.5" y2="175.42" stroke="#000" stroke-width="1.35"/>
<text transform="translate(1684.6 184.72) scale(1 1.02)" text-anchor="start">50</text>
<line x1="1660.1" y1="307.5" x2="1672.5" y2="307.5" stroke="#000" stroke-width="1.35"/>
<text transform="translate(1684.6 316.8) scale(1 1.02)" text-anchor="start">0</text>
<line x1="1660.1" y1="439.58" x2="1672.5" y2="439.58" stroke="#000" stroke-width="1.35"/>
<text transform="translate(1684.6 448.88) scale(1 1.02)" text-anchor="start"><tspan dy="1.2">−</tspan><tspan dy="-1.2">50</tspan></text>
<line x1="1660.1" y1="589.56" x2="1672.5" y2="589.56" stroke="#000" stroke-width="1.35"/>
<text transform="translate(1684.6 598.86) scale(1 1.02)" text-anchor="start">0</text>
<line x1="1660.1" y1="727.81" x2="1672.5" y2="727.81" stroke="#000" stroke-width="1.35"/>
<text transform="translate(1684.6 737.11) scale(1 1.02)" text-anchor="start"><tspan dy="1.2">−</tspan><tspan dy="-1.2">50</tspan></text>
<line x1="1660.1" y1="866.06" x2="1672.5" y2="866.06" stroke="#000" stroke-width="1.35"/>
<text transform="translate(1684.6 875.36) scale(1 1.02)" text-anchor="start"><tspan dy="1.2">−</tspan><tspan dy="-1.2">100</tspan></text>
<text transform="translate(505.97 1041.8) scale(1 1.02)" text-anchor="middle" word-spacing="1.15">BJD – 2454833</text>
<text transform="translate(1282.95 1041.8) scale(1 1.02)" text-anchor="middle" word-spacing="1.15">BJD – 2454833</text>
<text transform="translate(22 232.3) rotate(-90) scale(1 1.02)" text-anchor="middle" textLength="122.9" lengthAdjust="spacing">TTV (min)</text>
<text transform="translate(1771.9 232.2) rotate(90) scale(1 1.02)" text-anchor="middle" textLength="124.2" lengthAdjust="spacing">TTV (min)</text>
<text transform="translate(22 719.5) rotate(-90) scale(1 1.02)" text-anchor="middle" textLength="122.9" lengthAdjust="spacing">TTV (min)</text>
<text transform="translate(1771.9 719.4) rotate(90) scale(1 1.02)" text-anchor="middle" textLength="124.2" lengthAdjust="spacing">TTV (min)</text>
<text transform="translate(146.2 38) scale(1 1.02)" text-anchor="start">V1298 Tau c</text>
<text transform="translate(923 38.4) scale(1 1.02)" text-anchor="start">V1298 Tau b</text>
<text transform="translate(135.6 519) scale(1 1.02)" text-anchor="start">V1298 Tau d</text>
<text transform="translate(914.8 518) scale(1 1.02)" text-anchor="start">V1298 Tau e</text>
</svg></body></html>
